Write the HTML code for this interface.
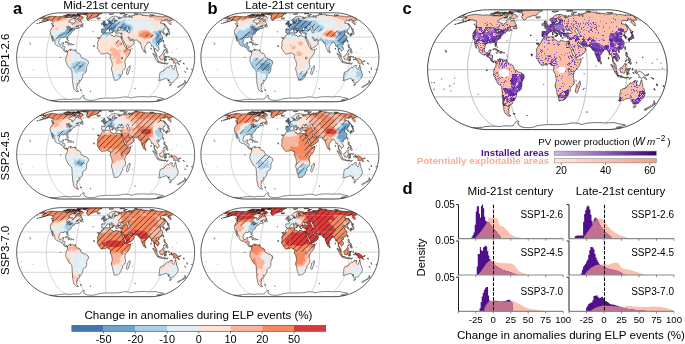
<!DOCTYPE html><html><head><meta charset="utf-8"><style>html,body{margin:0;padding:0;background:#fff;}svg{display:block;will-change:transform;}text{font-family:"Liberation Sans", sans-serif;}</style></head><body>
<svg width="685" height="344" viewBox="0 0 685 344">
<rect width="685" height="344" fill="#fff"/>
<defs><path id="land" d="M-137.8,-87.9 -131.3,-90.6 -127.3,-91.4 -120,-92.5 -117.3,-92.1 -112.9,-91.6 -110.3,-91.3 -107,-90.9 -102.3,-91.4 -99.5,-91.7 -97.3,-91.1 -94.4,-90.9 -91.6,-90.1 -86,-90.1 -83,-90 -78.4,-89.8 -75.3,-91.1 -71.6,-92.9 -71.6,-91.9 -71.6,-90.9 -69.8,-90.4 -66.8,-91.4 -65.2,-90.2 -65.8,-89.1 -68.6,-88.3 -71.6,-86.7 -74.2,-86.5 -76.9,-85.3 -80.8,-83.7 -82.9,-81.5 -82.5,-79.6 -79.7,-79.1 -76.9,-77.8 -74.5,-77.7 -75.9,-74.7 -74.7,-73.3 -73.6,-73.6 -71.6,-77.2 -69.3,-78.4 -67.9,-80.7 -68.4,-82 -66.4,-84 -66,-85 -62.5,-84.8 -61,-83.8 -60.7,-82 -59.5,-81 -56.5,-82.5 -55.7,-83 -55,-80.1 -55.2,-78.8 -53.5,-77.5 -52.5,-75.8 -51.7,-74.3 -53.6,-73.4 -56.5,-72 -60.2,-72.1 -62.8,-71.5 -67,-69.1 -61.2,-70.6 -61.8,-69.1 -62.5,-68.1 -61.9,-67.2 -59.3,-66.3 -61.5,-65.3 -64.6,-64 -65.2,-65.4 -65.5,-65.2 -67.7,-64.4 -69.5,-63.3 -70.1,-62.4 -69.5,-61.6 -71.2,-61.1 -74,-60 -74.4,-58.6 -76.3,-57.2 -77.4,-55.5 -78.1,-53.8 -77.6,-52.9 -79.3,-51.9 -81.7,-50.5 -83.9,-48.6 -85.2,-46.2 -85.1,-43.4 -85,-40.8 -85.9,-38.5 -86.7,-38.6 -87.1,-40.1 -87.5,-42 -87.3,-44 -88.2,-45.4 -89.9,-45.2 -90.7,-46 -92.8,-46 -94,-45.6 -94,-44.3 -95.4,-44.2 -96.8,-44.9 -98.9,-44.9 -100.8,-43.6 -103,-42 -103.8,-39.7 -104.7,-36.7 -105.4,-34.1 -105.2,-31.7 -104.5,-29.6 -103.1,-28.5 -101.8,-28.4 -99.9,-28.7 -98.3,-30.5 -97.6,-32.3 -95.6,-33 -94,-33 -95,-30 -95.6,-28.2 -96.3,-26.6 -96.6,-24.4 -95.2,-24.4 -93,-24.6 -91.3,-23.2 -91.8,-20.1 -92.3,-17.2 -91.7,-15.5 -90.1,-13.8 -87.8,-14.9 -86.2,-14.3 -85.6,-13.4 -86.3,-11.4 -86.9,-12.9 -87.9,-13.7 -89,-12.4 -88.9,-11.5 -90.4,-12.6 -92,-13.1 -94.7,-15.4 -94.6,-17.2 -96.3,-20.1 -98.3,-20.9 -100.5,-21.7 -101.8,-24 -103.7,-25 -105.6,-24.3 -107.7,-25.2 -110.2,-26.7 -112.6,-28.4 -114.4,-30.5 -113.8,-33.5 -114.5,-35.7 -115.7,-38.5 -116.6,-40.1 -117.5,-42.6 -118.4,-44.7 -118.5,-47.1 -119.8,-47.9 -120.1,-46.2 -119.4,-43.7 -119.1,-41.6 -118.6,-39.4 -118.4,-37 -117.7,-35.5 -118.4,-35.8 -119.7,-37.6 -119.6,-39.7 -120.7,-40.8 -121.4,-42.3 -120.6,-43.3 -121.6,-45.2 -121.7,-47.7 -121.8,-49.1 -122.4,-50.9 -124.3,-51.8 -124.4,-54.5 -124.4,-56.1 -124.8,-57.8 -124.3,-59.7 -123.2,-61.8 -122.6,-63.5 -119.8,-67.2 -118.9,-69.7 -116.8,-70.5 -117.5,-71.5 -118.5,-72.7 -118.9,-73.9 -118.4,-75.6 -118.7,-76.9 -118.5,-78.3 -118.8,-80.1 -118.7,-81.7 -120.8,-81.4 -121.8,-82.3 -124.1,-82.7 -125.6,-83.6 -128.4,-83.1 -131.7,-82 -132.7,-81.9 -129.1,-83.9 -132.4,-82.7 -135.4,-81.3 -139,-79.9 -142.6,-78.5 -145.4,-78 -148,-77.3 -150.2,-76.8 -147,-78 -143.1,-79.3 -139.2,-81.2 -140.6,-81.4 -141,-82.5 -142,-83.3 -141,-84.5 -138.4,-85.8 -133.8,-86.9 -134.6,-87 -137.6,-87 -137,-87.7ZM-50.6,-96.9 -46.6,-97.6 -41.7,-98.2 -38.7,-98.4 -35.7,-98.6 -32.3,-98.7 -28.9,-98.8 -25.5,-98.9 -22.2,-99 -19.1,-98.9 -16,-98.9 -13,-98.5 -10.5,-98.4 -7.9,-98.3 -11.5,-97.6 -13.2,-96.9 -13.1,-96.1 -14.5,-95.3 -15.9,-94.3 -16.7,-93.1 -17,-91.9 -18.9,-91 -21.4,-90.4 -25.5,-90 -28.5,-88.5 -31.2,-87.8 -33.1,-87.2 -34.4,-86 -36.4,-84.2 -37.8,-82.7 -39.3,-83.2 -41.1,-84.2 -42,-85.6 -42.5,-86.7 -43,-88.1 -43.2,-89.1 -42.5,-90.4 -40.5,-91 -42.2,-91.9 -40.3,-92.5 -41.6,-93.2 -41.9,-94.2 -42.4,-95.3 -44.1,-95.7 -47.5,-95.6 -49.3,-95.9 -50.4,-96.4ZM-85.6,-13.4 -84.6,-13.8 -83.8,-14.9 -83.3,-16.5 -81.9,-17.2 -80.5,-17.7 -79.4,-18.9 -78.6,-18.3 -79.3,-17.1 -79,-16.2 -78.8,-14.3 -78.1,-16.5 -77.1,-18.3 -76.6,-17.8 -75.3,-16.9 -73.2,-16.5 -71.2,-15.8 -69.5,-16.6 -68.8,-16.3 -68.3,-15.2 -67.3,-13.2 -66.2,-12.9 -64.6,-11 -63.3,-9.2 -61.5,-9.2 -59.9,-8.9 -58.2,-7.8 -57.2,-6.5 -56.6,-5 -55.9,-2.8 -55.6,-0.8 -55,0.3 -53.7,1.4 -52.2,1.1 -50.6,2 -49.2,3.9 -47.2,4.2 -45,4.4 -42.7,5.8 -41.3,7.5 -39.4,8.1 -38.7,10.9 -38.8,14 -40.2,16.3 -41.3,18.6 -42.6,20.6 -42.7,24 -42.7,27 -43.2,30 -43.8,32.3 -45,34.5 -46.8,35.3 -48.3,36.1 -50.1,37.2 -51.4,39.2 -51.5,41.8 -51.6,43.6 -52.7,46.3 -53.7,48.3 -54.8,50.7 -55.6,52 -57.1,52.3 -58.4,52 -60.2,51.6 -58.8,53.3 -58,54.5 -58.3,56.8 -60.1,57.5 -62.5,57.9 -62.3,60 -64.5,60.3 -64.4,62.1 -63.1,62.6 -63.6,63.1 -63.8,65 -64.9,65.7 -65.2,67.3 -63.9,68.5 -64.4,70 -64.3,71.9 -64.4,73.3 -63.4,74.4 -62.9,75.8 -60.8,77 -62.1,77.5 -63.9,77.5 -66,76.6 -68,75.2 -69.4,74.1 -70.6,72.4 -71.9,70 -72,67.9 -73.2,66.3 -72.5,64.1 -73.4,61.8 -73.9,59.2 -74.3,57.2 -74.6,55.5 -74.5,53.1 -74.3,50.1 -74.7,47.6 -75.2,44.7 -75.3,41.8 -75.2,38.9 -75.6,36 -75.8,32.3 -76.5,28.4 -77.8,27.2 -80.3,25.2 -82.4,23.5 -83.8,21.4 -85,18.9 -86.4,16 -87.9,12.4 -89.2,10.1 -90,9 -90.1,6.7 -89.2,5.3 -89.9,3.4 -89.3,0.9 -89,-1.2 -87.7,-2.3 -87.4,-3.9 -86.2,-5.5 -85.8,-7 -85.9,-10.1 -86.3,-11.4ZM-6,-53.6 -4.6,-52.7 -2.3,-52.6 -1,-53.3 1,-54.5 3.1,-54.9 5.6,-54.9 8.7,-55.1 10,-55.6 10.5,-55.1 11.3,-55.2 10.7,-54.2 11.4,-53 10.9,-51.9 10.3,-51.4 11.2,-50.5 11.9,-49.8 14,-49.4 15.9,-48.7 16.5,-47.3 19.4,-46.3 20.5,-45.9 21,-46.7 20.9,-48 21.4,-49 22.8,-49.5 24.1,-48.8 26.1,-48 28,-47.6 30.4,-46.7 31.9,-47.4 33.2,-47.6 33.9,-47.1 35.7,-47.3 36.7,-44.7 36.5,-43.4 36.3,-42.3 35.5,-43 34.3,-45.3 34.1,-44.7 34.9,-43 35.9,-41.1 36.5,-39.7 38.1,-36.7 38.4,-35.3 39.6,-33.8 40.2,-32.3 40.3,-30 40.8,-28.5 41.9,-27.8 42.6,-25.5 43.5,-23.7 44.9,-22.1 45.9,-20.8 46.9,-19.5 47.7,-18.6 47.4,-17.8 48.6,-16.3 50.2,-16.6 51.8,-17.2 53.8,-17.5 55.6,-18.3 56.5,-18.3 56.3,-16.3 56.1,-14.5 55.3,-12.4 54.5,-10.1 53.3,-7 51.6,-3.9 50,-2.5 48.7,-1.1 47.2,0.8 46.1,2.8 44.6,4.2 44,6.5 43.1,9 43.5,10.6 43.4,12.7 43.8,14.8 44.5,16.2 44.6,18.3 44.6,22 44.6,23.2 43.3,25.5 40.9,27.5 39.5,29 38.2,30.8 38.3,33 38.1,36 36.6,37.8 35,39.1 35,40.8 34.3,43.3 32.9,44.7 31.6,46.9 29.7,49 27.9,50.5 26.5,50.9 24.8,51.2 23.2,51.1 20.6,52.2 19.4,51.4 19,50.9 19,49 18.6,46.9 17.9,44 17.3,43.3 16.2,40.8 15.9,38.2 15.6,35.1 15.4,33.8 14.4,31.5 13.3,28.5 12.9,26.7 13.4,23.2 13.7,20.9 15.1,18.6 14.7,16.3 14.6,14 14.2,12.4 13.5,9.3 13.4,7.8 12.3,5.9 10.8,3.7 10,1.6 10.3,-0.8 10.7,-2.3 10.9,-4.7 10.3,-5.9 9.5,-7.2 8.3,-6.9 7.2,-6.7 6.1,-7.8 5,-9.6 3.3,-10 1.7,-9.5 0,-8.9 -2,-7.5 -3.3,-7.9 -5,-8.1 -6.7,-7.2 -8.3,-6.9 -10.2,-7.9 -11.6,-9.6 -12.7,-10.7 -13.8,-11.7 -14.6,-13.2 -15.2,-14.9 -16.1,-16.3 -17,-17.4 -18.4,-19.1 -18.5,-20.9 -18.9,-22.6 -18.2,-24 -18,-25.5 -17.6,-27.8 -17.7,-30 -18.2,-31.5 -18.5,-32.3 -17.8,-34.5 -17,-36.4 -15.8,-38.5 -15.3,-40 -14.1,-42 -12.7,-42.9 -10.9,-44.2 -10.2,-45.4 -10.2,-47.4 -9.6,-49 -8.8,-50.1 -7.2,-51.1 -6.7,-52.5ZM54.3,18.6 54.9,21.4 55.3,24 54.4,26.3 53.6,28.5 52.5,31.5 51.2,35.3 50.4,37.9 48.6,38.9 47.1,37.9 46.8,35.7 46.7,33.5 47.4,32 48.2,29.7 48.1,26.6 48.7,25 50.3,24.4 51.5,23.2 52.7,21.1 53.7,19.4ZM-5.7,-53.8 -6.5,-54.9 -7.6,-55.5 -9,-55.2 -8.9,-57 -9.5,-57.6 -9,-59.5 -8.7,-61.2 -8.8,-62.6 -9.1,-63.3 -7.9,-64 -5.9,-63.9 -3.9,-63.6 -1.8,-63.6 -1.2,-65.2 -1.2,-66.9 -2.1,-68.4 -2.9,-68.9 -4.4,-69.2 -4.5,-70.1 -2.9,-70.3 -1.5,-70.2 -1.8,-71.4 -1.1,-71.1 0.1,-71.2 1.4,-72 1.5,-72.8 2.3,-73.1 3.4,-73.4 3.9,-74.1 4.4,-75.1 4.6,-75.6 6.3,-75.8 7.3,-75.9 8,-76.4 7.8,-77.9 7.3,-78.1 7.3,-79.6 8.9,-80.2 9.4,-80.3 9.2,-79.2 9.8,-78.9 9.2,-78.1 8.7,-77.5 9.3,-76.8 10.1,-76.4 11.1,-76.6 11.8,-77 13.1,-76.2 14.6,-76.7 15.9,-77.2 17.1,-77.2 17.9,-76.8 19.1,-77.8 18.8,-78.9 19.1,-79.9 20,-80.3 20.9,-79.7 21.6,-79.9 21.5,-81 20.7,-81.3 20.5,-81.9 21.8,-82.2 23.5,-82.2 24.6,-82.3 26.1,-82.6 25.1,-82.9 23.3,-83.2 21.6,-83 19.8,-82.6 18.4,-83.5 18.3,-84.9 18.6,-86 20,-86.8 20.9,-87.4 20.5,-88 19.2,-88.1 18,-87.9 17.7,-87 16.8,-86.1 15.6,-85.5 14.8,-84.8 14.8,-83.9 14.9,-83.3 16.3,-82.9 15.8,-82 14.8,-81.3 14.8,-79.9 14.6,-79.2 14,-78.8 12.9,-78.2 11.7,-77.9 11.6,-79.1 10.6,-80.2 9.9,-81.2 9.7,-81.8 9.1,-82.4 8.3,-81.7 7.3,-80.9 6.2,-80.7 5,-81.4 4.5,-82.2 4.3,-83.7 4.5,-84.8 5.7,-85.4 7.2,-86 8.3,-86.9 9.6,-87.8 10.2,-88.5 10.9,-89.5 11.9,-90.3 13,-90.8 14.5,-91.4 15.9,-91.7 17.8,-92 19.8,-92.3 21.9,-92.3 23.7,-91.8 24.2,-91.4 25.9,-91.1 28.4,-90.8 32,-89.8 33.3,-89 32.8,-88.3 31,-88.4 28.8,-88.7 27.2,-88.7 28.7,-87.4 28.9,-86.8 30.5,-86.4 31.2,-86.8 30.2,-87.2 31.4,-87.4 33.6,-87 34.3,-88.3 35.6,-88.4 35.5,-89.5 34.9,-90.4 36.6,-90.2 37.2,-89.8 39.2,-89.8 42.1,-90.4 43.4,-90.1 45.2,-90.4 46.6,-90.7 47.4,-91.4 49.7,-91.2 52,-90.8 53.7,-90.4 54.6,-90.1 54.7,-90.7 53.3,-91.2 51.5,-92.1 51.2,-92.7 51.6,-93.5 52,-93.8 53.2,-93.7 54.8,-93.5 55.4,-92.6 55.4,-92.3 56.5,-91.5 57.2,-90.8 58.5,-90.1 58.7,-89.5 58.7,-88.6 59.8,-89.1 60,-90 59,-90.8 57.9,-91.1 57.3,-91.9 56.1,-92.6 56.6,-93.2 58.1,-93 59,-93.3 60.9,-93.2 60.3,-94.1 62.3,-94.2 64.3,-94.3 63.6,-94.9 65.1,-95.3 67.5,-95.6 69.3,-95.8 71.5,-95.8 71.7,-96.2 73.1,-96.5 74.8,-96.3 76.6,-95.9 78.8,-95.9 80.7,-95.7 82.3,-95.2 83.1,-94.6 82.3,-94.2 81.7,-94.1 84.1,-94.1 86.2,-94.1 88.5,-94 90.9,-93.6 92.4,-94 94.4,-93.9 96.8,-93.5 98.6,-92.8 101.2,-92.3 101.3,-92.8 103.1,-92.7 105.3,-92.6 105.7,-93.3 106.8,-93.5 110.5,-93.2 113.2,-93 115.1,-92.6 117.5,-92.2 120.8,-92.3 123.1,-92.1 125.6,-91.4 127.5,-91.3 130.4,-91.2 132.5,-91.5 135.1,-91.2 137.5,-91.4 140.4,-91 142.2,-90.7 148.4,-87.5 148.4,-86.8 150.1,-85.2 149,-84.6 148.3,-84.3 147.9,-83.7 147.8,-82.7 145.1,-83.2 143.9,-82.8 143.3,-82.5 142,-82.5 142.7,-81.1 143.9,-80.3 145.5,-79.6 145.8,-78.6 146.7,-77.5 146.3,-76.6 146.8,-75.5 146.7,-74.1 146.6,-72.9 144.3,-74.7 141.8,-76.9 140,-78.5 139.2,-79.9 139.5,-80.4 140.1,-80.7 140.3,-81.9 139.8,-83 139.4,-84.4 138.9,-85.1 138.3,-85.1 138.6,-84.2 137.6,-83.7 134.8,-84.5 133.5,-84.2 134.5,-82.2 133,-81.8 130.2,-82.3 129.3,-82 127,-82.1 124.9,-82 124.4,-81.3 124.1,-80.3 124,-79 124.5,-77.2 123.1,-76.9 125.2,-76.2 126.8,-76.1 128.8,-75.5 131.1,-74.3 132.1,-72.9 133.3,-70.6 133.8,-69.6 133.5,-67.9 133.7,-66 133,-64.7 132.5,-63.4 131.3,-62.9 130.1,-63.4 129.5,-62.2 129.4,-60.5 129.8,-59.7 128.7,-59.1 128.3,-58.4 129.8,-57.2 131.6,-55.5 132.6,-53.6 132.6,-52.6 131.5,-52 130.5,-51.6 129.8,-52.7 129.6,-54.1 128.9,-54.9 128.6,-56.1 127.2,-56.1 126.4,-57.4 126.2,-58.4 125.2,-59 124.2,-58.7 123,-58.6 122.5,-57.6 122.3,-58.6 122.3,-59.7 121.3,-60.4 120.7,-59.7 120,-59 119.5,-58 118.9,-57.8 119,-57 120.3,-56.3 121.2,-55.5 122,-55.7 122.6,-56.3 124.6,-55.7 124.8,-55.1 123.3,-54.7 123.1,-53.8 122.7,-52.3 124,-51.5 125.6,-49.1 127.2,-47.9 127.6,-46.7 127.3,-45.9 128.2,-45.3 128.3,-43.3 127.8,-42.3 127.4,-40.4 127.5,-39.1 126.9,-37.6 125.9,-36.1 124.8,-35.1 123.1,-34.2 122.3,-34.1 120.9,-33.5 119.4,-32.6 119.4,-31.2 118.6,-32.9 117.1,-33.2 116.1,-32.9 115.5,-31.8 115,-30.5 114.9,-29 116.1,-27.3 117.3,-25.5 118.7,-24 119.7,-21.7 120.3,-19.4 120.4,-17.8 119.2,-16.8 117.8,-16.2 117.2,-14.5 115.9,-13.4 115.9,-14.9 115.2,-16.2 113.6,-17.1 112.9,-18.9 111.5,-19.7 110.9,-20.9 109.9,-20.5 110.1,-18.8 109.6,-16.5 109.8,-14.3 111.1,-12.4 111.4,-10.9 112.5,-10.6 113.4,-9.5 114.7,-7.5 114.8,-5.6 115.4,-3.6 115.9,-2.2 115,-2 113.9,-3.3 112.5,-4.5 111.7,-6.2 111.2,-8.6 110.9,-10.1 109.6,-12.1 108.8,-12.9 109,-15.5 108.6,-17.8 108.4,-20.1 107.2,-23.2 106.7,-25.5 105.4,-25.9 104.4,-24.4 103.2,-24.7 103,-27 102.5,-29 101.5,-30 100.3,-32 99.6,-32.7 98.9,-34.4 97.6,-34.5 97.4,-33.6 96,-33.6 95.2,-33.2 93.8,-33 93.7,-31.1 92.3,-29.7 91.4,-28.2 89.9,-25.8 88.9,-25 87.9,-24 88.1,-20.9 88.4,-18.6 88.1,-16.3 87.4,-15.8 87.2,-14 86.3,-13.1 85.8,-12.6 85.2,-13.4 84.3,-15.2 83.4,-17.8 82.3,-20.1 81.3,-22.9 80.4,-24.7 79.5,-27.8 79,-29.9 78.8,-31.8 78.4,-33 77.9,-32.3 76.6,-31.8 74.6,-34.2 75.6,-35.1 73.8,-35.5 72.6,-36.4 71.9,-37.9 71,-38.8 68.9,-38.6 67.3,-38.6 65.7,-38.3 63.5,-38.8 61.9,-39.1 61,-40 60.3,-41.1 59.4,-41.3 58.2,-40.4 56.7,-40.8 55.3,-42 54.1,-43.4 53.1,-44.7 52.5,-45.4 51.4,-45.9 50.4,-45.4 50.3,-44.4 51.3,-43.1 52.2,-41.6 53.3,-40.4 53.3,-39.2 54.1,-38.1 54.2,-39.1 54.5,-39.8 55.1,-38.9 55,-37.5 56.3,-37 57.9,-37 58.8,-38.1 59.7,-39.4 59.9,-40.1 60.3,-38.2 60.8,-37.2 62,-36.3 63.1,-36 64.4,-34.5 64.3,-33 63.3,-31.5 62.7,-30.5 62.7,-29.1 61.6,-28.5 60.5,-27 59.5,-26.3 57.4,-25.3 57.1,-24.1 55.3,-23.2 53.7,-22.4 52.2,-21.2 50.3,-20.6 49.5,-19.8 47.9,-19.7 47.6,-20.8 46.9,-22.9 46.7,-24.3 46.3,-25.9 45.3,-27.8 44.3,-29.9 43.2,-31.2 42.2,-33 41.9,-34.7 41.1,-36.4 40.2,-37.3 39.7,-38.5 38.6,-40.2 37.7,-42 37.1,-42.7 36.7,-44.7 35.7,-47.3 36.1,-48.3 36.3,-49.5 36.7,-50.9 36.9,-52.5 36.8,-53.4 37,-54.7 36.3,-54.7 35.3,-54.9 34.3,-54.1 33.3,-54 31.6,-54.8 31,-54.2 29.8,-54.5 28.6,-54.8 27.9,-55.3 27.4,-56.4 26.7,-57 27.1,-57.9 26.4,-58.6 26.3,-59.3 27.2,-59.7 29,-60.4 29.1,-60.8 31.2,-60.7 32.8,-61.7 34.7,-61.8 36.4,-60.9 38.2,-60.4 39.9,-60.5 41.3,-61.2 41.1,-62.6 39.6,-63.6 37.9,-64.8 36.5,-65.4 35.8,-66 36.8,-66.9 37.7,-68.4 36.7,-68.3 35.2,-67.7 34.1,-67 34,-66.2 35.5,-66.2 34.9,-65.5 33.5,-64.9 32.6,-65.2 32.7,-65.8 31.6,-66.2 32.4,-66.9 30.9,-67.5 29.9,-67.7 29.3,-66.9 28.9,-66.2 28.8,-65.7 28.1,-64.8 28.1,-63.6 27.6,-62.6 27.8,-61.7 28.9,-60.9 28.1,-60.5 27.2,-60.4 26.2,-60 26,-60.4 25,-60.4 24,-60.1 23.4,-59.5 22.6,-59.6 23,-58.4 23.7,-57.2 24.3,-56.8 23.4,-56.4 23.4,-55.6 23.4,-54.5 22.9,-54.4 22.1,-55.1 21.6,-56.1 21.5,-57 21,-57.9 20.3,-58.7 19.5,-59.9 19.3,-61.1 19.5,-61.6 18.3,-62.5 17.3,-63.1 15.9,-63.8 14.9,-64.7 14.5,-65.7 13.8,-65.9 13.5,-65.5 13.2,-66.5 12,-66 12,-65.2 12.3,-64.5 13.4,-63.9 13.8,-62.7 15,-61.7 16,-61.6 15.9,-61.2 17.1,-60.5 18.5,-59.3 18,-59.2 17,-59.9 16.7,-59 17.2,-58.2 16.8,-57.1 16.2,-56.4 15.8,-56.8 16,-57.6 16.2,-58.3 15.6,-59.3 14.8,-60 14,-60.5 12.9,-60.9 12,-61.6 11.1,-62.4 10.4,-63 10,-64.1 9,-64.8 8.2,-64.7 7.4,-64.1 6.4,-63.3 4.9,-63.6 3.9,-63.8 3.1,-63.3 3.2,-61.7 2.1,-60.9 0.8,-60.3 0,-59 -0.3,-58.3 0.2,-57.5 -0.6,-56.8 -0.8,-56 -1.6,-55.2 -2.2,-54.8 -3.7,-54.8 -4.7,-54.5 -5.4,-54ZM-142.2,-90.7 -138.8,-91.1 -140.2,-89.3 -138.6,-89 -138.5,-88.4 -140.4,-87.8 -143.2,-87 -144.5,-87.1 -145.8,-87.6 -147.8,-87.4 -148.4,-87.5ZM122.1,33.8 123.2,33.5 124.9,32.3 126.3,31.7 128.7,31.2 131.3,30.2 133.1,27.8 133.7,26.3 134.8,26.3 136,24.7 137,23.2 138.3,22.1 139.4,21.4 140.2,22.4 140.5,23.2 141.4,23.1 142,22.6 142.6,20.9 143.3,20.1 144,19.2 145.1,18.9 146,18.8 146.2,17.8 147.1,18.3 148.6,18.9 149.8,18.5 150.6,18.9 149.8,20.6 148.8,22 148.5,23.2 149.4,24.4 150.4,25.2 151.5,26.3 151.9,27 153.2,27.2 153.9,26.3 154.9,24 155.6,20.9 156,19.4 156.5,17.8 157.2,16.6 157.6,17.8 157.8,19.4 157.7,21.4 158.3,22.1 159.2,23.2 159,25 159.3,26.3 159.1,28.5 159.4,29.7 160.5,30.6 161.1,31.5 161.3,34.1 162.1,34.7 161.9,36 162.6,37 163.2,38.6 163,40 162.7,41.8 162.1,43.7 160.9,45.4 159.9,47.3 158.7,48.7 157.1,50 155.9,51.4 154.6,52.9 153.2,54.5 152.3,55.9 150.7,56.3 149.5,56.5 147.5,58 147.1,57.2 146.6,56.8 145.6,57.2 144.4,57.6 143.2,57 142.4,56.5 142.2,55.6 142.7,54.2 142.5,53.4 141.7,53.3 142.6,52.2 142.4,51.5 141.6,52.5 140.6,52.9 142.1,51.1 142.9,50 141,51.1 139.9,52 139.4,51.6 139.8,50.4 139.4,49.4 139,48.6 137.8,48.3 137,47.6 134.6,47.9 132.2,48.6 130.5,49.1 128.9,49.7 127.7,50.9 126.1,50.9 124,50.9 122,52 120.8,52.6 119.4,52.3 118.7,51.5 119.8,50.2 120.6,48.3 120.7,46.2 121.1,44.3 120.9,42.6 120.8,40.4 121,39.1 121.7,37.9 121.7,36.7 122.4,35.3ZM-50.1,-88.8 -52.6,-87 -54.7,-85.4 -57.7,-84.9 -60.3,-85.6 -60.8,-86.7 -64,-87.3 -59.3,-88.7 -57.9,-90 -58.6,-90.9 -61.2,-91.5 -65.3,-91.7 -68.3,-92.1 -67,-94 -63.2,-94.1 -59.5,-94.1 -58.1,-93.4 -55.2,-92.5 -52.7,-91.8 -52.7,-90.9 -50.6,-89.5ZM-91.1,-92.6 -88.1,-93.7 -83.8,-93.8 -79.7,-94 -78,-93.7 -77.6,-92.6 -79.5,-91.5 -83,-90.6 -87.4,-90.3 -90.1,-90.6 -91.5,-91.3ZM-95.6,-92.9 -92,-94.2 -88.3,-94.6 -86.8,-93.8 -91.3,-92.7ZM-64.3,-95.8 -60.1,-95.7 -56,-95.9 -52.1,-96.8 -49.1,-97.4 -44.9,-97.8 -40.5,-98.4 -42.5,-98.7 -45.3,-98.8 -48,-98.8 -51.5,-98.7 -54.9,-98.7 -60.7,-98.2 -64.6,-97.8 -63.2,-97.2 -61.4,-96.7 -63.2,-96.2ZM-66.1,-95.6 -61.5,-95.8 -58.2,-95.6 -58.7,-94.7 -63.3,-94.6 -67,-94.8ZM-83.9,-95.7 -79.2,-95.9 -76.4,-95.5 -71.1,-95.6 -70.7,-95 -76.1,-94.8 -80.7,-94.7 -84.5,-94.7ZM-75.9,-93.8 -72.7,-94.2 -67.3,-94.3 -68.2,-93.4 -71.8,-93 -74.1,-92.7 -76,-93ZM31.7,-97.7 33.3,-98 36.2,-98.3 39.9,-98.4 43,-98.1 40.3,-97.8 36.4,-97.7ZM-88.2,-95.7 -83.9,-96.3 -82,-95.9 -85.2,-95.4ZM-60.3,-94.1 -57,-94 -58.4,-93.4 -60.4,-93.6ZM-78.3,-90.9 -74.9,-91.5 -75.6,-90.5 -78.4,-90.1ZM-72.3,-95.7 -69.1,-95.9 -67.4,-95.5 -70.2,-95.1 -72.4,-95.3ZM-72.4,-86.8 -70.5,-88 -66.4,-87.9 -66.9,-86.5 -70.6,-85.9ZM-56.8,-68.9 -55.5,-70.6 -53.2,-73.4 -51.8,-73.5 -52.5,-71.3 -50.6,-70.6 -50.5,-68.8 -51.9,-67.8 -53.7,-68.1 -54.1,-68.9ZM-120.3,-72.6 -118,-72.1 -117.5,-69.9 -118.9,-70.2 -119.8,-71.6ZM-121.5,-76.5 -120.4,-76.2 -121.9,-74.3 -122.1,-75.2ZM-137.2,-80.1 -134.9,-80.6 -136.3,-79.7ZM-91.6,-33.6 -89.3,-35.1 -87.1,-35.4 -85.4,-34.7 -83.5,-33.2 -81.8,-32.3 -80.4,-31.1 -81.9,-30.6 -84.2,-30.6 -83.7,-31.7 -84.8,-33 -87.4,-33.3 -88.9,-34.1 -91,-33ZM-80.9,-28.5 -78.9,-30.6 -76.5,-30.5 -75.3,-29.6 -74.4,-28.7 -76.2,-28.1 -77.9,-27.3 -80,-28.1ZM-85.2,-28.4 -83.1,-28.1 -83.7,-27.5 -84.8,-27.6ZM-73.1,-28.5 -71.4,-28.4 -71.7,-27.8 -73.2,-27.8ZM-83.5,-38.5 -83.1,-38.1 -83.4,-36.9 -84,-37.3ZM-68.3,-16.8 -67.3,-16.8 -67.4,-15.7 -68.4,-15.7ZM-5.4,-71.9 -3.9,-72.2 -2.8,-72.6 -1.4,-72.6 0.5,-72.7 1.3,-73.2 0.9,-73.9 1.6,-74.9 0.5,-75.1 0.2,-75.8 -0.4,-76.8 -1.1,-77.2 -1.4,-78.1 -2.3,-78.5 -2.7,-79 -1.8,-79.6 -1.6,-80.2 -2.8,-80.3 -3.5,-80.4 -2.7,-81.3 -4.4,-81.3 -4.8,-80.8 -5.2,-79.9 -5,-79 -5.4,-78.3 -4.5,-77.9 -4.5,-77.2 -3.2,-77.3 -2.9,-76.5 -2.7,-75.7 -4.1,-75.7 -4.3,-75 -3.7,-74.4 -4.8,-73.9 -3.9,-73.6 -3,-73.4 -3.9,-73.2 -4.7,-72.9ZM-5.6,-74.3 -5.6,-75.8 -5.5,-76.9 -5.1,-77.2 -6.6,-77.8 -7.6,-77.5 -7.8,-76.7 -9.1,-76.6 -9.1,-75.8 -8.6,-74.8 -9.6,-74 -8,-73.6 -6.5,-74.2ZM-18.8,-86.4 -18.3,-87 -19.7,-87.8 -18.3,-88.5 -16.8,-88.2 -14.7,-88.5 -12.6,-88.6 -11.9,-88.1 -11.2,-87.5 -12.3,-86.8 -14.2,-86.3 -15.7,-86 -17.2,-86.2ZM7.6,-96.9 7.8,-97.5 10.8,-97.6 13.4,-97.8 18.2,-97.7 16.5,-97.2 14.5,-96.9 13.4,-96.3 11.4,-95.9 9.8,-96.4ZM39.8,-92.6 40.6,-94 41.3,-94.8 43,-95.7 46.1,-96.1 48.9,-96 47.6,-95.5 44.5,-95 43,-93.8 43,-92.9 44.5,-92 42.1,-92.1ZM64.4,-97.4 65,-97.8 66.1,-98.2 69.6,-97.9 71.9,-97.3 70.1,-96.8 66.8,-97.1ZM98.9,-95.1 99.8,-95.6 102.7,-95.3 106.1,-95.2 109.1,-95.1 107.3,-94.7 105.3,-94.2 102,-94.5ZM-137.9,-92.5 -135.8,-92.6 -137.2,-92.2 -138.6,-92.2ZM137.5,-66.9 138.5,-67.5 137.1,-68.8 135.3,-70.6 134.5,-72.4 132.5,-74.7 130.4,-76.7 130.1,-76.6 132.1,-74.1 133.6,-71.8 135.7,-69.4 136.7,-67.9ZM139.3,-61.2 140.3,-61.6 142.2,-61.8 143.3,-63.5 141.4,-64.5 138,-66.3 138.4,-65 139.2,-63.6 138.2,-63.4 138.9,-62.2ZM140.8,-61.1 142.5,-59 143.2,-57 143.3,-55.9 143.9,-54.5 144.5,-52.7 143.8,-52.5 143.2,-51.9 141.7,-51.9 141.1,-51.5 140.6,-50.4 139.4,-51.5 138.1,-51.9 137.2,-51.6 135.3,-51.1 135.3,-51.9 136,-53 137.5,-53.1 139.3,-53.3 139.2,-54.9 139.6,-55.6 140.5,-56.4 141.1,-57.2 140.8,-58.7 140,-60 140.1,-60.7ZM137.5,-49.7 138.5,-50.1 139.3,-50.8 138.6,-51.5 137.7,-51.5 137,-50.9ZM134.3,-50.5 135.4,-50.9 136.8,-50 137.3,-47.6 136.5,-46.9 135.9,-47.7 135.3,-49.1 134.5,-49.7ZM129.2,-35.3 129.2,-37.2 129.8,-38.6 130.4,-38.2 130.5,-36 130.4,-33.8 130,-34.2ZM117.9,-29.7 119.2,-30.9 120.4,-30.3 120.2,-28.8 119.3,-28.1 118.3,-28.5ZM88.4,-10.1 88.4,-13.2 88.5,-15.2 89.4,-14 90.7,-11.4 90.3,-9.8 89.4,-9.2ZM131.2,-28.5 133,-28.5 133.6,-26.3 133.1,-24.4 133.5,-22.1 136.4,-20.1 135.1,-21.4 133.3,-21.1 132.3,-22.1 131.4,-24 131,-25.5 131.3,-27ZM135,-10.9 135.9,-12.3 136.7,-13.4 138.4,-15.2 140.1,-11.4 139.8,-9.8 139.1,-8.7 137.6,-10.1 136.7,-12.1 135.7,-11.5ZM134.4,-18.3 136,-18.9 137.6,-19.4 138.6,-17.1 137.5,-15.5 136.5,-14.8 135.3,-15.2 134.6,-16.3ZM129.7,-13.1 131.8,-16.9 132.1,-16.3 130.1,-12.9ZM105.7,-8.7 108.2,-8.1 109.6,-5.8 111.6,-3.4 112.8,-2.6 114.4,-0.8 115.3,1.6 116.6,3.6 117.7,4.7 117.3,9 116,9.2 114.8,7.5 113.6,6.2 112.4,4.1 111.4,1.6 110.3,-0.8 109.5,-2.6 107.9,-5 106.5,-7ZM116.6,10.6 117.5,9.2 119.9,9.8 122.5,10.1 123.6,10.3 124.9,10.7 126.8,12 126.6,13.5 124.5,13.1 122.3,12.6 120.1,12.1 117.9,11.5ZM127.2,12.9 128.9,12.7 131.7,13.1 133.9,12.9 136.1,12.9 136,13.5 132.7,13.7 129.4,14 127.7,13.7ZM137,14.6 138.8,13.4 140.7,13.1 139.3,14.3 137.5,15.8 136.4,16ZM121.1,-2.3 121.9,-3.1 123.3,-2.5 123.8,-4.1 125.5,-5 126.8,-7 128,-8.1 129.1,-10.1 129.8,-10.9 130.7,-9.5 132.2,-8.3 131.1,-7.5 130.6,-6.5 131,-3.1 132.1,-1.6 131,-1.1 130.6,0.8 129.5,2 129.4,3.9 128.8,5.9 127.2,6.1 125.5,5 123.9,4.7 122.4,4.5 122.3,2.6 121.3,0.9 121,-0.6ZM131.9,4.7 132.5,1.6 133.1,-0.3 133.9,-1.6 136.1,-1.6 138.3,-2.3 139.1,-2.3 137.8,-0.8 135,-0.8 133.9,0 134.4,1.6 136.3,1.2 137.1,1.6 135.3,2.8 135.8,5 136.7,6.7 136.1,7.5 134.9,7.5 134.3,5.5 134.1,4.2 133.6,7 133.6,8.7 132.5,8.6 132.5,6.2ZM141.6,-2.8 142.4,-2.3 142.2,-0.8 143,0 142.2,1.1 141.7,0 142.1,-1.6ZM142.1,5 144.9,5.1 145.2,5.9 142.7,5.5ZM145.5,2 147.2,0.6 148.9,1.2 149.1,3.1 149.9,5.1 151.6,3.6 153.3,2.5 156.1,3.7 157.2,4.2 159.3,5.5 160.9,6.9 161.7,8.6 163.5,9.5 163.8,10.6 163,11.7 163.9,13.4 165.2,14.8 166.2,16.2 165,16.2 163.4,15.7 162,14 161.1,12.3 159.8,11.8 158.7,12.9 158.1,14.3 156.7,14.3 155.4,13.2 153.8,12.7 152.7,13.1 153.2,11.4 152.8,8.4 150.9,7.2 149.3,6.2 147.9,6.2 146.8,4.5 148.4,3.9 146.8,3.4 145.8,2.3ZM164.7,8.6 166.9,8.4 168.7,6.7 168.8,8.1 167.4,9.6 165.2,9.6ZM173.7,13.2 176.4,14 177.6,15.2 176.7,15.5 174.1,14ZM144.5,60.1 146.1,60.7 148.1,60.4 147,62.1 145.6,63.4 144.3,63.9 143.5,63.6 143.9,62.1 144.2,60.8ZM178.1,51.6 178.5,52.9 178.5,54.2 179.3,54.9 178.7,56 179.7,56.4 181.2,56.1 179.4,58 178.2,58.3 177.2,59.5 175.2,60.9 174.2,61.3 173.9,60.9 175.4,59.6 175,58.6 175.1,58.2 176.6,57.2 177.8,55.6 177.9,54.7 177.7,53ZM172.8,59.9 173.5,60.5 173.2,61.4 171.4,62.7 170,63.8 167.8,64.8 165.6,66.7 163.5,67.7 162.4,67.7 161.2,66.9 162.3,65.9 163.5,65.3 165.2,64.4 168.1,63.3 169.8,62.1 170.9,61.2ZM12.6,-56.7 13.7,-56.8 15.8,-57 15.4,-55.6 15.5,-54.8 14.6,-55.2 12.7,-56ZM8.4,-60.5 9.2,-60.8 9.8,-60.4 9.7,-58.2 9.1,-57.9 8.5,-57.9 8.5,-59.2ZM8.5,-63 9.3,-63.1 9.4,-61.8 9.2,-61.1 8.5,-61.7ZM24.1,-53.3 25.7,-53 27,-52.7 25.7,-52.5 24.3,-52.7ZM33.2,-52.5 34.4,-52.9 35.4,-53.3 35,-52.2 33.8,-51.9ZM9.9,-78.3 11.3,-78.5 11.1,-77.7 10.2,-77.7ZM16.1,-80.6 16.8,-80.6 16.5,-79.8ZM-169,-31.1 -168.1,-30.5 -169.3,-29.1 -169.3,-30.2ZM-170.9,-33.2 -170.3,-32.7 -170.9,-32.6ZM193.3,27 194.8,26.7 194.2,28.1 193.2,27.9ZM177.7,31.1 179,32.3 180,34.2 179.1,34.1 177.8,32ZM182.6,23.2 183.1,23.7 183,25.5 183.4,27.3 183.1,27.5 182.7,24.7 182.4,24.1ZM-57.2,73.3 -54.1,73.3 -53.8,73.9 -55.1,74.4 -56.6,74.1ZM-34.7,76.4 -32.9,76.6 -33.2,77ZM65.4,70.2 66.9,70.6 65.6,71.4ZM59.7,32.1 60.3,32.3 60,32.9ZM101.8,-20.9 102.2,-20.8 102.3,-17.8 101.9,-18.3ZM-19,-43.7 -14.2,-44.3 -14.6,-42.7 -17.5,-42.6ZM-27.6,-26.4 -24.8,-25.6 -25.8,-23.1 -27.1,-24.4ZM-29.1,-57.5 -27.3,-57.6 -27.8,-57.1ZM-154.9,-75.6 -151.8,-76.4 -153,-75.7ZM-101.8,0.3 -100.7,0.5 -101.3,1.6ZM58.6,-19.7 60,-19.5 59.4,-19.1ZM-163.1,27 -162.7,27.2 -162.8,27.6ZM-188.7,21.4 -188,21.5 -188.3,21.8ZM148.7,-11.8 149,-11.7 149,-11.2ZM159,-21.1 159.3,-20.9 159.2,-20.5ZM-189.5,32.3 -189,32.6 -189.4,32.7Z"/><path id="bnd" d="M-100,100 -106.8,99.8 -113.4,99.1 -119.6,98.1 -125.6,96.7 -131.3,95 -136.8,93 -142,90.8 -147,88.3 -151.7,85.6 -156.2,82.7 -160.5,79.6 -164.6,76.4 -168.4,72.9 -172,69.4 -175.4,65.7 -178.6,61.8 -181.5,57.9 -184.3,53.8 -186.8,49.7 -189.1,45.4 -191.2,41.1 -193,36.7 -194.6,32.3 -196.1,27.8 -197.3,23.2 -198.3,18.6 -199,14 -199.6,9.3 -199.9,4.7 -200,0 -199.9,-4.7 -199.6,-9.3 -199,-14 -198.3,-18.6 -197.3,-23.2 -196.1,-27.8 -194.6,-32.3 -193,-36.7 -191.2,-41.1 -189.1,-45.4 -186.8,-49.7 -184.3,-53.8 -181.5,-57.9 -178.6,-61.8 -175.4,-65.7 -172,-69.4 -168.4,-72.9 -164.6,-76.4 -160.5,-79.6 -156.2,-82.7 -151.7,-85.6 -147,-88.3 -142,-90.8 -136.8,-93 -131.3,-95 -125.6,-96.7 -119.6,-98.1 -113.4,-99.1 -106.8,-99.8 -100,-100 100,-100 106.8,-99.8 113.4,-99.1 119.6,-98.1 125.6,-96.7 131.3,-95 136.8,-93 142,-90.8 147,-88.3 151.7,-85.6 156.2,-82.7 160.5,-79.6 164.6,-76.4 168.4,-72.9 172,-69.4 175.4,-65.7 178.6,-61.8 181.5,-57.9 184.3,-53.8 186.8,-49.7 189.1,-45.4 191.2,-41.1 193,-36.7 194.6,-32.3 196.1,-27.8 197.3,-23.2 198.3,-18.6 199,-14 199.6,-9.3 199.9,-4.7 200,0 199.9,4.7 199.6,9.3 199,14 198.3,18.6 197.3,23.2 196.1,27.8 194.6,32.3 193,36.7 191.2,41.1 189.1,45.4 186.8,49.7 184.3,53.8 181.5,57.9 178.6,61.8 175.4,65.7 172,69.4 168.4,72.9 164.6,76.4 160.5,79.6 156.2,82.7 151.7,85.6 147,88.3 142,90.8 136.8,93 131.3,95 125.6,96.7 119.6,98.1 113.4,99.1 106.8,99.8 100,100Z"/><path id="grat" d="M-189.1,45.4 -178.6,45.4 -168.1,45.4 -157.6,45.4 -147.1,45.4 -136.6,45.4 -126.1,45.4 -115.5,45.4 -105,45.4 -94.5,45.4 -84,45.4 -73.5,45.4 -63,45.4 -52.5,45.4 -42,45.4 -31.5,45.4 -21,45.4 -10.5,45.4 0,45.4 10.5,45.4 21,45.4 31.5,45.4 42,45.4 52.5,45.4 63,45.4 73.5,45.4 84,45.4 94.5,45.4 105,45.4 115.5,45.4 126.1,45.4 136.6,45.4 147.1,45.4 157.6,45.4 168.1,45.4 178.6,45.4 189.1,45.4M-200,0 -188.9,0 -177.8,0 -166.7,0 -155.6,0 -144.4,0 -133.3,0 -122.2,0 -111.1,0 -100,0 -88.9,0 -77.8,0 -66.7,0 -55.6,0 -44.4,0 -33.3,0 -22.2,0 -11.1,0 0,0 11.1,0 22.2,0 33.3,0 44.4,0 55.6,0 66.7,0 77.8,0 88.9,0 100,0 111.1,0 122.2,0 133.3,0 144.4,0 155.6,0 166.7,0 177.8,0 188.9,0 200,0M-189.1,-45.4 -178.6,-45.4 -168.1,-45.4 -157.6,-45.4 -147.1,-45.4 -136.6,-45.4 -126.1,-45.4 -115.5,-45.4 -105,-45.4 -94.5,-45.4 -84,-45.4 -73.5,-45.4 -63,-45.4 -52.5,-45.4 -42,-45.4 -31.5,-45.4 -21,-45.4 -10.5,-45.4 0,-45.4 10.5,-45.4 21,-45.4 31.5,-45.4 42,-45.4 52.5,-45.4 63,-45.4 73.5,-45.4 84,-45.4 94.5,-45.4 105,-45.4 115.5,-45.4 126.1,-45.4 136.6,-45.4 147.1,-45.4 157.6,-45.4 168.1,-45.4 178.6,-45.4 189.1,-45.4M-156.2,-82.7 -147.6,-82.7 -138.9,-82.7 -130.2,-82.7 -121.5,-82.7 -112.8,-82.7 -104.2,-82.7 -95.5,-82.7 -86.8,-82.7 -78.1,-82.7 -69.4,-82.7 -60.8,-82.7 -52.1,-82.7 -43.4,-82.7 -34.7,-82.7 -26,-82.7 -17.4,-82.7 -8.7,-82.7 0,-82.7 8.7,-82.7 17.4,-82.7 26,-82.7 34.7,-82.7 43.4,-82.7 52.1,-82.7 60.8,-82.7 69.4,-82.7 78.1,-82.7 86.8,-82.7 95.5,-82.7 104.2,-82.7 112.8,-82.7 121.5,-82.7 130.2,-82.7 138.9,-82.7 147.6,-82.7 156.2,-82.7M-66.7,100 -74.2,99.4 -81.1,97.6 -87.5,95 -93.5,91.5 -99.1,87.4 -104.2,82.7 -108.8,77.5 -113.1,71.8 -116.9,65.7 -120.4,59.2 -123.4,52.5 -126.1,45.4 -128.3,38.2 -130.1,30.8 -131.5,23.2 -132.5,15.5 -133.1,7.8 -133.3,0 -133.1,-7.8 -132.5,-15.5 -131.5,-23.2 -130.1,-30.8 -128.3,-38.2 -126.1,-45.4 -123.4,-52.5 -120.4,-59.2 -116.9,-65.7 -113.1,-71.8 -108.8,-77.5 -104.2,-82.7 -99.1,-87.4 -93.5,-91.5 -87.5,-95 -81.1,-97.6 -74.2,-99.4 -66.7,-100M-33.3,100 -37.1,99.4 -40.5,97.6 -43.8,95 -46.8,91.5 -49.5,87.4 -52.1,82.7 -54.4,77.5 -56.5,71.8 -58.5,65.7 -60.2,59.2 -61.7,52.5 -63,45.4 -64.1,38.2 -65,30.8 -65.8,23.2 -66.3,15.5 -66.6,7.8 -66.7,0 -66.6,-7.8 -66.3,-15.5 -65.8,-23.2 -65,-30.8 -64.1,-38.2 -63,-45.4 -61.7,-52.5 -60.2,-59.2 -58.5,-65.7 -56.5,-71.8 -54.4,-77.5 -52.1,-82.7 -49.5,-87.4 -46.8,-91.5 -43.8,-95 -40.5,-97.6 -37.1,-99.4 -33.3,-100M0,100 0,99.4 0,97.6 0,95 0,91.5 0,87.4 0,82.7 0,77.5 0,71.8 0,65.7 0,59.2 0,52.5 0,45.4 0,38.2 0,30.8 0,23.2 0,15.5 0,7.8 0,0 0,-7.8 0,-15.5 0,-23.2 0,-30.8 0,-38.2 0,-45.4 0,-52.5 0,-59.2 0,-65.7 0,-71.8 0,-77.5 0,-82.7 0,-87.4 0,-91.5 0,-95 0,-97.6 0,-99.4 0,-100M33.3,100 37.1,99.4 40.5,97.6 43.8,95 46.8,91.5 49.5,87.4 52.1,82.7 54.4,77.5 56.5,71.8 58.5,65.7 60.2,59.2 61.7,52.5 63,45.4 64.1,38.2 65,30.8 65.8,23.2 66.3,15.5 66.6,7.8 66.7,0 66.6,-7.8 66.3,-15.5 65.8,-23.2 65,-30.8 64.1,-38.2 63,-45.4 61.7,-52.5 60.2,-59.2 58.5,-65.7 56.5,-71.8 54.4,-77.5 52.1,-82.7 49.5,-87.4 46.8,-91.5 43.8,-95 40.5,-97.6 37.1,-99.4 33.3,-100M66.7,100 74.2,99.4 81.1,97.6 87.5,95 93.5,91.5 99.1,87.4 104.2,82.7 108.8,77.5 113.1,71.8 116.9,65.7 120.4,59.2 123.4,52.5 126.1,45.4 128.3,38.2 130.1,30.8 131.5,23.2 132.5,15.5 133.1,7.8 133.3,0 133.1,-7.8 132.5,-15.5 131.5,-23.2 130.1,-30.8 128.3,-38.2 126.1,-45.4 123.4,-52.5 120.4,-59.2 116.9,-65.7 113.1,-71.8 108.8,-77.5 104.2,-82.7 99.1,-87.4 93.5,-91.5 87.5,-95 81.1,-97.6 74.2,-99.4 66.7,-100"/><path id="casp" d="M45.9,-65.2 46.1,-66.4 47.3,-67.5 48.6,-68.1 49.5,-68.1 51.2,-67.5 51.7,-66 50.8,-65.9 50.1,-65.2 50.7,-63.8 52.2,-62.4 52.6,-61.1 53,-59.5 54.3,-58 54.8,-55.9 53.5,-54.9 52,-54.8 50,-55.9 49.4,-57.2 49.5,-59.5 50.4,-59.7 48.8,-60.8 47.6,-62.1 46.9,-63.1ZM-88.8,-67.8 -86.8,-67.7 -84.5,-67.5 -81.9,-67.5 -81,-68.8 -81.8,-70.2 -84.3,-69.9 -86.1,-69.2ZM-87.1,-61.8 -86.5,-61.3 -85.4,-62.5 -84.5,-64.4 -82.9,-66 -82.4,-66.8 -83.8,-66.8 -85.6,-65ZM-82,-66.8 -80.8,-67 -78.9,-67 -77.8,-66 -79,-65 -80.5,-63.4 -81.4,-63.1 -81.8,-64.4 -81.9,-65.7ZM-82.9,-61.4 -81.1,-61.2 -78.1,-62.6 -78.2,-63 -80.1,-62.5 -82.1,-61.8ZM-78.6,-63.5 -76.8,-63.6 -74.9,-63.9 -75,-64.5 -77,-64.3 -78.1,-64ZM35.6,-0.5 37.8,-0.5 38.7,1.6 37.2,4.4 35.3,3.1 35,0.8Z"/><path id="ant" d="M-125,96.8 -122.8,96.8 -120.5,96.8 -118.2,96.8 -116.1,96.7 -113.8,96.7 -111.6,96.7 -111.9,96.1 -109.7,96.2 -107.4,96.2 -106.1,95.7 -105.5,95.1 -102.1,95 -99.2,94.7 -95.8,94.5 -92.9,94.1 -88.8,94.3 -84.7,94.5 -80.5,94.8 -77.1,94.7 -74.5,94 -71.2,93.7 -67.3,93.8 -63.3,94 -59.8,93.9 -57.1,93.5 -57,92.3 -56.1,91.5 -55.2,90.8 -54.6,89.5 -53.9,88.3 -52.2,87.1 -50.3,86 -47.9,85.9 -48.1,87 -49.1,88.7 -49.2,90.4 -48.8,91.9 -46.8,93.3 -44.8,94.7 -43.3,95.5 -38.7,96.4 -35,96.6 -31.3,96.8 -28,96.6 -24.9,96 -21.6,95.5 -19.8,94.7 -18.6,94 -15.1,93.3 -11.5,92.6 -7.7,92.3 -3.9,92 0,91.5 3.9,91.7 7.8,91.5 11.7,91.7 15.6,91.5 19.4,91.8 23.4,91.4 27.5,91 31.4,91 36,89.8 40.4,89.1 44.6,88.9 48.3,89.4 52.2,89.5 54.3,90 54.9,91.1 56.1,91.5 59,91 61.9,90.4 64.2,89.5 68.8,89 73.1,88.7 77.3,88.5 81.7,88.3 85.5,88.5 89.8,88.3 93.1,89 97.1,89 101.5,88.7 105.9,88.5 110.2,88.3 113.6,88.8 116.4,89.5 119,90.4 122.3,90.8 125,91.4 127.8,91.9 130.3,92.5 126,93.7 122,94.7 117.9,95.6 115.5,96.1 115.5,96.6 118.6,96.7 121.7,96.8 125,96.8 117.2,98.5 108.8,99.6 100,100 98.3,100 96.7,100 95,100 93.3,100 91.7,100 90,100 88.3,100 86.7,100 85,100 83.3,100 81.7,100 80,100 78.3,100 76.7,100 75,100 73.3,100 71.7,100 70,100 68.3,100 66.7,100 65,100 63.3,100 61.7,100 60,100 58.3,100 56.7,100 55,100 53.3,100 51.7,100 50,100 48.3,100 46.7,100 45,100 43.3,100 41.7,100 40,100 38.3,100 36.7,100 35,100 33.3,100 31.7,100 30,100 28.3,100 26.7,100 25,100 23.3,100 21.7,100 20,100 18.3,100 16.7,100 15,100 13.3,100 11.7,100 10,100 8.3,100 6.7,100 5,100 3.3,100 1.7,100 0,100 -1.7,100 -3.3,100 -5,100 -6.7,100 -8.3,100 -10,100 -11.7,100 -13.3,100 -15,100 -16.7,100 -18.3,100 -20,100 -21.7,100 -23.3,100 -25,100 -26.7,100 -28.3,100 -30,100 -31.7,100 -33.3,100 -35,100 -36.7,100 -38.3,100 -40,100 -41.7,100 -43.3,100 -45,100 -46.7,100 -48.3,100 -50,100 -51.7,100 -53.3,100 -55,100 -56.7,100 -58.3,100 -60,100 -61.7,100 -63.3,100 -65,100 -66.7,100 -68.3,100 -70,100 -71.7,100 -73.3,100 -75,100 -76.7,100 -78.3,100 -80,100 -81.7,100 -83.3,100 -85,100 -86.7,100 -88.3,100 -90,100 -91.7,100 -93.3,100 -95,100 -96.7,100 -98.3,100 -100,100 -108.8,99.6 -117.2,98.5Z"/>
<linearGradient id="gp"><stop offset="0" stop-color="#cbb6e0"/><stop offset="0.5" stop-color="#8a62b6"/><stop offset="1" stop-color="#3d0070"/></linearGradient><linearGradient id="gk"><stop offset="0" stop-color="#fde9e1"/><stop offset="1" stop-color="#f79b82"/></linearGradient></defs>
<text x="13.0" y="14.0" font-size="16.50" text-anchor="start" font-weight="bold" fill="#000" >a</text>
<text x="207.5" y="14.0" font-size="16.50" text-anchor="start" font-weight="bold" fill="#000" >b</text>
<text x="402.5" y="14.2" font-size="16.50" text-anchor="start" font-weight="bold" fill="#000" >c</text>
<text x="402.5" y="194.1" font-size="16.50" text-anchor="start" font-weight="bold" fill="#000" >d</text>
<text x="106.2" y="8.7" font-size="11.60" text-anchor="middle" font-weight="normal" fill="#000" >Mid-21st century</text>
<text x="290.0" y="8.7" font-size="11.60" text-anchor="middle" font-weight="normal" fill="#000" >Late-21st century</text>
<text x="0" y="0" font-size="11.45" text-anchor="middle" transform="translate(8.7,58.1) rotate(-90)">SSP1-2.6</text>
<text x="0" y="0" font-size="11.45" text-anchor="middle" transform="translate(8.7,155.9) rotate(-90)">SSP2-4.5</text>
<text x="0" y="0" font-size="11.45" text-anchor="middle" transform="translate(8.7,250.4) rotate(-90)">SSP3-7.0</text>
<clipPath id="c1"><use href="#bnd" transform="translate(105.65 57.30) scale(0.4450)"/></clipPath>
<clipPath id="l2"><use href="#land" transform="translate(105.65 57.30) scale(0.4450)"/></clipPath>
<g clip-path="url(#c1)">
<use href="#grat" transform="translate(105.65 57.30) scale(0.4450)" fill="none" stroke="#c4c4c4" stroke-width="1.348"/>
<g clip-path="url(#l2)">
<use href="#land" transform="translate(105.65 57.30) scale(0.4450)" fill="#e3eff7"/>
<path fill="#fde4d6" d="M58.2,31.5 56.2,31.5 54.2,29.5 53.2,29.5 52.2,31 49.8,31 49,30.2 51,26.8 51,25.8 49.5,24.2 50.5,22.8 49.8,22 47.8,22 45.2,23.5 44.2,23 37.8,25.5 36.8,25.5 35,23.8 36.8,22 41,20.8 38,18.2 41.2,15.5 43.8,14.5 45.2,14.5 46.2,15.5 50.2,14.5 62.2,15 63.2,14 68.2,12.5 75.8,13 76.8,12 80.2,11.5 100.2,11.5 102.2,12 104,13.8 102.2,15.5 100.5,15.8 102,18.8 100.2,20.5 98.8,21 95.8,19 93.2,19 88.8,22.5 85,19.2 84.8,18 82.5,20.2 83,22.2 81.2,23.5 79.8,23.5 78.2,25 76.8,24.5 74.8,25.5 72.8,25.5 71.2,24 70.2,25.5 68.8,24 65.8,27 63.8,26.5 61,28.8 60.2,30.5 58.2,31.5ZM111.2,17.5 109.8,17 110,16.2 107.5,13.8 109.2,12 113.8,12 115,13.2 112.8,13 111.5,14.2 112,16.2 111.2,17.5ZM157.8,30 154.2,27.5 153.2,28 153.5,26.8 151,23.8 151,22.8 148.2,20.5 145.8,21 139.2,19 136.8,21.5 135.8,19.5 133.8,20.5 131.8,18 130.2,18.5 128.8,16 126.2,16 123.2,14 118,13.8 119.8,12 124.8,12 128.2,14 131.8,14 134.2,12 145.8,14 148.8,14 149.8,13 154.2,13 156.8,14.5 168.8,15 173.5,18.2 174,19.2 172,21.8 172.5,24.2 170.8,24 169.8,26 165.8,22 165,22.8 166.5,24.2 165.2,25.5 162.2,24.5 162,26.2 160.8,27 157.8,24 157,25.2 158,26.2 157.8,30ZM73.5,21.2 73.2,20.5 71.5,20.8 73.5,21.2ZM120.8,73 118.5,72.2 118.8,69 116,70.8 115.2,73 114.5,71.8 115,70.2 114.2,69.5 114,71.2 112.8,71.5 112,70.8 111.8,68 110.5,69.8 110.5,71.2 109.5,69.2 110.5,63.2 110,60.2 108.5,58.8 108.5,55.8 106.8,54.5 101.8,56 97.5,52.2 95,47.8 95.5,47.2 94,44.8 96,44.8 95.5,42.8 97.5,41.2 97,38.8 98.8,39.5 100.2,37.5 101.8,37.5 104.8,40.5 106.2,40 107.2,38.5 109.8,38 110.5,37.2 110.5,35.2 112.2,33 113.5,33.8 113,34.2 113.8,35 114.5,33.2 116.2,32 122.8,32.5 124.2,33.5 131.2,32.5 132.8,33 134.2,32 134.8,32.5 134.5,31.8 136.8,29 139.2,29.5 140.2,28.5 144.2,28 148.8,28.5 150,29.8 150.5,31.8 155,35.2 155,36.8 149,40.2 151,41.8 148.5,42.8 148.5,44.2 146.5,46.8 146.5,50.2 148,52.2 145.2,55 142,51.8 139.5,46.2 139.5,44.8 136.2,42 135.5,44.2 132.5,47.2 134,48.8 132.5,50.2 130.5,55.8 126.5,60.8 126.5,67.2 125,67.8 124.2,70 122.8,69.5 123,70.8 120.8,73ZM52.8,34 52.5,32.2 53.2,32 53.5,33.2 52.8,34ZM173.2,67 172.8,65.5 168.5,65.2 170.8,63.5 172.5,63.8 172,62.2 170.8,61.5 167.5,61.2 170,63.2 168.2,65 165.2,65 164.2,64 159.2,64.5 156,62.2 153,56.8 157,53.2 155.5,52.2 156.8,49 159,50.8 157.5,52.8 158.8,55 161.5,53.2 162,50.2 165.5,47.2 165.8,44 167,45.8 166.5,46.8 168.5,48.8 169.5,51.8 169.5,53.2 168.2,55 169.2,54.5 172.8,57 175.2,57 178.2,59.5 179.8,59.5 180.8,58.5 182.5,60.2 180.5,63.2 181.5,64.2 179.8,66 177.8,65 174.8,65 173.2,67ZM176.2,50 174.5,47.8 176.8,46 178.5,47.8 176.2,50ZM149.2,49.5 149.2,47.5 150,48.2 149.2,49.5ZM67.8,63.5 65.2,63.5 64,61.8 64,57.8 65.5,55.2 65.5,53.8 64,51.8 66.2,49 67.8,49 68,50.2 67,50.8 67.8,52.5 69.5,50.8 68.5,49.2 70.8,48 72.5,49.2 72.5,52.8 71,55.2 71.5,59.8 67.8,63.5ZM171.8,54 170,52.2 171.8,50.5 173.5,52.2 171.8,54ZM60.8,59.5 58.5,57.2 60.2,55.5 62.5,57.8 60.8,59.5ZM70.5,59.2 71,58.8 69.8,57.5 69.5,59.2 70.5,59.2ZM167,62.2 166.8,61 165.2,60.5 164,61.2 164.2,62.5 167,62.2ZM185.2,65.5 183.2,65.5 181,63.2 182.8,61.5 184.2,62 186.5,64.2 185.2,65.5ZM71.8,76.5 70.5,76.2 70.8,72.5 71.8,72.5 72.5,73.8 71.8,76.5ZM78.8,93.5 75.2,92.5 73,90.2 76,86.8 76,85.2 73.5,83.8 73.8,83 75.8,84 76.8,83 78.8,83.5 79.5,85.2 78.5,86.8 79,87.8 78.5,88.8 81.8,88 83.5,89.8 81.8,92 78.8,92 78.8,93.5ZM134.8,91 133.2,89 136.5,89.2 134.8,91ZM90.8,93.5 88.5,91.2 90.2,89.5 91.2,89.5 93,91.2 90.8,93.5Z"/>
<path fill="#fbb59d" d="M75.8,24.5 74.2,24.5 72.8,23 68.8,23 68,22.2 69.2,21 71.2,20.5 73.2,21.5 75.2,19.5 77.8,20 78.2,17.5 68.2,18 66.2,20 62.8,19.5 61.8,20.5 56.8,22 46.8,22.5 40.8,21.5 38.2,22 41,20.8 38,18.2 41.2,15.5 43.8,14.5 45.2,14.5 46.2,15.5 50.2,14.5 62.2,15 63.2,14 68.2,12.5 75.8,13 76.8,12 80.2,11.5 100.2,11.5 103,12.8 103,14.8 100.5,15.8 101,17.2 99.5,18.2 98.8,20.5 97.2,20.5 95.8,19 93.2,19 89.2,22 86.8,21 84.8,18 81.2,22.5 79.8,22.5 78.2,24 75.8,24.5ZM138.8,13 135.8,13 135.5,12.2 136.8,12 138.8,13ZM167.8,22 164.8,21.5 162.2,22 161.8,20.5 155.2,20.5 153.8,18 149.8,18 148.2,16 146.2,16.5 144.8,15 140,13.2 148.8,14 149.8,13 154.2,13 156.8,14.5 168.8,15 171.8,16.5 174,19.2 172.8,21 169.2,20 167.8,22ZM158,19.2 157.2,18 156.5,18.8 156.8,19.5 158,19.2ZM56.2,30.5 55,28.8 57.8,27.5 58.5,28.2 56.2,30.5ZM144.2,39.5 142.8,38 139.2,37.5 137.5,35.8 138.5,32.8 138,31.8 138.8,31 140.8,31.5 141.2,30.5 144.8,29.5 146.8,30.5 148.2,30 150.8,33 153.8,34.5 154.5,35.8 150.2,38.5 146.8,38.5 144.2,39.5ZM118.8,37 118,35.8 119.2,35 120,36.2 118.8,37ZM127.2,58 126,57.2 125.5,54.2 123,52.2 122.5,49.8 125.5,47.8 125.5,45.8 124.8,45 122.8,45 117.2,47.5 114,43.8 114.2,43 115.2,43.5 116.2,41.5 120.8,41.5 121.5,43.8 122.2,44 124.2,42 125.2,44.5 126.8,44.5 126.8,45.5 127.8,44.5 129.8,45.5 130.8,47.5 134,48.8 132.8,50 131.8,49 130.5,49.2 130.5,50.2 132,51.8 131.5,53.2 127.2,58ZM117.2,64.5 116,63.8 115.5,61.2 116.8,57.5 115.2,57.5 115,58.8 113.2,59.5 111,58.8 111.8,58 112.8,58.5 114,57.2 113.2,55.5 110.5,55.2 111,53.2 112.5,51.8 111.8,51 109.5,51.8 109.5,50.2 111.2,47 115.8,48.5 117.2,51 118.2,49.5 121,49.8 121.5,51.2 120.8,52 119.2,51.5 119,52.2 120.5,53.8 120,56.8 121.5,57.2 120,58.2 120,59.2 122.5,61.8 121.8,63 117.2,64.5ZM181.2,62.5 180.2,61.5 177.8,61 177.2,59.5 176.5,59.8 177,60.8 175.8,62.5 172.2,62.5 169,60.8 172.2,58 175.2,57 178.2,59.5 179.8,59.5 180.8,58.5 182.5,60.2 181.2,62.5ZM113.8,62.5 113,61.8 113.8,61 114.5,61.8 113.8,62.5Z"/>
<path fill="#f7895f" d="M49.8,21.5 45.2,20.5 41.8,21 38,18.2 41.2,15.5 43.8,14.5 45.2,14.5 46.2,15.5 50.2,14.5 62.2,15 63.2,14 68.2,12.5 75.8,13 76.8,12 80.2,11.5 100.2,11.5 103,12.8 102,15.2 100.8,15.5 100.5,16.8 99.2,17 98.5,18.8 96.8,20 95.8,19 94.2,19 90.8,20.5 88.8,19.5 86.2,20 85,19.2 84.8,18 83.2,19.5 80.8,19.5 79.2,16.5 67.8,16 65.8,18 63.2,18.5 61.2,20 49.8,21.5ZM149.8,38 144.2,38 140.2,36.5 139.5,34.8 140.8,33 142.2,33 143.2,32 148.2,31.5 153,35.2 151.8,37.5 149.8,38ZM125.2,52.5 124.2,52.5 123.5,51.2 125.2,51 125.2,52.5Z"/>
<path fill="#a9d0e6" d="M105.8,37.5 105,36.8 106,35.8 104.8,34.5 102.8,35 103,33.8 102.2,33 100.8,33.5 100,32.8 101,29.2 100.5,28.8 102.5,26.8 100.5,24.8 102,21.2 103.8,19.5 105.8,21 106,19.8 108.2,18.5 109.8,19.5 117.2,20 117.8,21 120.2,21.5 122.2,21 124.8,19 125.5,20.8 124.5,22.2 127.8,24 130.8,24.5 132.5,26.8 133,29.8 129.2,32 125.2,32 123.8,30.5 119.8,30 118.2,28.5 116.2,30.5 115.8,30 111.2,31.5 109.5,34.8 105.8,37.5ZM82.8,25.5 81.5,24.8 82.2,24 83,24.2 82.8,25.5ZM64.8,45 63,41.2 65.5,40.2 64.2,37 57.8,39 55.8,41.5 52.2,40.5 52,39.2 53.2,40 60.2,33 64.2,31.5 65.8,29 67.8,29.5 75.8,25.5 78.8,26 79.5,26.8 78.8,28 77.5,28.2 76.8,30 75.2,30 69,34.8 69.5,35.8 68,36.2 68.5,36.8 66.5,39.2 66.5,43.2 64.8,45ZM161.2,30.5 160,30.2 162.2,28 162.5,29.2 161.2,30.5ZM160.2,48 159.2,47.5 157.8,48 155.8,46 154.8,46 155,44.8 153.2,44 152,41.8 152,39.2 156,36.2 155.5,34.8 152.5,32.2 155.2,30.5 160.2,32 163.2,31 164.2,33 165.2,33 167.2,31 169.2,31.5 170,32.2 170,34.2 167.2,37.5 165.8,36 161.5,36.2 164,38.8 163,39.8 164.5,42.8 163.2,43.5 161.8,43 161,43.8 159.5,45.8 160.2,48ZM88.8,61 88,60.8 88.2,60 89,60.2 88.8,61ZM86.8,73.5 85.8,72 82.2,72 81.2,71 79.8,72.5 78.8,72 76.2,73.5 74,71.2 74,69.8 72.8,68.5 70.8,69 70,68.2 71.5,66.2 71.5,63.2 73.8,63.5 75.2,61.5 77.8,61 79.8,62 80.8,61 85.2,61.5 87,63.8 85.5,64.8 86,67.2 85,68.8 87.5,71.8 86.8,73.5ZM127.8,71 127,70.8 127.2,70 128,70.2 127.8,71ZM119.8,78 118,77.2 118.2,74 120.2,74 122,75.8 119.8,78ZM172.2,82.5 171.5,82.2 171.8,81.5 172.5,81.8 172.2,82.5Z"/>
<path fill="#6ea3d0" d="M108.2,33 103.8,33 101.5,31.8 101.5,29.8 102.5,28.8 102.5,26.8 101.5,25.2 103.8,20.5 111.8,20.5 114.2,22 116,24.8 116,27.8 113.8,29.5 109.8,30 108.2,33ZM128.2,31.5 125.8,31.5 122,28.2 122,25.8 123.8,24 126.8,25 127.2,26.5 129.8,26 131,27.2 131,28.8 128.2,31.5ZM57.2,38.5 56.8,37.5 62.8,33 71.2,28.5 75.5,27.8 72.2,31 57.2,38.5ZM158.8,46 157,44.2 155,38.8 157,36.2 155.5,33.8 156.2,32.5 160,33.2 159.5,35.2 162,38.8 162,42.8 158.8,46ZM81.8,67.5 79.2,67.5 78,65.8 78.8,65 80.8,65 82.5,66.2 81.8,67.5Z"/>
<clipPath id="h3"><path d="M90.8,20.5 86.2,20.5 84.8,18 82.2,20.5 80.8,20.5 80,19.8 79.8,16.5 68.8,16.5 58.2,20.5 41.8,20.5 41.5,19.8 42.8,18 51.8,14.5 62.2,15 63.2,14 68.2,12.5 75.8,13 76.8,12 80.2,11.5 100.2,11.5 103,12.8 102.5,14.8 100.8,15.5 96.8,20 95.8,19 93.2,19 90.8,20.5ZM127.8,32 125.2,31.5 123.2,28.5 118.2,29.5 107.2,28.5 104.2,27 103.5,24.8 104.8,23.5 108.8,22 115.2,21.5 122.2,22.5 124.8,23.5 126.5,25.2 126,26.8 129,29.8 127.8,32ZM57.8,39 56,38.8 59.2,35.5 65.8,31.5 74.2,27.5 77.5,27.2 76.8,28.5 70.2,33 57.8,39ZM160.2,43.5 158.8,43.5 156.5,40.8 155,35.2 155.5,33.8 156.8,33 160,35.8 161,37.8 161.5,41.8 160.2,43.5ZM151.8,37 144.2,37 142.8,36.5 142,35.2 143.8,34 151.2,34 153.5,35.2 153.5,36.2 151.8,37ZM120.8,44.5 117.2,44.5 115.5,42.8 115.5,41.8 117.2,40 120.8,40 122.5,41.8 122.5,43.2 120.8,44.5ZM126.2,54.5 124.5,52.8 125.2,49.5 127.2,49.5 128,50.8 128,53.2 126.2,54.5ZM81.2,69.5 76.2,69.5 73.2,68 72,66.2 72.5,63.8 76.2,61.5 80.8,61.5 83.2,62.5 85,64.2 85.5,66.2 83.8,68.5 81.2,69.5ZM120.2,77 118.5,76.2 119.8,74 121,74.8 120.2,77Z"/></clipPath>
<path clip-path="url(#h3)" d="M-84.9,104.8L10.1,9.8M-79.1,104.8L15.9,9.8M-73.3,104.8L21.7,9.8M-67.5,104.8L27.5,9.8M-61.7,104.8L33.3,9.8M-55.9,104.8L39.1,9.8M-50.1,104.8L44.9,9.8M-44.3,104.8L50.7,9.8M-38.5,104.8L56.5,9.8M-32.7,104.8L62.3,9.8M-26.9,104.8L68.1,9.8M-21.1,104.8L73.9,9.8M-15.3,104.8L79.7,9.8M-9.5,104.8L85.5,9.8M-3.7,104.8L91.3,9.8M2.1,104.8L97.1,9.8M7.9,104.8L102.9,9.8M13.7,104.8L108.7,9.8M19.5,104.8L114.5,9.8M25.3,104.8L120.3,9.8M31.1,104.8L126.1,9.8M36.9,104.8L131.9,9.8M42.7,104.8L137.7,9.8M48.5,104.8L143.5,9.8M54.3,104.8L149.3,9.8M60.1,104.8L155.1,9.8M65.9,104.8L160.9,9.8M71.7,104.8L166.7,9.8M77.5,104.8L172.5,9.8M83.3,104.8L178.3,9.8M89.1,104.8L184.1,9.8M94.9,104.8L189.9,9.8M100.7,104.8L195.7,9.8M106.5,104.8L201.5,9.8M112.3,104.8L207.3,9.8M118.1,104.8L213.1,9.8M123.9,104.8L218.9,9.8M129.7,104.8L224.7,9.8M135.5,104.8L230.5,9.8M141.3,104.8L236.3,9.8M147.1,104.8L242.1,9.8M152.9,104.8L247.9,9.8M158.7,104.8L253.7,9.8M164.5,104.8L259.5,9.8M170.3,104.8L265.3,9.8M176.1,104.8L271.1,9.8M181.9,104.8L276.9,9.8M187.7,104.8L282.7,9.8M193.5,104.8L288.5,9.8" stroke="#222" stroke-width="0.7" fill="none"/>
</g>
<use href="#grat" transform="translate(105.65 57.30) scale(0.4450)" fill="none" stroke="#cfcfcf" stroke-width="1.124" opacity="0.45"/>
<use href="#land" transform="translate(105.65 57.30) scale(0.4450)" fill="none" stroke="#111" stroke-width="1.124"/>
<use href="#casp" transform="translate(105.65 57.30) scale(0.4450)" fill="#fff" stroke="#111" stroke-width="1.124"/>
<use href="#ant" transform="translate(105.65 57.30) scale(0.4450)" fill="#fff" stroke="#111" stroke-width="1.124"/>
</g>
<use href="#bnd" transform="translate(105.65 57.30) scale(0.4450)" fill="none" stroke="#333" stroke-width="1.798"/>
<clipPath id="c4"><use href="#bnd" transform="translate(105.65 154.60) scale(0.4450)"/></clipPath>
<clipPath id="l5"><use href="#land" transform="translate(105.65 154.60) scale(0.4450)"/></clipPath>
<g clip-path="url(#c4)">
<use href="#grat" transform="translate(105.65 154.60) scale(0.4450)" fill="none" stroke="#c4c4c4" stroke-width="1.348"/>
<g clip-path="url(#l5)">
<use href="#land" transform="translate(105.65 154.60) scale(0.4450)" fill="#e3eff7"/>
<path fill="#fde4d6" d="M52.2,130 51.2,129 49.8,130 48.5,129.2 51,124.2 51,123.2 49.5,121.8 50.8,119.5 49.2,119 44.8,121 44.2,120.5 38.2,122.5 36.8,122.5 35,120.8 36.8,119 40.5,117.8 38,115.8 39.8,114 44.2,111.5 45.2,111.5 46.8,113 52.2,111.5 62.2,112.5 67.2,110 75.8,110.5 77.8,109 102.2,109 104,110.8 102.2,112.5 100,113.2 102.5,115.8 100.8,117.5 97.2,118 94.8,116 90.8,117.5 88.2,119.5 85,116.8 84.8,115.5 82.5,117.2 82.8,120 75.2,119 73.2,122.5 70.8,122.5 67.8,124 66,125.8 67,126.8 64.2,127.5 63.8,129.5 61.8,129 60.2,127.5 58.8,129.5 53.2,129 52.2,130ZM115.8,171 115,170.8 116,168.8 115.8,166 113.2,166.5 113,167.8 111.2,169 110,167.8 109.5,165.8 110.5,160.8 110,157.8 108.5,156.2 108.5,153.2 106.2,152 101.8,153.5 97.5,149.2 95.5,145.2 94,145.8 94.5,141.8 96,142.2 95.5,140.2 97,137.8 97,136.8 95.5,135.2 101,131.2 100.2,127.5 101.5,127.8 102.2,130 106.2,130 107.2,131 106.8,129 108.8,129 109.8,130 116.2,130 115.5,128.2 116.8,128 117.2,127 120.8,126 122.8,127.5 124.8,127.5 128,125.8 126.8,123.5 123.5,122.2 123.5,120.8 121.8,120.5 118.8,116.5 112.8,116.5 112.8,114 109.8,114 110,113.2 107.5,111.2 109.2,109.5 113.8,109.5 115.5,111.2 115,111.8 116.8,112.5 119,112.2 118,111.2 120.2,109 124.8,109 129.8,111.5 131.8,111.5 135.2,109 142.8,111 154.2,110.5 157.2,112 168.8,112.5 173.5,115.8 174,116.8 172,118.8 172.5,122.2 170.8,124 165.8,119.5 165.5,120.2 167.5,123.2 166.8,124.5 161.8,124.5 160.2,127.5 157.2,127.5 156.2,126 154.5,127.2 154,134.2 155.5,136.8 153,139.2 154.2,141 155.2,141 155,139.8 156.2,139 161,141.2 159.5,143.2 161,146.8 158,149.8 158.8,152.5 161,151.2 162,149.2 161.5,148.8 163.5,146.2 162,143.2 162.8,142.5 165.2,143 166.2,142 167,142.8 166.5,143.8 169,146.8 169,151.8 170.8,153.5 171.2,153 172.8,154.5 175.8,154.5 178.2,157 180.8,156 182.5,157.8 180.5,160.2 181.5,161.8 179.2,163.5 177.5,163.2 178.5,164.8 175.8,169.5 175,169.2 175.5,168.2 173.2,167 171.2,169.5 166.2,170.5 164.2,169.5 161.8,169.5 160.8,170.5 160,167.8 163.2,166.5 166,163.2 165.2,162.5 158.2,161.5 155.5,158.8 151,150.8 152.5,149.2 152.5,147.8 151.2,148.5 149,146.2 150,142.2 148.2,141.5 146.5,144.2 146.5,147.2 148,149.8 145.2,152.5 142,148.8 139.5,143.8 139.5,141.8 136.2,139 135.5,141.8 133,144.2 134,146.2 126.5,158.2 127.2,164 129.8,161 131.5,162.8 129.5,164.2 129.5,167.2 126.8,167.5 125.5,164.8 122.2,162.5 119,165.8 115.8,171ZM73.5,118.8 73.2,118 71.5,118.2 73.5,118.8ZM118.2,120 117.5,119.2 118.8,118.5 118.2,120ZM69.5,122.2 69.2,121 68,121.2 68.8,122.5 69.5,122.2ZM168.2,127.5 167.5,126.8 168.2,126 169,126.8 168.2,127.5ZM168.2,134 167.5,133.8 167.5,132.2 165.5,130.8 166.5,129.8 166.2,127 167.2,128 167.8,127.5 168.2,128.5 170.2,127.5 171,128.2 171.5,131.2 168.2,134ZM114.5,131.8 114.2,131 113.5,131.2 113.8,132 114.5,131.8ZM162.8,139 162,138.8 162.2,138 163,138.2 162.8,139ZM176.8,147 174.5,145.2 176.2,143.5 178.5,145.2 176.8,147ZM64.8,160 64,159.2 64,155.2 65.5,150.8 62,147.8 62.2,147 65.8,149 66.5,147.8 65.5,146.8 66.2,146 68.2,148 69.2,147 71.2,148 73.8,147 75.2,149 77.2,148.5 79.8,149.5 83.5,154.2 81.2,156.5 81.5,152.2 79.8,151 79.5,151.8 80.5,152.8 78,153.8 77.2,156.5 75.5,155.2 75.2,152.5 73.2,154 71.8,153.5 71,154.2 71.2,156.5 67.2,154.5 66,155.8 66,157.8 64.8,160ZM171.8,151.5 170,149.8 171.8,147.5 173.5,149.2 171.8,151.5ZM60.8,157 58.5,154.8 60.2,153 62.5,154.8 60.8,157ZM85.8,155.5 83.8,155.5 83.5,154.8 84.8,154.5 85.8,155.5ZM168.5,162.8 170.8,161 172.2,161 174,162.2 172,160.2 171.8,159 169.2,159 167.8,158 167.2,159 168.2,158.5 170,160.2 168,162.2 168.5,162.8ZM183.8,163 181,160.2 182.8,158.5 186.5,161.2 184.2,162 183.8,163ZM89.2,162 89,160.2 89.8,159.5 89.2,162ZM67.8,162.5 65.8,162.5 65,160.2 66.8,161 67.8,162.5ZM21.8,166 20,164.2 21.8,162.5 23.5,164.2 21.8,166ZM87.8,169 87,168.8 87,165.2 88.2,164.5 87.8,169ZM33.2,168.5 33.5,167.2 31.5,166.8 33.2,165 35,166.8 33.2,168.5ZM70.2,166.5 69.5,166.2 69.8,165.5 70.5,165.8 70.2,166.5ZM21.8,168.5 20.5,167.8 21.2,167 21.8,168.5ZM78.2,191 74.5,189.2 73,187.8 71.5,184.2 70.5,179.2 70.5,169.8 71.2,168 72.5,168.8 71.5,169.8 72.5,171.2 72,173.2 73,174.2 72.5,176.2 73.5,177.2 73.5,179.8 75.2,182.5 77.8,182 79,183.2 78.8,186.5 80.2,185.5 83,187.8 78.2,191ZM167.2,173.5 166.2,173.5 166,172.8 167.2,172.5 167.2,173.5ZM135.2,188 133,186.2 133.2,185.5 136,187.2 135.2,188ZM91.2,190.5 90.2,190.5 88.5,188.8 90.2,187 91.2,187 93,188.8 91.2,190.5Z"/>
<path fill="#fbb59d" d="M54.8,127.5 53.2,126 51.8,127.5 50,125.8 51,123.2 49.5,121.2 51,119.8 49.8,119 38.2,122.5 36.8,122.5 35,120.8 36.8,119 39.8,118.5 40.5,117.8 38,115.8 44.2,111.5 45.2,111.5 46.8,113 52.2,111.5 62.2,112.5 67.2,110 75.8,110.5 77.8,109 102.2,109 103.5,110.2 102.2,112.5 100,113.2 101.5,114.8 100.2,115 98.2,118 94.8,116 90.8,117.5 88.2,119.5 85,116.8 84.8,115.5 82.2,118 80.2,118.5 77.8,118 76.8,117 70.8,118 69.2,119 65.2,118.5 63.2,119.5 60.8,123 58.8,122 59,125.8 54.8,127.5ZM113.8,164 112,161.8 112,160.2 110,158.8 110,155.8 108.5,155.2 108.5,153.2 106.8,151.5 105.8,151.5 104.8,153 103.2,152.5 101.8,153.5 97.5,149.2 95,144.2 96,143.2 95.5,140.2 97,137.8 96.5,135.8 98.8,133.5 100.2,133.5 101.2,132.5 105.2,132 107.2,133.5 109.8,131.5 110.8,132.5 117.2,132.5 118.2,131.5 121.8,132 122.5,129.8 120.5,129.8 121.8,128.5 123.2,128.5 125.8,130 126.2,128 127.2,128 128.2,129.5 130.2,130.5 130.2,126.5 135.5,128.2 135.5,123.2 133.2,122.5 131.2,123.5 131,122.2 132,120.8 130.8,119.5 128.8,120 127.2,118.5 125.8,118.5 125.2,115.5 123.2,116 121.2,112.5 119,112.2 119.8,110.5 121.2,111.5 125.2,111.5 127.8,110.5 131.8,111.5 135.2,109 142.8,111 154.2,110.5 157.2,112 168.8,112.5 173.5,115.8 174,116.8 172,118.8 172.5,120.8 170.8,122 167.8,121.5 165.8,119.5 165.2,121 158.8,121.5 158.8,123.5 157,122.8 156.8,120.5 155.5,121.2 155.8,122 154,122.8 153.5,124.8 152.5,125.2 153.5,136.8 150,137.8 150,140.8 151.5,141.8 150.5,146.8 149,146.2 150,144.2 150,142.2 149.2,141.5 148.2,141.5 146.5,144.2 146.5,147.2 147.5,148.8 146.8,150.5 143.5,150.2 143.5,149.2 141.5,147.8 139.5,143.8 139.5,141.8 136.2,139 135.5,141.8 133,144.2 134,146.2 126.5,158.2 127,161.8 125.2,161.5 125,160.2 123.8,159.5 121.2,159.5 120,160.2 119.2,162 118.5,161.2 119.2,160 117.2,160.5 113.8,164ZM176.2,162 175.2,160 174,160.2 174.5,161.2 173.8,162 171.8,159 169.2,159 168.5,158.2 169.2,157 171,157.2 171.2,154.5 175.8,154.5 178.2,157 180.2,156.5 180.8,157.5 181.8,157 182.5,157.8 179.8,161.5 179.5,159.8 178.2,159.5 176.2,162ZM174,157.8 174.8,156.5 173,157.2 174,157.8ZM129.8,162.5 128.5,162.2 129.8,161 129.8,162.5ZM172.8,162 171.2,162 171,161.2 172.2,161 172.8,162Z"/>
<path fill="#f7895f" d="M58.8,120 53.2,120 52.2,119 48.8,119.5 45.2,119 44.2,118 42.2,118 40.8,120 39.5,118.8 40.5,117.8 38,115.8 44.2,111.5 45.2,111.5 46.8,113 52.2,111.5 62.2,112.5 67.2,110 75.8,110.5 77.8,109 102.2,109 103,109.8 102.5,112.2 100.2,113 100.5,113.8 98.8,114.5 98,116.2 96.8,117 94.8,116 92.8,117 87.2,117.5 85.2,117 84.8,115.5 83.2,117 79.8,117.5 78.8,115 76,115.2 77.5,114.2 76.2,113 74.8,115.5 73.8,114.5 73.2,115.5 71.2,115 70.8,116.5 66.8,117 64.2,118.5 60.2,118.5 58.8,120ZM164.2,120 163.2,118.5 159.8,119.5 158.2,118.5 157.2,119.5 155.8,119 152.8,120 149.2,118.5 145.8,118.5 144.8,119.5 143.2,119 141.2,120 138.8,118.5 135.8,119 136,117.2 135.2,116 132.2,114.5 131.8,115 130.2,113.5 128.2,113.5 128,111.8 128.8,111 131.8,111.5 135.2,109 142.8,111 154.2,110.5 157.2,112 168.8,112.5 171.8,114 174,116.8 171.8,119 170.8,118 168.8,119.5 165.8,117.5 164.2,120ZM52.2,122.5 51.2,122.5 51,121.8 51.8,121.5 52.2,122.5ZM145.8,147.5 141.2,146.5 139.5,143.8 139.5,141.8 136.8,139 135.5,140.2 135.5,141.8 133,143.8 134,140.8 133,139.8 133.5,138.2 132.5,137.2 134,135.8 133.5,134.2 137.5,131.2 137,127.8 138.2,126 149.8,126.5 153,131.2 153,134.2 148.5,137.8 148.5,141.2 146.5,144.2 147,146.2 145.8,147.5ZM127.8,156 126,155.8 126.2,154 125.2,154 123.8,155.5 121.8,154 121.2,154.5 117.8,148.5 117.2,150 116.2,148.5 113.2,149.5 110.8,148 109.2,148 108.2,149 106.2,148.5 104.8,149.5 102.2,148.5 101.2,150.5 98.8,150 97,144.8 97,136.8 99.2,135 101.2,136 104.2,134 108.8,135 110.2,133.5 111.8,135 112.8,134 115.2,135 116.2,134 119.8,134.5 120.8,133.5 124.2,132.5 128.8,133 129.2,131.5 130.2,131.5 129,135.2 130.5,137.2 130.5,139.2 127,142.8 126.5,145.2 129.2,148 130.8,147 132.5,148.2 130.5,152.8 127.8,156ZM132.8,147.5 132,146.8 132.8,144.5 134,145.8 132.8,147.5ZM101,149.2 100.2,148 99.5,148.2 99.8,149.5 101,149.2Z"/>
<path fill="#da3b3a" d="M145.8,135 142.8,134 140.5,131.2 143.2,129 148.8,129 151.5,132.2 148.8,134.5 145.8,135Z"/>
<path fill="#a9d0e6" d="M105.8,128 102,126.2 102.5,124.2 101,122.8 102,121.2 102,118.8 103.8,118.5 106.8,119.5 108.2,117.5 111.8,119 113.2,118.5 114,119.8 113,121.8 114.5,123.2 114,123.8 115,124.2 115,125.8 113.2,127 105.8,128ZM58.2,137.5 56.5,135.8 56.5,133.8 58.2,131.5 60.8,131.5 61.8,130.5 63.8,131 65.2,129.5 65.8,130 67.8,129 68.8,127.5 73,129.8 72.2,131 71.2,130 70.8,131.5 67.2,132.5 66.2,134.5 62.8,134 58.2,137.5ZM160.2,137.5 157.8,137 155.5,134.2 155,130.8 156.8,129.5 159.2,130.5 162.2,129.5 164,130.2 164.2,133 162.8,132.5 160.5,133.2 161.5,135.2 160.2,137.5ZM55.2,137 51,136.8 52.8,134.5 54.8,134 56,135.2 55.2,137ZM164.2,136 163,135.2 164.2,134 164.2,136ZM82.2,168 81.2,167 76.2,166 74,164.2 74.5,159.8 73.5,159.2 73.8,158 76.2,160.5 77.2,160.5 78.8,158.5 80.2,158 81.2,160 84.2,159.5 85,160.2 84.5,161.2 85.5,163.8 82.5,165.2 83,167.2 82.2,168ZM163.8,175 161.5,173.2 163.8,173.5 163.8,175Z"/>
<path fill="#6ea3d0" d="M104.8,123 103.5,122.8 104.2,121.5 104.8,123ZM111.8,124 110.2,124 110,123.2 110.8,122.5 112,123.2 111.8,124ZM81.2,165.5 78,164.8 78,162.2 78.8,161.5 81.2,161.5 82,162.2 82.5,164.2 81.2,165.5Z"/>
<clipPath id="h6"><path d="M63.2,119.5 49.8,119 48.8,119.5 41.2,118.5 41,117.2 42.8,115.5 50.8,112 62.2,112.5 67.2,110 75.8,110.5 77.8,109 102.2,109 103,109.8 102.5,112.2 100,113.2 102,115.8 99.2,118 97.2,118 95.2,116 90.2,118 86.2,118 84.8,115.5 82.2,118 71.8,118 63.2,119.5ZM128.8,154.5 108.8,154.5 108.5,153.2 105.5,151.2 105.5,150.2 103.2,147.5 97.8,147.5 96,144.8 96,139.2 97,137.8 97,135.8 98.2,134.5 131.2,134.5 132.5,133.2 133,129.8 129.5,118.8 126.2,114.5 122,112.2 122.5,110.8 120.5,109.8 120.8,109 124.8,109 129.8,111.5 131.8,111.5 135.2,109 142.8,111 152.2,110.5 161.8,112.5 167.2,115 169.5,117.2 169.2,118 165.5,118.2 166.2,122.5 154.2,122.5 153.5,123.2 153.5,126.8 151.5,129.8 151.5,132.2 148.5,136.8 149,141.2 146.5,144.2 147,146.2 146.2,147.5 141.8,147.5 139.5,143.8 139.5,141.8 136.2,139 135.5,141.8 133,144.2 134,146.2 132.5,147.8 130.5,152.8 128.8,154.5ZM108.2,127 103.8,126 102.5,124.8 102.5,122.8 105.2,121 110.2,121 112.2,122 113,122.8 113,124.8 110.8,126.5 108.2,127ZM60.2,136 55.2,136 55,135.2 56.8,133.5 61.8,131 68.8,129 73,129.2 69.8,132.5 60.2,136ZM81.2,165.5 76.8,164.5 75.5,162.8 76,161.8 77.8,160.5 83.2,161 84.5,162.2 84.5,163.8 81.2,165.5Z"/></clipPath>
<path clip-path="url(#h6)" d="M-83.6,202.1L11.4,107.1M-77.8,202.1L17.2,107.1M-72.0,202.1L23.0,107.1M-66.2,202.1L28.8,107.1M-60.4,202.1L34.6,107.1M-54.6,202.1L40.4,107.1M-48.8,202.1L46.2,107.1M-43.0,202.1L52.0,107.1M-37.2,202.1L57.8,107.1M-31.4,202.1L63.6,107.1M-25.6,202.1L69.4,107.1M-19.8,202.1L75.2,107.1M-14.0,202.1L81.0,107.1M-8.2,202.1L86.8,107.1M-2.4,202.1L92.6,107.1M3.4,202.1L98.4,107.1M9.2,202.1L104.2,107.1M15.0,202.1L110.0,107.1M20.8,202.1L115.8,107.1M26.6,202.1L121.6,107.1M32.4,202.1L127.4,107.1M38.2,202.1L133.2,107.1M44.0,202.1L139.0,107.1M49.8,202.1L144.8,107.1M55.6,202.1L150.6,107.1M61.4,202.1L156.4,107.1M67.2,202.1L162.2,107.1M73.0,202.1L168.0,107.1M78.8,202.1L173.8,107.1M84.6,202.1L179.6,107.1M90.4,202.1L185.4,107.1M96.2,202.1L191.2,107.1M102.0,202.1L197.0,107.1M107.8,202.1L202.8,107.1M113.6,202.1L208.6,107.1M119.4,202.1L214.4,107.1M125.2,202.1L220.2,107.1M131.0,202.1L226.0,107.1M136.8,202.1L231.8,107.1M142.6,202.1L237.6,107.1M148.4,202.1L243.4,107.1M154.2,202.1L249.2,107.1M160.0,202.1L255.0,107.1M165.8,202.1L260.8,107.1M171.6,202.1L266.6,107.1M177.4,202.1L272.4,107.1M183.2,202.1L278.2,107.1M189.0,202.1L284.0,107.1M194.8,202.1L289.8,107.1" stroke="#222" stroke-width="0.7" fill="none"/>
</g>
<use href="#grat" transform="translate(105.65 154.60) scale(0.4450)" fill="none" stroke="#cfcfcf" stroke-width="1.124" opacity="0.45"/>
<use href="#land" transform="translate(105.65 154.60) scale(0.4450)" fill="none" stroke="#111" stroke-width="1.124"/>
<use href="#casp" transform="translate(105.65 154.60) scale(0.4450)" fill="#fff" stroke="#111" stroke-width="1.124"/>
<use href="#ant" transform="translate(105.65 154.60) scale(0.4450)" fill="#fff" stroke="#111" stroke-width="1.124"/>
</g>
<use href="#bnd" transform="translate(105.65 154.60) scale(0.4450)" fill="none" stroke="#333" stroke-width="1.798"/>
<clipPath id="c7"><use href="#bnd" transform="translate(105.65 252.20) scale(0.4450)"/></clipPath>
<clipPath id="l8"><use href="#land" transform="translate(105.65 252.20) scale(0.4450)"/></clipPath>
<g clip-path="url(#c7)">
<use href="#grat" transform="translate(105.65 252.20) scale(0.4450)" fill="none" stroke="#c4c4c4" stroke-width="1.348"/>
<g clip-path="url(#l8)">
<use href="#land" transform="translate(105.65 252.20) scale(0.4450)" fill="#e3eff7"/>
<path fill="#fde4d6" d="M49.2,230 48.5,229.2 48.5,225.8 51,221.8 51,220.8 49.5,219.2 50.8,217 47.8,217 45.2,218.5 44.2,218 40.2,219 37.8,220.5 36.8,220.5 35,218.8 36.8,217 39.2,216.5 40.5,215.2 38,213.2 42.2,210 45.2,209 46.8,210.5 50.2,209.5 62.2,210 67.2,207.5 75.8,208 78.8,206.5 102.2,206.5 104,208.2 102.2,210 100,210.8 102,213.2 99.2,215.5 97.2,215.5 95.8,214 93.2,214 88.2,217 85,214.2 84.8,213 82.5,214.8 84.8,221 83.5,220.2 83.2,219 81.2,220 79.8,219 77.2,221 75.8,218.5 73.2,220 71.2,219.5 67.8,221 65.2,221 63.8,222.5 61.8,223 58.2,228 56.5,227.2 58,225.8 56.8,225.5 55.8,224 54.8,226 53.8,226 51.2,229 49.8,229 49.2,230ZM159.8,273.5 158.5,272.8 159,271.2 158,270.2 158,267.2 159.8,265.5 163.2,264.5 166.5,261.2 165.2,260 159.2,259.5 155,255.8 151,248.2 152.5,246.8 152.5,245.2 150.8,246 149,244.2 149,242.8 150,241.8 150,239.8 149.2,239 148.2,239 146.5,241.8 146.5,244.8 148,247.2 145.2,250 142,246.8 139.5,241.2 139.5,239.8 136.8,236.5 135.5,239.2 132.5,242.2 134,243.8 126.5,255.8 126.5,258.2 127.5,260.2 127,261.2 127.8,261.5 129.8,258.5 132,261.2 131.5,264.8 133,265.2 129.2,267 128.2,265 126.2,265.5 124.8,264 123.8,265.5 121.8,265.5 120.2,267 118.8,267 118.2,268.5 117.2,267 115.2,266 113.2,268 112.2,267 111,267.8 109.5,264.2 110.5,258.2 110,255.2 108.5,253.8 108.5,250.8 106.2,249.5 101.8,251 97.5,247.2 95.5,242.8 94.2,243.5 91.5,240.2 93.2,238.5 96,239.8 95.5,237.8 97,234.2 95.5,232.8 97.2,231 98.8,231 100.2,229.5 104.2,229.5 105,228.8 104.5,227.8 106.8,225.5 108.2,224.5 112.2,224 114,222.8 113.5,220.8 115.5,219.2 114.5,216.8 113,216.2 114,213.8 111.2,212 108.5,212.2 110,211.2 107.5,208.8 109.2,207 113.8,207 115.5,208.8 115.2,209.5 118.8,210.5 119.5,210.2 118,208.8 119.8,207 121.8,206.5 124.2,206.5 125.8,208 127.2,207.5 129.2,209 131.8,209 134.2,207 137.8,207 139.2,208 145.8,209 148.8,209 149.8,208 154.2,208 155.2,209 160.8,210 168.8,210 173.5,213.2 174,214.2 172,216.2 172.5,219.8 170.8,221.5 165.5,217.2 167,220.2 171,223.8 170.5,225.2 171.5,228.8 166.8,233 164.2,231 164,233.8 165.5,235.2 165,238.2 167,240.8 166.5,241.8 169,244.8 169,249.2 172.8,252 175.2,252 178.2,254.5 180.8,253.5 182.5,255.8 180.5,257.8 181.5,259.2 179.8,261 177.5,260.8 178.5,263.8 176.5,265.8 176.2,267 174.8,265.5 172.8,266 172.2,265 170.8,265 168.5,266.8 167.2,270 165.8,270 165.5,271.2 164.2,272 163.2,270.5 161.8,270.5 162.5,271.8 159.8,273.5ZM73.5,216.2 73.2,215.5 71.5,215.8 73.5,216.2ZM166,227.2 166.5,225.8 165.2,225 164.5,226.2 166,227.2ZM114,229.8 114.2,228.5 113,229.2 114,229.8ZM50.8,231.5 49.5,231.2 49.8,230 50.8,231.5ZM78.2,288.5 75.2,287.5 73,285.2 71.5,281.8 70.5,276.8 71,273.8 70,265.2 67,262.8 64,256.8 64,252.8 65.5,248.8 61.8,244.5 57.5,242.2 58,241.8 57.2,240 55.2,239.5 53.8,237.5 53.2,238 52.2,237.5 50,234.2 50,233.2 52.8,232.5 53.8,230.5 56.2,231 57.2,232 59.8,231.5 60.5,232.2 59,233.8 61,236.2 60.5,237.2 62.5,236.8 63,238.8 64.2,239 67,241.8 66.8,244 70.2,242 73.8,243.5 75.8,243 78.2,246.5 79.2,246.5 82,249.2 82.5,251.2 83.5,251.8 82.5,252.2 82.5,253.8 80.8,254.5 73.8,254 72.5,255.2 73,256.8 71.5,259.2 73,267.8 72.5,269.2 76.8,272 77.8,273.5 79.8,272.5 81.8,272.5 82.8,273.5 84,272.2 81.5,277.2 79,279.2 79.5,280.2 78.5,281.8 78.8,284 81.8,283 83.5,285.2 81.8,287 79.8,287 78.2,288.5ZM66.8,237 65.2,237 64.5,235.8 66.8,235 67.5,235.8 66.8,237ZM70.8,242 67,240.8 68.2,239 70.2,239.5 71,238.8 70.8,237 73.8,238 75.5,239.8 73.8,241.5 72.2,241 70.8,242ZM159,249.8 161.5,247.8 161.5,246.2 163.5,243.8 162,240.8 163.5,238.8 162.2,237.5 159.5,240.8 161,244.2 158,247.2 159,249.8ZM176.2,245 174.5,242.8 176.8,241 178.5,242.8 176.2,245ZM171.8,249 170,247.2 171.8,245 173.5,246.8 171.8,249ZM60.8,254.5 58.5,252.2 60.2,250.5 62.5,252.2 60.8,254.5ZM89.2,259.5 86.2,258.5 84.2,259.5 83,258.2 83.2,257.5 86.2,258 87,257.2 86,256.2 86,254.8 83.5,253.8 83.8,252 86.8,253 90,255.8 89.2,259.5ZM168.5,260.2 170.8,258.5 172,258.8 171.8,256.5 169.2,256.5 168.2,255.5 167.5,256.2 170,258.2 168.5,260.2ZM184.2,261 181,258.2 182.8,256.5 184.2,256.5 186.5,258.8 184.2,261ZM21.8,263.5 20,261.8 21.8,260 23.5,261.8 21.8,263.5ZM187.2,266 185,263.2 186.8,261 189,262.8 189,264.2 187.2,266ZM77.8,263.5 77,263.2 77.2,262 78,262.2 77.8,263.5ZM33.2,266 31.5,264.2 33.2,262.5 35,264.2 33.2,266ZM192.2,266.5 190,264.8 191.8,262.5 194,264.2 192.2,266.5ZM21.8,268.5 19.5,266.8 21.2,265 23.5,266.8 21.8,268.5ZM135.2,285.5 133,283.8 133.8,282.5 134.8,284 136.5,284.2 135.2,285.5ZM91.2,288 90.2,288 88.5,286.2 90.2,284.5 91.2,284.5 93,286.2 91.2,288Z"/>
<path fill="#fbb59d" d="M51.2,226 50.2,226 49.5,224.2 51,221.8 51,220.8 49.5,219.2 50.8,217 47.8,217 45.2,218.5 44.2,218 40.2,219 37.8,220.5 36.8,220.5 35,218.8 36.8,217 39.2,216.5 40.5,215.2 38,213.2 39.8,211.5 45.2,209 46.8,210.5 50.2,209.5 62.2,210 67.2,207.5 75.8,208 78.8,206.5 102.2,206.5 104,208.2 102.2,210 100,210.8 101,212.2 99,213.8 98.2,215.5 97.2,215.5 95.8,214 93.2,214 88.2,217 85,214.2 84.8,213 82.5,214.8 83.2,218 79.8,217 74.2,217 73.2,218 68.2,219 66.8,218.5 64.2,220.5 59.2,222 57.8,223.5 56.2,222.5 54.2,223 52.2,224 51.2,226ZM112.8,265 109.5,264.2 110.5,258.2 110,255.2 108.5,253.8 108.5,250.8 106.2,249.5 101.8,251 97.5,247.2 95.5,242.8 94,243.2 94.5,239.2 96,239.8 95.5,237.8 97,235.2 96.5,233.8 97.2,231.5 103.2,231.5 106,229.8 107.2,227.5 108.2,228 109.8,227 111.8,228 113.2,225.5 114.5,227.2 114.2,228 117.5,225.8 117,224.8 117.8,224 122,224.2 121,222.8 120.5,216.8 119,213.2 117.8,212.5 115.8,213.5 113.8,210.5 109.2,211 107.5,209.2 109.2,207 113.8,207 115.5,208.8 115.2,209.5 118.8,210.5 119.5,210.2 118,208.8 119.8,207 121.8,206.5 124.2,206.5 125.8,208 127.2,207.5 129.2,209 131.8,209 134.2,207 137.8,207 139.2,208 145.8,209 148.8,209 149.8,208 154.2,208 155.2,209 160.8,210 168.8,210 173.5,213.2 174,214.2 172,216.2 172.5,219.8 170.8,221.5 165.5,217.2 167,220.2 171,223.8 170.5,224.8 169.2,226 165.2,225 163.2,226 162.8,227.5 161.2,225 160.5,226.8 162,227.2 161,228.8 161.8,230 165.8,229.5 167.5,231.8 166.2,233 164.2,231 164.5,233.2 162.5,233.8 163.2,234.5 164.2,234 165.5,235.2 165,238.2 167,240.8 166.5,241.8 169,244.8 169,249.2 172.8,252 175.2,252 178.2,254.5 180.8,253.5 182.5,255.2 180.5,257.8 181.5,259.2 179.8,261 175.2,260.5 174.8,262.5 173.8,262.5 172.8,261 169.2,262 168.5,260.2 170.8,258.5 171.8,259 172,256.8 170.8,256 169.2,256.5 168.2,255.5 167.5,256.2 170,258.2 168.2,260 161.2,260 158.2,259 155,255.8 151,248.2 152.5,246.8 152.5,245.2 150.8,246 149,244.2 150,239.8 148.2,239 146.5,241.8 146.5,244.8 148,247.2 145.2,250 142,246.8 139.5,241.2 139.5,239.8 136.8,236.5 135.5,239.2 132.5,242.2 134,243.8 127.5,254.2 122.2,255 121,256.2 121,257.2 119.5,258.8 120,259.8 119.2,264 118.2,264 117.2,262.5 115.2,264.5 112.8,265ZM73.5,216.2 73.2,215.5 71.5,215.8 73.5,216.2ZM114,229.8 114.2,228.5 113,229.2 114,229.8ZM159,249.8 161.5,247.8 161.5,246.2 163.5,243.8 162,240.8 163.5,238.8 162.2,237.5 159.5,240.8 161,244.2 158,247.2 159,249.8ZM176.2,245 174.5,242.8 176.8,241 178.5,242.8 176.2,245ZM171.8,249 170,247.2 171.8,245 173.5,246.8 171.8,249ZM81.8,251.5 80.2,251.5 77.8,249.5 76.2,250.5 72.8,250.5 71.8,249 69.2,251.5 68.2,251.5 67.2,250 65.5,249.2 65,247.2 67.8,247 67.8,248.5 68.5,246.8 69.8,246 76.2,245.5 77.2,246.5 79.2,246.5 82,249.2 81.8,251.5ZM184.8,260.5 182.8,260 181,258.2 182.8,256.5 184.2,256.5 186.5,258.8 184.8,260.5ZM69.8,265 68,263.8 67.5,262.2 67.5,260.2 68.8,257.5 70,259.8 69.5,261.8 70.5,262.8 69.8,265ZM161.8,267.5 161,266.8 161.5,264.8 163.2,264.5 164.2,263 165,263.8 164.5,265.2 162.8,265.5 161.8,267.5ZM70.8,268 70,267.2 70.2,265.5 71,266.2 70.8,268ZM72.2,278 71.2,278 70.5,276.8 70.8,268.5 71,270.2 73,272.2 73,274.2 74,275.8 74,276.8 72.2,278ZM73.8,279.5 73.5,277.8 75.2,276 77.5,277.2 75.2,278 73.8,279.5ZM79.8,279 79.5,278.2 80.8,277 81,277.8 79.8,279ZM82.8,285.5 78.2,285 75,280.8 76.8,279.5 78.8,279.5 79.5,280.2 78.5,281.8 79,282.8 78.5,283.8 81.8,283 83.5,284.8 82.8,285.5Z"/>
<path fill="#f7895f" d="M52.2,222 51,221.8 50.5,220.2 51,219.2 50,218.2 50.8,217 47.8,217 45.8,218 39.2,217 38.8,217.5 38,216.8 40.5,215.2 38,213.2 41.2,210.5 45.2,209 46.8,210.5 50.2,209.5 62.2,210 67.2,207.5 75.8,208 78.8,206.5 102.2,206.5 104,208.2 102.2,210 100.2,210.5 100.5,211.2 99.2,211.5 96.2,214.5 94.2,214 91.8,215 87.8,214.5 86.2,215.5 84.8,213 81.2,216 79.2,216 77.8,214.5 76.2,216 71.8,215.5 72.2,217 67.2,216.5 66.2,218 63.2,218.5 61.8,220 60.2,219.5 58.8,221 53.8,220 52.2,222ZM112.2,254 111.2,254 110.8,253 108.8,254 108.5,250.8 107.2,249.5 101.8,251 97.5,247.2 96,244.2 97,240.2 96.5,235.8 98.2,233.5 108.2,232 109.2,231 111.2,232 113.2,230.5 114.8,231 116.8,229 118.2,229 119.8,227 123,225.8 123.5,223.2 122.5,221.8 122.5,218.8 120.5,213.8 118.8,211.5 116.2,211 115.2,209.5 119.2,210.5 118,208.8 119.8,207 121.8,206.5 124.2,206.5 125.8,208 127.2,207.5 129.2,209 131.8,209 134.2,207 137.8,207 139.2,208 145.8,209 148.8,209 149.8,208 154.2,208 155.2,209 160.8,210 168.8,210 173.5,213.2 174,214.2 172,216.2 172.5,219.8 169.8,220.5 165.8,217 165.5,217.8 167.5,220.8 166.2,220.5 165.8,222 163.8,220.5 162.2,220.5 161.5,217.8 157.8,215.5 155.2,215.5 154.5,216.2 155.5,218.8 158,219.8 158,224.2 159,225.2 158,225.8 157.8,227.5 152.5,226.2 153,227.2 151.5,229.2 152.5,230.2 151,231.2 150.5,232.8 150.5,236.8 152.8,238.5 155.8,236.5 159,238.8 160,241.8 160,245.2 159.2,246 158.2,245 154.2,247 152.8,247 152.2,245 150.8,246 149,244.2 150,239.8 148.2,239 146.5,241.8 146.5,244.8 148,247.2 145.2,250 142,246.8 139.5,241.2 139.5,239.8 136.8,236.5 135.5,239.2 132.5,242.2 134,243.8 132.5,245.2 130.5,250.2 128.8,252 127.2,252.5 126.2,251.5 122.8,251 121.2,252.5 118.8,253 114.2,253.5 113.2,252.5 112.2,254ZM114.8,209.5 110.8,209 107.8,209.5 107.5,208.8 109.2,207 113.8,207 115.5,208.8 114.8,209.5ZM143.5,216.2 146.8,216 147.5,214.8 144.2,213 141.2,212.5 140,213.2 140.2,215 143.5,216.2ZM134.5,220.2 135,218.8 133.2,217.5 130,218.2 130,219.8 131.2,220.5 134.5,220.2ZM180.2,259.5 175.8,259 174.8,258 172.2,258.5 172,256.8 168.8,256 168.5,254.8 171.8,251 172.8,252 175.2,252 178.2,254.5 180.8,253.5 182.5,255.8 180.5,257.8 181,258.8 180.2,259.5ZM182.2,259.5 181,258.2 182.8,256.5 184.2,256.5 186,258.2 182.8,258.5 182.2,259.5Z"/>
<path fill="#da3b3a" d="M82.8,212 76.2,211.5 72.8,212 71.8,211 66.8,211 66.5,210.2 69.2,209 79.8,208 81.2,206.5 91,206.8 82.8,212ZM145.8,239 142.2,239 137.8,235.5 131.8,236.5 128,234.2 129.8,232 132.2,231.5 135.2,229.5 140.8,231 145.8,231 148.5,234.8 147.5,237.8 145.8,239ZM116.2,247.5 105.2,246.5 102.8,245.5 101.5,243.2 107.8,240.5 117.2,240.5 121.8,241.5 123,240.8 122.5,235.8 123.8,234 127.2,234.5 129.5,236.8 130,241.2 128.2,243.5 126.2,244 124.2,243 124,244.2 121.8,246 116.2,247.5Z"/>
<path fill="#a9d0e6" d="M101.8,226 101.5,224.8 100,224.2 102.5,221.8 99.5,219.2 104.2,214.5 105.5,215.2 105,217.2 106.5,220.8 104.5,221.2 105.5,223.2 105,224.2 101.8,226ZM69.2,233.5 66.2,233.5 65.5,232.8 65,231.2 67,229.2 65.2,229 64.5,228.2 65,227.8 63.5,227.2 65.5,225.2 65,224.8 65.8,223 67.2,223 69.8,221 72.2,221 73.8,222.5 76,222.8 72.5,228.2 73,228.8 69.5,231.2 69.2,233.5Z"/>
<path fill="#6ea3d0" d=""/>
<clipPath id="h9"><path d="M78.2,220.5 50.8,220.5 49.5,219.2 50.8,217 44.2,218 41.2,217 40.5,215.2 43.2,213 51.2,209.5 62.2,210 67.2,207.5 75.8,208 78.8,206.5 102.2,206.5 103,207.2 102.5,209.8 100.2,210.5 100.5,211.2 96.8,215 95.8,214 93.2,214 90.2,215.5 86.2,215.5 84.8,213 82.5,214.8 83,216.2 78.2,220.5ZM128.8,252 108.8,252 107.2,249.5 101.8,251 99.5,246.2 96,242.8 96,236.8 97,235.2 97,233.2 100.5,230.2 101.5,227.8 103.2,226 116.8,226 118.5,223.8 117,213.8 112,209.8 114,208.2 113.2,207 115.5,208.8 115.2,209.5 118.8,210.5 119.5,210.2 118,208.8 119.8,207 121.8,206.5 124.2,206.5 125.8,208 127.2,207.5 129.2,209 131.8,209 134.2,207 137.8,207 139.2,208 145.8,209 156.8,209 162.8,210.5 167.8,213 169.5,214.8 169.5,216.8 171,218.8 170.2,221 165.8,217 165.5,217.8 167,220.2 171,223.8 170.5,225.2 171.5,228.8 167.8,232 164,231.2 162.5,236.8 160,239.8 159,243.2 157.2,245.5 150.2,245.5 149,244.2 149,242.8 150,241.8 150,239.8 149.2,239 148.2,239 146.5,241.8 146.8,245.5 141.8,245.5 139.5,241.2 139.5,239.8 136.8,236.5 135.5,239.2 132.5,242.2 134,243.8 132.5,245.2 130.5,250.2 128.8,252ZM73.5,216.2 73.2,215.5 71.5,215.8 73.5,216.2ZM166,227.2 166.5,225.8 165.2,225 164.5,226.2 166,227.2ZM114,229.8 114.2,228.5 113,229.2 114,229.8Z"/></clipPath>
<path clip-path="url(#h9)" d="M-82.6,299.7L12.4,204.7M-76.8,299.7L18.2,204.7M-71.0,299.7L24.0,204.7M-65.2,299.7L29.8,204.7M-59.4,299.7L35.6,204.7M-53.6,299.7L41.4,204.7M-47.8,299.7L47.2,204.7M-42.0,299.7L53.0,204.7M-36.2,299.7L58.8,204.7M-30.4,299.7L64.6,204.7M-24.6,299.7L70.4,204.7M-18.8,299.7L76.2,204.7M-13.0,299.7L82.0,204.7M-7.2,299.7L87.8,204.7M-1.4,299.7L93.6,204.7M4.4,299.7L99.4,204.7M10.2,299.7L105.2,204.7M16.0,299.7L111.0,204.7M21.8,299.7L116.8,204.7M27.6,299.7L122.6,204.7M33.4,299.7L128.4,204.7M39.2,299.7L134.2,204.7M45.0,299.7L140.0,204.7M50.8,299.7L145.8,204.7M56.6,299.7L151.6,204.7M62.4,299.7L157.4,204.7M68.2,299.7L163.2,204.7M74.0,299.7L169.0,204.7M79.8,299.7L174.8,204.7M85.6,299.7L180.6,204.7M91.4,299.7L186.4,204.7M97.2,299.7L192.2,204.7M103.0,299.7L198.0,204.7M108.8,299.7L203.8,204.7M114.6,299.7L209.6,204.7M120.4,299.7L215.4,204.7M126.2,299.7L221.2,204.7M132.0,299.7L227.0,204.7M137.8,299.7L232.8,204.7M143.6,299.7L238.6,204.7M149.4,299.7L244.4,204.7M155.2,299.7L250.2,204.7M161.0,299.7L256.0,204.7M166.8,299.7L261.8,204.7M172.6,299.7L267.6,204.7M178.4,299.7L273.4,204.7M184.2,299.7L279.2,204.7M190.0,299.7L285.0,204.7M195.8,299.7L290.8,204.7" stroke="#222" stroke-width="0.7" fill="none"/>
</g>
<use href="#grat" transform="translate(105.65 252.20) scale(0.4450)" fill="none" stroke="#cfcfcf" stroke-width="1.124" opacity="0.45"/>
<use href="#land" transform="translate(105.65 252.20) scale(0.4450)" fill="none" stroke="#111" stroke-width="1.124"/>
<use href="#casp" transform="translate(105.65 252.20) scale(0.4450)" fill="#fff" stroke="#111" stroke-width="1.124"/>
<use href="#ant" transform="translate(105.65 252.20) scale(0.4450)" fill="#fff" stroke="#111" stroke-width="1.124"/>
</g>
<use href="#bnd" transform="translate(105.65 252.20) scale(0.4450)" fill="none" stroke="#333" stroke-width="1.798"/>
<clipPath id="c10"><use href="#bnd" transform="translate(289.90 57.30) scale(0.4450)"/></clipPath>
<clipPath id="l11"><use href="#land" transform="translate(289.90 57.30) scale(0.4450)"/></clipPath>
<g clip-path="url(#c10)">
<use href="#grat" transform="translate(289.90 57.30) scale(0.4450)" fill="none" stroke="#c4c4c4" stroke-width="1.348"/>
<g clip-path="url(#l11)">
<use href="#land" transform="translate(289.90 57.30) scale(0.4450)" fill="#e3eff7"/>
<path fill="#fde4d6" d="M233.2,32.5 232.5,31.8 235,27.2 235,25.2 234,24.2 234.2,22 231.8,22 229.2,23.5 226.8,23.5 223.2,25 222.8,24.5 221.8,25.5 220.8,25.5 220.5,24.2 219,23.8 220.8,22 222.8,22 225.5,20.8 222,18.2 226.8,15 246.2,15 247.2,14 252.8,12.5 260.2,13 261.2,12 264.8,11.5 284.8,11.5 288,13.8 284.5,16.2 286,17.8 283.8,20 281.8,20.5 280.2,19 277.8,19 273.8,22 272.2,22 268.8,18.5 267,19.8 267.5,22.2 265.2,24 264.8,23.5 258.8,25.5 255.2,24.5 254.5,22.8 256.2,21 258,21.2 257.2,20 258.8,20 261.5,18.2 258.2,17.5 254.2,18 252.5,19.2 250.8,22.5 248.2,24 246.8,23.5 243.2,25.5 241.8,23.5 241,24.8 242.5,25.2 239.2,25.5 239,27.2 233.2,32.5ZM334.2,38.5 330.8,38.5 329.2,37.5 327.8,38.5 321.8,35.5 321,33.2 326.8,29.5 327.8,27.5 328.8,28 329.8,26.5 332.8,27 334.2,25 337.2,26.5 338,25.8 337.5,21.8 335.8,19.5 334.8,20.5 329.8,20 328.8,19 326.8,19 324.8,16.5 317.8,17.5 316.2,16 314.8,16 313.2,17.5 311.8,17 310.8,18 307.8,16 305.2,17.5 303.2,17 302.2,18 301,16.8 301.2,15.5 293.2,16 291.5,13.8 293.2,12 297.8,12 299.5,13.8 299.2,14.5 303.2,15.5 302,13.8 303.8,12 309.2,12 314.8,14.5 318.8,12 329.8,14 332.8,14 333.8,13 338.2,13 340.8,14.5 353.2,15 358.5,19.2 356.5,21.8 357,24.8 355.2,26.5 352.8,25 350.2,22 349,22.8 350.2,24.5 348.2,24.5 347.8,23.5 346.8,24.5 343.2,24 341.2,25 340,27.2 341.2,27.5 341.8,28.5 333.2,28.5 335.5,32.8 337.5,34.2 337.5,35.8 334.2,38.5ZM266,18.8 266.2,17.5 265,18.2 265.2,19 266,18.8ZM329.2,22.5 328.5,21.8 329.8,21 329.2,22.5ZM352.8,27 350.8,27 350.5,26.2 351.8,25.5 352.8,27ZM328.2,27 327.2,27 327,26.2 327.8,26 328.2,27ZM295.2,71.5 294,70.2 294,67.8 295,66.2 294,61.8 295,61.2 294,60.8 292.5,57.8 293,55.8 291.8,54.5 289.8,54.5 286.8,56 285.2,55.5 280.5,49.8 280,48.8 281,47.8 280,45.8 280.8,45 281.2,45.5 282.8,43.5 286.5,41.2 285.5,40.2 285.8,38.5 284.8,39.5 283.5,38.8 284.2,37.5 287.2,37.5 290.2,39 292.8,38.5 293.8,39.5 300.2,39 302.2,40.5 303,39.8 302.5,37.8 305.2,37 305.2,39 308.2,38.5 309,39.2 308.5,40.8 309.2,41.5 311.2,41.5 311.5,42.8 312.8,44 314.8,44.5 315.8,46 317.2,46 317,47.2 318.5,48.8 316.5,50.8 315,55.2 311,59.8 310.8,63 309.2,62.5 308,63.8 307.8,65.5 306.2,65 305.2,63.5 304.5,64.2 305.5,67.2 304.8,68.5 301.8,68.5 300.2,71 298.2,70 295.2,71.5ZM317.2,44 316,43.2 316.2,42.5 318,43.2 317.2,44ZM353.8,67.5 351.8,67 351,66.2 351.2,65 348.8,65 348,62.8 345.2,61.5 345,62.8 345.8,62.5 345.8,63.5 344.2,63.5 343.2,64.5 341.8,64 340,62.2 341,60.2 341,59.2 339.5,58.2 340,55.8 338,53.8 342.2,52 341.5,52.8 342.8,55.5 345.8,53 347.2,53 347.8,51 349,51.8 348.8,52.5 350,51.2 350,47.8 349,46.8 349.8,45.5 351,45.8 351,46.8 353.5,49.8 353,50.8 354,52.8 352.2,55 353.2,54.5 357.2,57 358.2,56.5 362.8,59.5 364.8,58.5 367,60.8 364.5,63.2 365.5,64.2 364.2,65.5 361.8,64 358.2,66 357.2,65 355.2,65 353.5,66.2 353.8,67.5ZM360.8,50 359,48.2 360.8,46 362.5,47.8 360.8,50ZM249.8,59 248,58.8 248.5,56.8 250,55.2 250,53.8 247.5,51.8 248.8,51.5 250.2,49.5 251.5,50.2 252.2,52 253.8,50 255.8,49 258.2,52.5 259.8,52.5 260,49.8 260.8,49 260.5,50.8 263.2,51.5 266.5,55.2 265.8,56 264.2,54.5 261.8,56.5 260.2,55 255.2,54.5 251.2,56 249.8,59ZM356.2,54 354.5,52.2 356.2,50.5 358,52.2 356.2,54ZM351,54.8 350.8,54 350,54.2 350.2,55 351,54.8ZM245.2,59.5 243,57.8 244.8,55.5 247,57.8 245.2,59.5ZM248.8,62 248,61.2 248.2,60 249,60.8 248.8,62ZM356.5,63.8 356.5,62.2 355.2,61.5 353.2,61.5 352.2,60.5 351,61.8 352.8,61.5 354.5,63.2 354.2,64 356.5,63.8ZM369.2,64.5 367.2,64.5 365.5,63.2 367.2,61.5 370,63.8 369.2,64.5ZM313.8,65.5 313,65.2 313.8,64 314.5,64.8 313.8,65.5ZM295.5,69.2 295.8,68 294.5,68.8 295.5,69.2ZM255.2,77.5 254.5,77.2 254.8,72 256,72.8 256,74.2 255,74.8 255.2,77.5ZM256.8,80.5 256.8,79.5 258,79.8 256.8,80.5ZM262.8,93.5 261.2,93.5 257,89.8 260,89.8 260,87.8 261,86.8 259.2,86 259,84.8 263.8,83 265.2,81 265.5,82.8 263.5,84.8 262.5,87.2 263.2,89 264.2,88 265.8,88 267.5,90.2 262.8,93.5ZM258.8,88.5 258,88.2 258.2,87.5 259,87.8 258.8,88.5ZM319.2,91 317.5,89.2 319.8,89.5 321.2,88.5 319.2,91ZM275.2,93.5 272.5,91.2 274.2,89.5 275.2,89.5 277,91.2 275.2,93.5Z"/>
<path fill="#fbb59d" d="M273.8,21 271.2,21 269.2,18.5 267.2,19.5 267.2,16.5 255.2,17 251.2,19 244.2,19.5 243.2,20.5 240.8,20 237.8,21 234.8,20.5 227.2,21 225.8,19.5 223.8,20 222,18.2 223.8,16.5 228.2,14.5 230.2,15.5 234.2,14.5 246.2,15 247.2,14 252.8,12.5 260.2,13 261.2,12 264.8,11.5 284.8,11.5 288,13.8 285,15.8 285,17.2 281.8,20 280.2,19 277.8,19 273.8,21ZM322.2,13 319.2,13 319,12.2 320.8,12 322.2,13ZM353.2,24 350.2,22 347.2,21.5 346.2,19.5 344.2,21 342.8,19.5 341.8,20 340.2,19 338.2,19 337.2,17.5 334.8,17.5 330.2,15 324.5,13.2 332.8,14 333.8,13 338.2,13 340.8,14.5 353.2,15 355,16.2 354.8,17 355.8,16.5 358.5,19.2 356.5,21.8 356.8,23.5 355.8,23 353.2,24ZM260.2,24.5 257.5,24.2 259,22.2 258.5,21.2 259.2,20.5 261.2,19.5 264.2,19.5 265.5,20.8 264.2,23 260.2,24.5ZM334.8,37.5 326.8,37 322,34.2 327.8,30 329.2,30.5 332.2,29.5 337,34.8 337,35.8 334.8,37.5ZM300.2,46 299,45.2 298,42.8 299.2,41.5 302.8,42 303.5,44.2 300.2,46ZM291.2,46.5 289.5,45.8 290.2,44.5 292,44.8 291.2,46.5ZM293.2,49.5 291.8,49.5 291,47.2 291.8,46.5 292.2,47 293.8,45 295.5,45.8 295.5,48.8 293.2,49.5ZM300.2,56.5 297,55.8 296.5,52.8 297.2,51 300.2,51.5 302.5,54.2 300.2,56.5ZM357.2,63 352.2,60.5 350.8,61 349.8,62.5 349,62.2 349,60.2 350.2,59 352.5,58.8 352,58.2 353.2,55 354.5,56.2 354.2,58.5 356.2,57.5 356.5,58.8 358.2,59.5 359.2,57 362.8,59.5 365.2,59 367,60.8 365.8,62 363.2,61.5 357.2,63ZM310.2,61 309,60.2 309.8,59 311,60.2 310.2,61ZM352.2,63.5 350.5,63.2 351.8,61.5 353.5,62.2 352.2,63.5ZM300.2,66 299.5,65.8 299.8,65 301,65.2 300.2,66Z"/>
<path fill="#f7895f" d="M276.2,20 270.2,20 268.5,18.2 269.8,16.5 260.8,15.5 252.8,16.5 251.2,18 238.2,20 231.8,20 226.2,18.5 224.8,17 223,17.2 228.2,14.5 230.2,15.5 234.2,14.5 246.2,15 247.2,14 252.8,12.5 260.2,13 261.2,12 264.8,11.5 284.8,11.5 287,12.8 286.5,14.8 281.8,19 277.8,19 276.2,20ZM334.8,37 327.2,36.5 324.5,33.8 332.2,30.5 336.5,35.2 334.8,37Z"/>
<path fill="#a9d0e6" d="M299.2,36.5 297.5,35.8 299,34.2 298.2,33 296.8,35.5 293.8,35.5 291.8,36.5 290.8,34.5 287.8,35.5 285.2,32.5 284,32.2 284,29.2 286.5,26.8 284,24.2 284,23.2 287.8,19.5 289.8,20.5 293.8,16.5 295.8,17.5 299.2,17.5 302.8,19.5 306.2,19.5 311.2,21 315.2,20 317.2,22.5 318.5,22.2 318.5,23.8 319.8,25 322.2,25 324.5,27.8 321.2,31.5 319.8,31.5 318.8,32.5 316.2,32 316.2,30 315.2,30 314.2,31.5 312.8,30 311.8,31 309.8,30.5 306.8,32.5 305.8,32 303.2,34.5 300.8,35 299.2,36.5ZM247.8,49 244.8,49 240.8,46.5 239.2,44 237.8,44.5 237,43.8 237.5,41.2 235.8,41.5 234,38.2 235.5,33.2 236.8,33 238,30.8 240.2,29.5 241.8,30.5 245.2,30 246.2,28.5 249.2,27.5 250.5,25.8 250.5,24.2 252.2,23.5 253.2,25 254.8,25 256.8,26.5 264.2,25 264.5,27.2 262.8,28.5 261.2,28.5 253.5,36.8 254.5,40.2 254,41.2 256.5,42.8 253.2,42.5 251.2,46 249.8,44 249,44.8 251,46.8 251,47.8 247.8,49ZM337.8,51.5 336.8,51.5 336.2,50 334.5,50.2 335.5,48.8 333.8,44 328.8,43.5 328,45.2 326.8,45.5 325.8,44.5 324.2,44.5 323.2,43 322.2,43.5 321.2,42 320.2,42 320.5,40.8 319.5,39.2 320,37.2 320.8,36.5 323.2,39.5 326.8,39 327.8,40 333.8,40 335.2,39.5 335.5,38.2 338,35.8 338,34.2 336,32.2 336.5,30.8 337.8,30 343.8,31 345.2,29 348.2,30 349.8,32.5 352.8,29.5 354.2,30 356,33.8 350.8,38 348,36.2 349,38.2 348.5,42.8 347.2,43.5 346.2,42.5 345,43.8 344,45.8 345,49.2 344.2,50 342.2,49 338.2,49.5 337.8,51.5ZM347.5,32.8 348.2,31 347.2,31 346.5,32.2 346.8,33 347.5,32.8ZM318.8,38.5 317,38.2 317.2,36.5 319,37.2 318.8,38.5ZM245,42.2 246.2,41 248.8,41 249.5,39.2 245.8,39 244.5,41.8 245,42.2ZM215.2,45.5 215.2,43 212.8,43.5 212,42.8 213.8,41 217,43.8 215.2,45.5ZM258.2,45 257,44.8 257.8,43.5 259,43.8 258.2,45ZM346.8,46.5 346.5,44.8 347.2,44 348,45.2 346.8,46.5ZM270.2,73.5 261.8,73.5 259.2,72 257.2,72 257,69.8 255.8,69 253.2,69.5 250.5,65.8 252,64.2 251,62.2 252.5,61.2 253,59.2 255.2,57.5 256.8,57.5 258.2,59.5 267.2,59.5 268.2,60.5 270.2,58 272.2,59 273.5,60.8 272,62.8 273.2,63 274,64.8 272,65.8 271.5,70.8 270,71.8 270.2,73.5ZM361.2,79 360.5,78.8 360.8,77 358.8,77 357.8,76 356.2,77.5 355.5,76.8 355.5,75.8 357,74.2 356,73.2 356.5,72.2 359.5,70.2 358.8,69.5 358.2,71 357,69.8 357.5,68.2 356.8,67 361.8,66.5 362.5,67.8 362.5,70.2 364.5,74.2 364,76.2 362.8,76.5 361.2,79ZM369.8,74.5 367,71.2 368.8,69.5 369.2,70 369.5,67.8 371.8,66.5 373.5,69.2 369.8,74.5ZM376.2,71.5 374,69.8 375.8,67.5 376.8,67.5 378.5,69.2 376.2,71.5ZM353.2,70.5 352.5,70.2 352.8,69.5 353.5,69.8 353.2,70.5ZM299.2,82.5 296.5,79.8 296.5,78.8 298,78.2 297.5,77.2 298.5,76.2 298.5,73.8 301.2,73 303.8,73.5 306,71.8 305.5,71.2 306.2,70.5 308.2,71.5 308.5,73.2 307,75.2 307,76.8 306.2,77.5 305.5,77.2 305.8,76.5 305,77.2 305.5,78.2 304.2,79.5 303.5,79.2 303.2,81 299.2,82.5ZM343.2,82.5 341,80.2 342.5,77.2 342,74.8 343.5,73.2 343,71.8 345.2,70.5 345,72.8 347.2,72.5 347.5,73.8 346,74.2 346,75.8 344.5,76.8 345,80.2 343.2,82.5ZM296.8,78 296,77.2 296.2,76 297,76.8 296.8,78ZM301.5,78.2 301.8,77 300.5,77.8 300.8,78.5 301.5,78.2ZM358.8,79.5 357.5,78.8 357.2,77 358.5,77.2 358.8,79.5ZM355.2,80.5 354.5,80.2 354.8,79 356,79.8 355.2,80.5Z"/>
<path fill="#6ea3d0" d="M299.8,34 298.2,33 297.8,33.5 296.2,31 295.2,32.5 293.8,31 291.8,32.5 288.8,32 288.2,31 285.2,31.5 284,29.2 286.5,26.8 284,24.2 284,23.2 287.8,19.5 289.8,20.5 290.2,19.5 292.2,19.5 293.8,18.5 295.8,20 298.2,19 299.8,20.5 302.8,20 309.8,21.5 311.5,24.2 308.8,26.5 307.2,25.5 307,29.2 303.8,31.5 300.2,32 299.5,32.8 299.8,34ZM239.8,40 238.5,39.8 241.2,37 242.2,37 246.8,33.5 256.2,28.5 258.5,28.2 258.2,29.5 254.2,32.5 239.8,40ZM344.8,45 343.2,45 341.8,43.5 339.8,43.5 336.5,40.8 338.5,39.2 337.5,37.2 338.2,36.5 339.5,36.8 339.5,34.8 337,32.8 337.8,31.5 340.8,31.5 342.2,33 344.8,33 345.5,33.8 345.5,36.8 347.5,38.8 346.5,39.8 346.5,41.8 344.8,45ZM247.2,39 246.5,38.2 247.8,37.5 247.2,39ZM338.8,46 337,45.8 337.8,44 340,44.2 340,45.2 338.8,46ZM342.8,48 341.5,47.2 342.2,46 343,46.2 342.8,48ZM268.2,71.5 265.2,70 261.2,70 260,68.8 260,63.8 260.8,63 264.2,63 265.8,64 266.8,62.5 269,62.2 268,63.8 270,65.2 270.5,67.8 268.5,68.8 269,70.8 268.2,71.5Z"/>
<clipPath id="h12"><path d="M275.2,20.5 270.8,20.5 269.2,18.5 268,18.8 267.2,16.5 253.8,16.5 242.2,20.5 226.2,20.5 226,19.2 230.2,16.5 235.8,14.5 246.2,15 247.2,14 252.8,12.5 260.2,13 261.2,12 264.8,11.5 284.8,11.5 287,12.8 286.5,15.2 285.2,15.5 281.2,20 280.2,19 277.8,19 275.2,20.5ZM319.8,31.5 287.8,31 285.5,28.2 286.5,26.8 285.5,25.8 286,22.2 287.8,20.5 311.2,20.5 315.8,24.5 320.2,26 322,27.8 322,29.8 319.8,31.5ZM241.8,40 239.5,39.8 242.8,36 249.2,31.5 258.2,27 262.5,26.2 259.2,30 252.8,34.5 241.8,40ZM344.8,45 340.2,43.5 335.2,37.5 328.8,37 326.8,36 325.5,33.8 327.8,31 341.8,31 344.5,33.2 347,39.2 347,42.2 345,43.8 344.8,45ZM268.2,71 258.2,71 256.5,69.2 255.5,67.2 255.5,59.8 257.2,57.5 267.8,57.5 269.5,59.2 270.5,67.8 268.2,71ZM300.8,82 299.8,82 299,80.8 300,72.8 301.8,71 306.8,71 308.5,72.8 307,75.2 307,76.8 303.2,81 300.8,82Z"/></clipPath>
<path clip-path="url(#h12)" d="M100.7,104.8L195.7,9.8M106.5,104.8L201.5,9.8M112.3,104.8L207.3,9.8M118.1,104.8L213.1,9.8M123.9,104.8L218.9,9.8M129.7,104.8L224.7,9.8M135.5,104.8L230.5,9.8M141.3,104.8L236.3,9.8M147.1,104.8L242.1,9.8M152.9,104.8L247.9,9.8M158.7,104.8L253.7,9.8M164.5,104.8L259.5,9.8M170.3,104.8L265.3,9.8M176.1,104.8L271.1,9.8M181.9,104.8L276.9,9.8M187.7,104.8L282.7,9.8M193.5,104.8L288.5,9.8M199.3,104.8L294.3,9.8M205.1,104.8L300.1,9.8M210.9,104.8L305.9,9.8M216.7,104.8L311.7,9.8M222.5,104.8L317.5,9.8M228.3,104.8L323.3,9.8M234.1,104.8L329.1,9.8M239.9,104.8L334.9,9.8M245.7,104.8L340.7,9.8M251.5,104.8L346.5,9.8M257.3,104.8L352.3,9.8M263.1,104.8L358.1,9.8M268.9,104.8L363.9,9.8M274.7,104.8L369.7,9.8M280.5,104.8L375.5,9.8M286.3,104.8L381.3,9.8M292.1,104.8L387.1,9.8M297.9,104.8L392.9,9.8M303.7,104.8L398.7,9.8M309.5,104.8L404.5,9.8M315.3,104.8L410.3,9.8M321.1,104.8L416.1,9.8M326.9,104.8L421.9,9.8M332.7,104.8L427.7,9.8M338.5,104.8L433.5,9.8M344.3,104.8L439.3,9.8M350.1,104.8L445.1,9.8M355.9,104.8L450.9,9.8M361.7,104.8L456.7,9.8M367.5,104.8L462.5,9.8M373.3,104.8L468.3,9.8M379.1,104.8L474.1,9.8" stroke="#222" stroke-width="0.7" fill="none"/>
</g>
<use href="#grat" transform="translate(289.90 57.30) scale(0.4450)" fill="none" stroke="#cfcfcf" stroke-width="1.124" opacity="0.45"/>
<use href="#land" transform="translate(289.90 57.30) scale(0.4450)" fill="none" stroke="#111" stroke-width="1.124"/>
<use href="#casp" transform="translate(289.90 57.30) scale(0.4450)" fill="#fff" stroke="#111" stroke-width="1.124"/>
<use href="#ant" transform="translate(289.90 57.30) scale(0.4450)" fill="#fff" stroke="#111" stroke-width="1.124"/>
</g>
<use href="#bnd" transform="translate(289.90 57.30) scale(0.4450)" fill="none" stroke="#333" stroke-width="1.798"/>
<clipPath id="c13"><use href="#bnd" transform="translate(289.90 154.60) scale(0.4450)"/></clipPath>
<clipPath id="l14"><use href="#land" transform="translate(289.90 154.60) scale(0.4450)"/></clipPath>
<g clip-path="url(#c13)">
<use href="#grat" transform="translate(289.90 154.60) scale(0.4450)" fill="none" stroke="#c4c4c4" stroke-width="1.348"/>
<g clip-path="url(#l14)">
<use href="#land" transform="translate(289.90 154.60) scale(0.4450)" fill="#e3eff7"/>
<path fill="#fde4d6" d="M234.8,135 234,134.8 232.5,128.8 235,124.8 235,122.8 234,121.8 235,119.8 234.2,119 230.2,120 229.2,121 228.8,120.5 222.2,122.5 220.8,122.5 219,120.8 220.8,119 224.8,118 222,115.8 223.8,114 228.8,111.5 230.8,113 236.8,111.5 243.8,112.5 250.2,111 251.8,110 260.2,110.5 262.2,109 286.2,109 288,110.8 285.8,113 284.5,113.2 286.5,115.2 282.2,118 279.2,116 272.2,119.5 269.5,116.8 269.2,115.5 267,117.2 267,119.2 268.5,120.8 269,123.2 266.8,125 265.5,124.2 266.5,122.8 266.2,121.5 262.8,122 260.2,120.5 257.8,122.5 254.8,123 253.8,124 249.8,123.5 244.2,124.5 243.2,126 242,126.2 242,129.2 238.2,133 234.8,135ZM315.2,168.5 313.8,168.5 312.2,167 311.2,167 310.5,164.8 307.2,162.5 302.8,162.5 301.2,164 299.8,163.5 297.8,167 296.8,166 295.2,167.5 294.2,167.5 294,164.8 295,162.2 294,157.8 292.5,155.2 293,153.2 291.8,152 290.2,152 289.2,153 287.2,152.5 286.2,153.5 285.2,153 281.5,148.8 281.5,147.8 280,146.2 279.5,143.2 278.5,142.8 278.8,142 280.5,142.8 280,139.2 281,136.8 280,135.2 281.8,133.5 284.2,133 285.2,134 289.2,134.5 292.2,134 294.5,131.2 294.5,130.2 296,129.8 296,126.8 297.2,126 297.8,126.5 299,124.2 298.5,122.2 299.5,120.8 297.8,120.5 297,119.2 298,117.2 297.5,115.2 293.8,115.5 293,114.8 294,113.2 291.5,111.2 293.2,109.5 297.8,109.5 299.5,111.2 299.2,112 302.8,112.5 302,111.2 303.8,109.5 309.2,109 312.8,111 316.2,111.5 319.2,109 320.2,109 327.2,111 338.2,110.5 339.2,111.5 341.8,112 351.2,112 355.8,114 358.5,116.8 356.5,118.8 356.8,121.5 352.2,121.5 350.2,119.5 349.5,120.2 350.2,121.5 341.2,121.5 339,123.2 338.5,125.8 336,127.8 336,129.2 338,131.2 338,133.2 335.5,136.8 333.5,137.8 333.5,138.8 336,139.8 335,140.8 335.2,141.5 337.2,141 338,141.8 337.2,143 343.8,143 344.5,143.8 345,146.8 342,150.2 342.8,153 346.5,149.2 346,148.8 348,146.2 346.5,143.2 350.8,142 351,143.8 353.5,146.8 353,148.2 354,150.2 353,151.8 354.8,153.5 355.2,153 357.2,154.5 359.8,154.5 362.8,157 364.8,156 367,158.2 364.5,160.2 365.5,161.8 363.8,163.5 356.8,163.5 353.8,165 352.2,164.5 351.2,163 347.8,162.5 346.2,161 345.8,162 342.2,161.5 338.5,157.2 337,153.2 335,150.8 337,147.8 336.2,147.5 335.2,148.5 333.5,146.8 333.5,145.2 334.5,144.2 334,141.8 332.8,141.5 331,143.8 331,147.8 332,150.2 329.8,152.5 326,148.8 323.5,141.8 320.8,139 319.5,141.8 317,144.2 318.5,145.8 316.5,147.8 315,152.2 311,157.2 311.5,163.2 314.2,161 316,162.8 316.5,165.2 315.2,168.5ZM298.5,131.8 299,131.2 298.2,130.5 297.5,131.8 298.5,131.8ZM251.2,142.5 250.5,141.8 251.2,140.5 252,141.8 251.2,142.5ZM360.8,147 359,145.2 360.8,143.5 362.5,145.2 360.8,147ZM262.2,191 259.8,190 256.5,186.8 255.5,184.2 256,182.8 255,181.2 254.5,168.2 251.5,165.2 248,158.8 248,156.2 250,152.2 250,150.8 248.8,150.5 246,147.8 246,146.2 247.2,144.5 248.5,144.8 248,146.2 249.8,148 255.8,148.5 255.8,147.5 252.5,147.2 254.8,145.5 256.5,146.8 257.2,148.5 258.8,148.5 260.2,150.5 261.8,149 262.8,149 266.5,152.2 267.8,154.5 269,154.8 268.2,155.5 265.2,154 264.2,155.5 264,154.2 262.8,153.5 261.2,155 258.2,154 257.8,156 255.8,156 254.8,154 251.8,154 251,156.2 249.5,156.8 250,159.2 251.8,159 252,160.2 254,161.2 255.5,164.8 255.5,167.2 258.5,172.2 258.5,174.2 258,175.8 256.5,176.8 256.5,178.2 258.2,180 258.8,178.5 260,179.2 260.8,181 262.8,181 263,186.2 264.8,185.5 267,187.8 265.2,189.5 264.2,189 262.2,191ZM356.2,151.5 354.5,149.8 356.2,147.5 358,149.2 356.2,151.5ZM244.8,157 243,154.8 245.2,153 247,154.8 244.8,157ZM273.8,162 272.2,160 271,159.8 270.2,158 269,157.8 270.2,155.5 274,158.2 274.5,160.8 273.8,162ZM348,158.2 348,156.8 346.8,156.5 346.5,157.8 348,158.2ZM352.5,162.8 354.8,161 356.2,161.5 356.5,159.2 355.2,158.5 353.8,159 354.5,160.2 352.5,162.8ZM368.8,163.5 365.5,160.8 367.2,158.5 370.5,161.2 368.8,163.5ZM352,161.8 351.2,160 350.5,160.8 351.2,162 352,161.8ZM206.2,166 204,164.2 205.8,162.5 208,164.2 206.2,166ZM216.8,168 215.5,166.8 217.8,165 219,166.2 217.2,166.5 216.8,168ZM207.2,169 206,168.8 205.8,167 207.2,169ZM350.8,168 350,167.8 350.2,167 351,167.2 350.8,168ZM319.8,188 318,186.8 320.8,186.5 319.8,188ZM275.2,190.5 274.2,190.5 272.5,188.8 274.2,187 275.2,187 275,187.8 275.8,187.5 277,188.8 275.2,190.5Z"/>
<path fill="#fbb59d" d="M233.8,132.5 232.5,128.8 235,124.8 235,122.8 234,121.8 235,119.8 234.2,119 230.2,120 229.2,121 228.8,120.5 222.2,122.5 220.8,122.5 219,120.8 220.8,119 224.8,118 222,115.8 223.8,114 228.8,111.5 230.8,113 236.8,111.5 243.8,112.5 250.2,111 251.8,110 260.2,110.5 262.2,109 286.2,109 288,110.8 285.8,113 284.8,113 285.5,114.2 281.2,117.5 279.2,116 272.2,119.5 269.5,116.8 269.2,115.5 267,117.2 266.8,119.5 262.2,118.5 260.2,119 257.8,121.5 253.8,123 251.2,122 249.2,123 243.8,123.5 239.5,126.8 240.5,128.2 237.2,132 233.8,132.5ZM311.2,163.5 306.8,161 299.8,162 297.8,161.5 296.8,160 295,160.8 297,162.2 295.8,163.5 294.5,161.8 294,157.8 292.5,155.2 293,153.2 291.8,152 290.2,152 289.2,153 287.2,152.5 286.2,153.5 283.5,151.2 281.5,148.2 282,138.8 281,137.8 282.8,136.5 284.8,137.5 285.8,136.5 289.8,137 292.2,136.5 293.2,135.5 296.2,136.5 297,135.8 295,133.2 297.5,129.8 300.2,130 303.2,127 306.8,126.5 307.5,125.8 307,124.8 309.5,122.2 308.5,121.2 310.5,119.2 309.8,118 308.2,117.5 306.2,118 302.2,113.5 300.2,113 299,113.8 298.8,115 297.2,113.5 293.2,113 291.5,111.2 293.2,109.5 297.8,109.5 299.5,111.2 299.2,112 302.8,112.5 302,111.2 303.8,109.5 309.2,109 312.8,111 316.2,111.5 319.2,109 320.2,109 327.2,111 338.2,110.5 339.2,111.5 341.8,112 351.2,112 355.8,114 358.5,116.8 356.5,118.8 356.8,120.5 353.8,121 352.2,120 351.2,120.5 350.2,119.5 349.2,120.5 346.2,121 336.5,120.8 337.5,124.2 334,126.8 338,131.8 338,132.8 332,137.8 333,141.2 331,143.8 331,147.8 329.8,149 326.8,149.5 323.5,141.8 320.8,139 319.5,141.8 317,144.2 318.5,145.8 316.5,147.8 315,152.2 311,157.2 311.2,163.5ZM298.5,131.8 299,131.2 298.2,130.5 297.5,131.8 298.5,131.8ZM364.2,163 356.8,162 355.2,162.5 355.2,161 356.5,161.2 356.5,159.2 352.5,158.2 352.5,154.8 356.2,153.5 357.2,154.5 359.8,154.5 362.8,157 364.8,156 367,158.2 364.5,160.2 365.5,161.8 364.2,163ZM370.2,162 366.8,162 365.5,160.2 367.2,158.5 370.5,161.2 370.2,162ZM315.8,164.5 314.8,164.5 313.2,163 312.2,164 311.5,163.8 314.2,161 315,161.8 314.5,162.8 316,163.8 315.8,164.5ZM254.2,168 251,164.2 251.8,162 252.5,163.8 254.5,165.2 254.2,168Z"/>
<path fill="#f7895f" d="M236.8,125 235.5,124.8 234,121.8 235,119.8 234.2,119 229.8,120.5 227.2,120 226.2,119 224.8,119.5 223.5,118.8 225,117.8 222,115.8 223.8,114 228.8,111.5 230.8,113 236.8,111.5 243.8,112.5 250.2,111 251.8,110 260.2,110.5 262.2,109 286.2,109 288,110.8 280.8,117 279.2,116 276.2,117.5 271.8,118 269.8,117 269.2,115.5 264.8,118 261.8,117 259.8,118 257.8,120.5 256.2,120.5 254.8,122 250.8,121 248.8,122 241.8,123 239.8,124.5 238.2,124.5 237.8,123 236.8,125ZM356.2,119.5 353.8,118 351.2,119 347.2,119 346.8,118 345.8,118 345.2,119 344.2,119 342.2,116 340.2,116 338.8,114.5 335.8,114.5 331.8,112 327.2,111.5 323.2,112 319.8,111.5 318,110.2 320.2,109 327.2,111 338.2,110.5 339.2,111.5 341.8,112 351.2,112 354.2,113 358.5,116.8 356.2,119.5ZM331.2,137 327.2,136 323.5,132.8 324,129.2 322.2,128 320,127.8 320.5,126.2 318.5,123.8 319.8,122 321.2,123 322.5,121.8 320.2,118.5 318.2,119.5 308.2,114.5 304.8,114.5 303,111.8 306.2,110.5 306.8,109.5 307.8,110.5 314.2,111.5 316.8,111 320.2,112 321.2,113 323.2,113 324.8,114.5 326.2,114.5 327.2,116 331.2,117 332.2,118.5 334.2,119 335,121.2 333.5,122.8 333.5,123.8 330,125.2 332.8,126.5 337,130.8 337.5,132.8 335.2,135 331.2,137ZM221.8,120 220,119.8 221.8,119 221.8,120ZM309.8,161 308.2,159.5 300.2,160 298,157.8 297.2,155.5 294.8,156 294.2,155 292.5,154.8 293,153.2 291.8,152 289.5,152.2 289.5,148.8 291,148.2 290,147.2 290.8,146 293.8,147 298.8,146.5 298.5,142.2 299.5,136.2 299,133.2 299.8,132.5 302.8,132.5 303,131.2 306.8,128 309.2,128.5 310.2,127 312.8,126.5 318,128.8 318,130.8 319.5,132.2 319,136.2 320.5,138.8 319,140.2 319.5,141.8 317,144.2 318.5,145.8 316.5,147.8 316.5,149.2 314.8,149.5 312.8,148.5 310.5,150.2 310.8,151.5 313.5,153.2 313.5,154.2 311.5,156.2 311,159.8 309.8,161ZM296.2,140 295,139.8 296.2,139 296.2,140ZM363.2,161.5 361.8,160 358.2,161 355,158.2 355,156.2 355.8,155.5 357.8,156 359.8,154.5 362.8,157 364.8,156 367,158.2 363.2,161.5ZM369.8,161 366,159.8 367.2,158.5 369.8,161Z"/>
<path fill="#da3b3a" d="M333.2,134.5 327.8,134 325.5,132.2 325.5,130.8 327.8,128.5 332.8,129 336.5,131.8 334.8,134 333.2,134.5Z"/>
<path fill="#a9d0e6" d="M287.8,133 284,130.2 284,126.2 286.5,124.2 284,121.8 284,120.8 287.2,117 288.8,116.5 291.5,118.2 290.5,121.2 291.2,123 293.5,123.8 293.5,125.8 291.5,127.2 293,131.2 292.2,132 289.2,131.5 287.8,133ZM341.2,142 339.8,142 336,137.8 338.5,133.2 337,128.8 339.5,127.2 341.2,123 351.2,122.5 355.5,126.2 354.5,127.8 356,131.2 353.8,133.5 350.2,134 348.2,133 349,139.2 347.2,141 346.2,140 344.8,141.5 342.8,141 341.2,142ZM242.2,136 239.5,134.2 239.5,132.2 244.5,128.2 245.8,125.5 246.8,126.5 248.8,124.5 250.8,124 252.2,125 253.8,125 254.8,124 259.2,124 261,124.8 261.5,127.8 259.8,128 259.2,126.5 258.5,128.8 256,130.8 256.5,131.8 253.5,134.2 253.8,135.5 249.2,135.5 247.8,133.5 247.2,134.5 243.8,134 242.2,136ZM350.5,129.2 351,128.2 349.8,127 349,128.8 350.5,129.2ZM265.2,159 263.5,158.2 265.2,157.5 265.2,159ZM261.2,170 260.2,169 259.2,170 258.5,169.8 259.5,167.8 258,166.8 257.5,165.2 257.5,161.2 258.2,160.5 260.2,161 260,159.8 261.2,159.5 262.2,161.5 265.2,163.5 267,161.2 266.5,160.2 267.8,159.5 269,161.8 268.5,164.2 269.5,167.8 262.8,167.5 261.2,170ZM299.2,179.5 296.5,177.2 296.5,174.8 295,171.2 297.8,169 301.5,169.2 300,167.2 300.8,165 302.8,164 307.8,164.5 308.5,165.2 308.5,170.8 307,172.2 307,173.8 303.2,178 302,178.2 302.2,179 299.2,179.5ZM358.8,169.5 357.5,169.2 358.8,168.5 358.8,169.5ZM352.2,174 351.5,173.2 352.8,172.5 352.2,174Z"/>
<path fill="#6ea3d0" d="M288.2,130 287.2,130 286.5,128.2 284,126.8 286.5,124.2 284,121.8 284,120.8 286.2,118 289,118.8 290,120.8 290,123.2 291.5,124.2 290,128.2 288.2,130ZM344.2,140 342.2,139 339.8,139.5 337.5,137.8 339,133.2 338,129.8 340.8,129 342.5,127.2 342.5,124.8 343.8,123.5 351.2,123.5 353.8,124.5 355.5,126.2 354.2,128.5 351.2,128.5 349.8,127 349,127.8 349.5,129.8 348.8,130 348.2,128.5 345.2,129 344.2,127.5 343.5,127.8 345,129.8 344.5,130.2 346.5,134.2 346,136.8 347,137.8 346.2,139.5 344.2,140ZM301.2,172 299.8,172 299.5,171.2 300.8,171 301.2,172Z"/>
<clipPath id="h15"><path d="M248.2,123 235.2,123 234,121.8 235,119.8 234.2,119 229.8,120.5 225.5,117.8 228.2,115 236.8,111.5 243.8,112.5 250.2,111 251.8,110 260.2,110.5 262.2,109 286.2,109 287,109.8 287,111.8 284.8,113 285,113.8 281.2,117 279.2,116 274.8,118 270.8,118 269.2,115.5 266.8,118 260.2,118 254.8,122.5 248.2,123ZM312.2,154.5 307.2,154.5 306,153.8 304.5,150.8 304.5,143.8 299.5,138.2 299.5,136.8 303.5,132.2 304,129.8 305.8,128 310.2,128 311.5,126.2 311,124.2 306,120.2 305,116.2 303,112.8 303.8,111 316.2,111.5 319.2,109 327.2,111 338.8,111 344.8,112 352.2,115.5 353.5,116.8 353.2,118 349.5,118.2 349.5,120.2 351,121.8 350.8,122.5 346.8,122.5 346,123.2 346.5,127.2 343.5,128.2 345,131.2 343.8,134.5 338.2,134 333.8,129 332.2,128.5 331,130.2 331,132.8 329,134.8 327,140.2 326.2,141 322.8,141 320.8,139 319.5,141.8 317,144.2 318.5,145.8 315,149.8 314,152.8 312.2,154.5ZM288.2,128 284.5,127.8 284,126.2 286.5,124.2 285.2,122.5 287.8,122.5 289.5,124.2 290,125.2 288.2,128ZM343,127.8 341.2,124.5 338.2,122.5 337.5,123.2 337.5,125.2 339.8,127.5 343,127.8ZM242.8,134 239,133.8 242.8,130.5 248.8,127.5 256.2,125 259,125.2 257.2,127.5 254.8,129 242.8,134ZM263.2,168.5 258.8,168.5 256,165.8 256,163.8 259,160.8 261,156.2 262.8,154.5 267.8,154.5 269.5,156.2 270,158.8 266,163.2 265,166.8 263.2,168.5ZM301.2,175 296.2,174.5 295,171.8 295,164.2 297.2,161.5 302.2,161.5 304.5,164.2 304,172.2 301.2,175Z"/></clipPath>
<path clip-path="url(#h15)" d="M102.0,202.1L197.0,107.1M107.8,202.1L202.8,107.1M113.6,202.1L208.6,107.1M119.4,202.1L214.4,107.1M125.2,202.1L220.2,107.1M131.0,202.1L226.0,107.1M136.8,202.1L231.8,107.1M142.6,202.1L237.6,107.1M148.4,202.1L243.4,107.1M154.2,202.1L249.2,107.1M160.0,202.1L255.0,107.1M165.8,202.1L260.8,107.1M171.6,202.1L266.6,107.1M177.4,202.1L272.4,107.1M183.2,202.1L278.2,107.1M189.0,202.1L284.0,107.1M194.8,202.1L289.8,107.1M200.6,202.1L295.6,107.1M206.4,202.1L301.4,107.1M212.2,202.1L307.2,107.1M218.0,202.1L313.0,107.1M223.8,202.1L318.8,107.1M229.6,202.1L324.6,107.1M235.4,202.1L330.4,107.1M241.2,202.1L336.2,107.1M247.0,202.1L342.0,107.1M252.8,202.1L347.8,107.1M258.6,202.1L353.6,107.1M264.4,202.1L359.4,107.1M270.2,202.1L365.2,107.1M276.0,202.1L371.0,107.1M281.8,202.1L376.8,107.1M287.6,202.1L382.6,107.1M293.4,202.1L388.4,107.1M299.2,202.1L394.2,107.1M305.0,202.1L400.0,107.1M310.8,202.1L405.8,107.1M316.6,202.1L411.6,107.1M322.4,202.1L417.4,107.1M328.2,202.1L423.2,107.1M334.0,202.1L429.0,107.1M339.8,202.1L434.8,107.1M345.6,202.1L440.6,107.1M351.4,202.1L446.4,107.1M357.2,202.1L452.2,107.1M363.0,202.1L458.0,107.1M368.8,202.1L463.8,107.1M374.6,202.1L469.6,107.1M380.4,202.1L475.4,107.1" stroke="#222" stroke-width="0.7" fill="none"/>
</g>
<use href="#grat" transform="translate(289.90 154.60) scale(0.4450)" fill="none" stroke="#cfcfcf" stroke-width="1.124" opacity="0.45"/>
<use href="#land" transform="translate(289.90 154.60) scale(0.4450)" fill="none" stroke="#111" stroke-width="1.124"/>
<use href="#casp" transform="translate(289.90 154.60) scale(0.4450)" fill="#fff" stroke="#111" stroke-width="1.124"/>
<use href="#ant" transform="translate(289.90 154.60) scale(0.4450)" fill="#fff" stroke="#111" stroke-width="1.124"/>
</g>
<use href="#bnd" transform="translate(289.90 154.60) scale(0.4450)" fill="none" stroke="#333" stroke-width="1.798"/>
<clipPath id="c16"><use href="#bnd" transform="translate(289.90 252.20) scale(0.4450)"/></clipPath>
<clipPath id="l17"><use href="#land" transform="translate(289.90 252.20) scale(0.4450)"/></clipPath>
<g clip-path="url(#c16)">
<use href="#grat" transform="translate(289.90 252.20) scale(0.4450)" fill="none" stroke="#c4c4c4" stroke-width="1.348"/>
<g clip-path="url(#l17)">
<use href="#land" transform="translate(289.90 252.20) scale(0.4450)" fill="#e3eff7"/>
<path fill="#fde4d6" d="M262.2,288.5 259.8,287.5 256.5,284.2 255.5,281.8 256,280.2 255,278.8 254.5,265.8 251.5,262.8 248,256.2 248.5,251.8 250,248.8 243.8,243 239.8,241.5 237,238.8 234,233.2 234,230.2 233,229.2 232.5,226.2 235,222.2 235,220.2 234,219.2 235,217.2 231.8,217 229.2,218.5 224.8,219 223.2,220 222.8,219.5 221.8,220.5 220.8,220.5 219,218.8 220.8,217 222.8,217 225,215.2 222,213.2 226.8,210 229.2,209 230.8,210.5 234.2,209.5 246.2,210 251.8,207.5 260.2,208 262.8,206.5 286.2,206.5 288,208.2 285.8,210.5 284.5,210.8 286.5,213.2 284.2,215.5 281.8,215.5 279.8,213.5 275.2,215 273.2,217 272.2,217 269.5,214.2 269.2,213 267,214.8 267,216.8 268.5,218.2 269,220.8 267.8,222.5 266.2,221.5 263.2,222.5 263.5,220.8 262.8,220 254.2,220 253.8,221 250.8,222.5 247.8,222.5 246.8,224.5 244.5,225.2 245.5,228.2 244,230.8 246,232.2 244.5,237.2 247.2,236 248.2,238 249.2,235.5 251.5,237.2 250.5,238.2 251.8,238.5 251.5,236.2 252.2,235.5 253.8,237.5 255.8,237 258.2,238 260,239.8 258.2,241.5 251.8,241.5 250,239.8 250.2,239 249,239.8 251,241.8 251.2,244 254.8,242 257.8,243.5 259.8,243 262.2,246.5 263.2,246.5 266.5,249.8 267.8,252 272.2,254 274.5,256.8 274.5,258.2 272.5,261.2 272.5,265.8 271.2,266.5 269,264.2 270.5,262.8 270.5,261.8 268.5,255.8 267.2,254.5 264.2,254.5 262,255.8 262,256.8 265,259.2 265.5,260.8 266,265.2 264.5,267.2 267.5,266.8 266.5,268.2 267.5,270.2 265,272.2 266.2,273 268,272.8 267.5,274.8 263,279.8 263.5,280.2 262.5,281.8 263.2,284 264.2,283 265.8,283 267.5,285.2 265.8,287 264.2,286.5 262.2,288.5ZM347.8,274 345.2,274 343.5,272.8 343.2,271 342,271.2 342.5,267.2 344.2,265.5 347.2,264.5 350.5,260.8 349.8,260 345.2,260 342.2,259 338,254.2 335,248.2 336.5,246.8 336.5,245.2 335.2,246 333.5,244.2 333.5,242.8 334.5,241.8 333.8,239 332.8,239 331,241.2 331,245.2 332,247.8 329.8,250 326,246.2 325.5,243.8 321.2,236.5 317,241.8 318.5,243.8 316.5,245.8 315.5,249.2 311,254.8 311.5,261.2 314.2,258.5 316,260.2 316.5,262.8 315.5,264.8 314.2,266 312.2,266 311.2,264.5 309.8,264.5 308.2,266 306.5,266.2 306.2,269 304.5,267.8 306,266.8 305.2,265.5 304.5,267.2 301.8,269 300.2,268 297.8,268 295,269.2 295,266.8 294,265.2 295,259.8 294,255.2 292.5,252.8 293,250.8 291.8,249.5 286.8,251 285.2,250.5 282,247.2 281.5,245.2 280,243.8 280,242.2 278.2,243.5 276,241.2 276,240.2 277.8,238.5 280.5,240.2 280,236.8 281.5,234.8 279.5,232.8 281.2,231 283.2,231 286.2,227.5 287.8,228 288,226.8 290.8,224 296.8,224 298.5,222.8 297.8,221 296.8,221 294,218.2 294,215.8 296,214.2 296,213.2 295.2,212.5 291.5,212.8 294,211.2 291.5,209.2 293.2,207 297.8,207 299.5,208.8 299.2,209.5 303.2,210.5 302,208.8 303.8,207 306.2,206.5 311.8,207.5 313.8,209 316.2,209 318.8,207 321.8,207 329.8,209 332.8,209 333.8,208 338.2,208 339.2,209 345.2,210 353.2,210 358.5,214.2 356.5,216.2 357,219.8 355.2,221.5 350.2,217 349.5,217.8 355.5,223.8 354.5,225.2 356,228.8 351.2,233 348.5,231.2 348.5,234.2 349.5,235.2 349,237.8 351,239.8 351,241.8 353.5,244.8 353,245.8 354,247.8 353,249.2 354.8,251 355.2,250.5 357.2,252 358.2,251.5 362.8,254.5 364.8,253.5 367,255.8 364.5,257.8 365.5,259.2 363.8,261 362,260.8 362.5,264.2 361.5,265.2 362.5,266.8 361.8,267.5 359.5,267.2 360.5,265.8 359.8,264.5 355.2,267.5 354.2,266.5 353.2,267 351.8,266 351,266.8 351.5,268.8 350,269.8 349.8,272 347.8,271 344.5,271.2 345.8,272.5 347.2,272 348,272.8 347.8,274ZM350,227.2 351,226.8 351,225.8 349.8,224.5 349,226.2 350,227.2ZM298,229.8 299,228.8 298.2,228 297,229.2 298,229.8ZM214.8,241 213.5,239.8 214.8,236.5 215.2,238 217,238.8 214.8,241ZM343,250.2 345.5,248.2 346.5,245.2 348,243.8 346.5,241.8 346.5,239.8 347.5,238.8 346.2,237.5 344,240.8 345,244.2 342,247.8 343,250.2ZM360.8,245 359,243.2 360.8,241 362.5,242.8 360.8,245ZM356.2,249 354.5,247.2 356.2,245 358,246.8 356.2,249ZM351,249.8 350.8,249 350,249.2 350.2,250 351,249.8ZM244.8,254.5 243,252.2 245.2,250.5 247,252.2 244.8,254.5ZM356.5,258.8 356.5,256.8 355.2,256 353.2,256.5 352.2,255.5 351,256.8 352.8,256.5 354.5,258.2 354.2,259 356.5,258.8ZM368.8,261 365.5,258.2 367.2,256.5 368.2,256.5 370.5,258.8 368.8,261ZM206.2,263.5 204,261.8 205.8,260 208,261.8 206.2,263.5ZM371.8,266 369.5,264.2 369.5,262.8 371.2,261 373.5,264.2 371.8,266ZM217.8,266 215.5,264.2 217.2,262.5 219.5,264.2 217.8,266ZM376.8,266 375.2,266 374,264.8 375.8,262.5 378,263.8 376.8,266ZM369.2,266.5 368,265.2 368.8,264.5 370,265.2 369.2,266.5ZM205.8,268.5 204,266.8 205.8,265 207.5,266.8 205.8,268.5ZM316.8,266.5 315.8,265 317.5,265.8 316.8,266.5ZM263,276.2 263.8,275 262.5,275.2 263,276.2ZM319.2,285.5 317.5,283.8 318.2,282.5 319.5,283.2 319.2,285.5ZM275.2,288 274.2,288 272.5,286.2 273.8,285 275.8,285 277,286.2 275.2,288Z"/>
<path fill="#fbb59d" d="M239.8,232.5 238.8,232.5 238.2,231 236.2,231 235.5,230.2 236,226.8 233,225.8 233.5,223.8 235,222.2 235,220.2 234,219.2 234.8,217 231.8,217 229.2,218.5 224.8,219 223.2,220 222.8,219.5 221.8,220.5 220.8,220.5 219,218.8 220.8,217 222.8,217 225,215.2 222,213.2 223.8,211.5 229.2,209 230.8,210.5 234.2,209.5 246.2,210 251.8,207.5 260.2,208 262.8,206.5 286.2,206.5 288,208.2 285.8,210.5 284.5,210.8 286.5,212.8 283.2,215.5 281.8,215.5 279.8,213.5 275.2,215 273.2,217 272.2,217 269.5,214.2 269.2,213 267,214.8 267,216.8 268.5,218.2 267.8,219.5 264.8,217.5 262.2,217.5 261.2,219 254.8,218.5 250.8,221.5 244.2,222.5 241.5,225.2 241.5,226.2 243.2,226.5 244.5,227.8 239.8,232.5ZM295.2,267.5 294,265.2 295,259.8 294,255.2 292.5,252.8 293,250.8 291.8,249.5 286.8,251 285.2,250.5 282,247.2 281.5,245.2 280,243.8 280,242.2 278.2,243.5 276,241.2 276,240.2 277.8,240 278.2,239 280.5,240.2 280,236.8 281.5,234.8 281,233.2 283.8,230.5 286.8,231 289,228.8 289,227.8 292.2,225 296.8,225.5 298.2,224 298.8,224.5 301.5,223.2 301.5,220.2 300.8,219.5 298.8,220 298.5,218.2 296.5,215.8 297,213.2 291.5,209.2 293.2,207 297.8,207 299.5,208.8 299.2,209.5 303.2,210.5 302,208.8 303.8,207 306.2,206.5 311.8,207.5 313.8,209 316.2,209 318.8,207 321.8,207 329.8,209 332.8,209 333.8,208 338.2,208 339.2,209 345.2,210 353.2,210 358.5,214.2 356.5,216.2 357,219.8 355.2,221.5 350.2,217 349.5,217.8 354,222.2 354,223.2 355.5,223.8 354.5,225.2 356,228.8 351.2,233 348.8,231 348.5,234.2 349.5,235.2 349,237.8 351,239.8 351,241.8 353.5,244.8 353,245.8 354,247.8 353,249.2 354.8,251 355.2,250.5 357.2,252 358.2,251.5 362.8,254.5 364.8,253.5 367,255.8 364.5,257.8 365.5,259.2 363.8,261 362.2,260.5 361.8,262 358.8,262.5 354.2,262 352.2,260 350.2,260.5 342.2,259 338,254.2 335,248.2 336.5,246.8 336.5,245.2 335.2,246 333.5,244.2 333.5,242.8 334.5,241.8 334,239.2 332.8,239 331,241.2 331,245.2 332,247.8 329.8,250 326,246.2 325.5,243.8 321.2,236.5 317,241.8 318.5,243.8 316.5,245.8 315.5,249.2 311,254.8 311.5,259.2 310.8,260 308.8,258 307.2,259 306.5,259.8 307,261.2 302.8,266.5 300.2,266 295.2,267.5ZM350,227.2 351,226.8 351,225.8 349.8,224.5 349,226.2 350,227.2ZM298,229.8 299,228.8 298.2,228 297,229.2 298,229.8ZM239.2,237.5 238.2,237.5 238,236.8 239.2,236.5 239.2,237.5ZM343,250.2 345.5,248.2 346.5,245.2 348,243.8 346.5,241.8 346.5,239.8 347.5,238.8 346.2,237.5 344,240.8 345,244.2 342,247.8 343,250.2ZM257.2,279.5 256.2,279.5 255,277.8 254.5,265.8 250,260.2 249.5,259.2 250.5,257.8 249.2,258 248.5,256.8 250,255.8 248.5,254.2 248.5,251.8 250,248.8 245.8,244.5 240,241.2 240.2,240 242.8,240.5 243.2,238.5 245.2,238.5 246,239.2 245,240.2 247.2,241.5 249.2,240 251,241.8 251.2,244 254.8,242 257.8,243.5 259.8,243 262.2,246.5 263.2,246.5 266.5,249.8 267.8,252 272.2,254 274.5,256.8 274.5,258.2 272.5,261.2 272.2,264 271.5,263.2 271,259.8 271.5,256.8 269.8,254.5 264.8,252.5 262.8,252.5 260.8,255.5 259,255.8 262.2,259.5 264,259.8 264.5,263.8 263,265.2 262.5,268.8 260.8,269 259.2,268 257,271.2 257.5,272.8 259.5,274.2 256.5,277.2 258,278.8 257.2,279.5ZM255.2,242 253.2,241 251.8,241.5 250.5,240.2 257.2,240 258.5,241.2 256.2,241 255.2,242ZM360.8,245 359,243.2 360.8,241 362.5,242.8 360.8,245ZM356.2,249 354.5,247.2 356.2,245 358,246.8 356.2,249ZM351,249.8 350.8,249 350,249.2 350.2,250 351,249.8ZM246.2,252 245.2,252 244.5,250.8 245.2,250.5 246.2,252ZM356.5,258.8 356.5,256.8 355.2,256 353.2,256.5 352.2,255.5 351,256.8 352.8,256.5 354.5,258.2 354.2,259 356.5,258.8ZM368.8,261 365.5,258.2 367.2,256.5 368.2,256.5 370.5,258.8 368.8,261ZM314.2,260 313,259.8 314.2,258.5 314.2,260ZM347.8,267 343.8,267 343.5,266.2 347.2,264.5 347.8,267ZM262.8,284 261.8,284 259.8,282 258.5,282.2 259,280.2 260.2,279 262.5,279.8 261.8,278 263.5,278.8 262.5,281.8 262.8,284ZM264.2,284.5 263.5,283.8 264.8,283 264.2,284.5ZM261.2,288 260,287.2 260.2,286 261.5,286.8 261.2,288Z"/>
<path fill="#f7895f" d="M242.8,222.5 237.2,222 235.2,222.5 235,220.2 234,219.2 234.8,217 231.8,217 229.2,218.5 224.8,219 223.2,220 222.8,219.5 221.8,220.5 220.8,220.5 219,218.8 220.8,217 222.8,217 225,215.2 222,213.2 223.8,211.5 229.2,209 230.8,210.5 234.2,209.5 246.2,210 251.8,207.5 260.2,208 262.8,206.5 286.2,206.5 288,208.2 285.8,210.5 284.5,210.8 286,212.2 284.2,213 282.2,215.5 279.8,213.5 275.2,215 273.2,217 272.2,217 269.5,214.2 269.2,213 267,214.8 266.8,217 263.2,216.5 255.2,217.5 250.2,221 242.8,222.5ZM294.8,266 294,265.2 294,262.8 295,259.8 294,255.2 292.5,252.8 293,250.8 291.8,249.5 286.8,251 285.2,250.5 282,247.2 279.5,241.8 280.5,240.2 281,235.2 282.8,233 284.8,232 286.2,232.5 289.5,229.8 290.2,228 292.8,226.5 300.2,227 301.5,226.2 303,223.2 304.5,217.2 303.2,215.5 299.8,216 295.2,210.5 293.2,211 291.5,209.2 293.2,207 297.8,207 299.5,208.8 299.2,209.5 303.2,210.5 302,208.8 303.8,207 306.2,206.5 311.8,207.5 313.8,209 316.2,209 318.8,207 321.8,207 329.8,209 332.8,209 333.8,208 338.2,208 339.2,209 345.2,210 353.2,210 358.5,214.2 356.5,216.2 357,219.8 355.2,221.5 350.2,217 349.5,217.8 352.5,221.2 352.2,222 350.8,221.5 349.8,220 348.2,220 346.2,222.5 344.8,221 342.8,221 342,221.8 343.5,222.8 344,225.8 345.5,226.2 345,228.2 346.2,230 348.2,229.5 349.8,231 350.8,231 352.2,229.5 354,230.8 351.2,233 348.5,231.2 348.5,234.2 349.5,235.2 349,237.8 350.5,239.8 348.2,239.5 346.2,237.5 344,240.8 345,244.2 342,248.2 342.8,250.5 345.5,248.2 346.5,245.2 348.2,243.5 350.2,245 352.8,245 354,247.2 353,249.2 354.8,251 355.2,250.5 357.2,252 358.2,251.5 362.8,254.5 364.8,253.5 367,255.8 364.5,257.8 365.5,259.2 363.8,261 361.2,260.5 357.2,261.5 355.8,260.5 353.8,260.5 351.8,258.5 348.8,260 345.2,260 342.2,259 338,254.2 335,248.2 336.5,246.8 336.5,245.2 335.2,246 333.5,244.2 333.5,242.8 334.5,241.8 334,239.2 332.8,239 331,241.2 331,245.2 332,247.8 330.8,247.5 329.2,248.5 326,246.2 325.5,243.8 321.2,236.5 317,241.8 318.5,243.8 316.5,245.8 315.8,248 308.2,247.5 305,248.8 306,250.8 304.5,257.8 305.5,260.8 303.5,261.8 302.5,264.8 297.8,264.5 294.8,266ZM298,229.8 299,228.8 298.2,228 297,229.2 298,229.8ZM360.8,245 360,244.2 360.5,243.2 362.2,242.5 362.5,243.2 360.8,245ZM257.2,255.5 253.8,253.5 253.2,254 252.5,251.8 250.8,252 250.5,250.8 249.5,250.2 250,248.8 249,246.2 249.8,245.5 250.8,246.5 251.5,245.8 251.2,244 255.8,244.5 256.2,243.5 259.8,243.5 261.5,244.8 262.2,246.5 263.2,246.5 266.5,249.8 265.8,251 263.8,250.5 260.8,251.5 258.5,253.2 257.2,255.5ZM356.2,249 354.5,247.2 356.2,245 358,246.8 356.2,249ZM351,249.8 350.8,249 350,249.2 350.2,250 351,249.8ZM356.5,258.8 356.5,256.8 355.2,256 353.2,256.5 352.2,255.5 351,256.8 352.8,256.5 354.5,258.2 354.2,259 356.5,258.8ZM368.8,261 365.5,258.2 367.2,256.5 368.2,256.5 370.5,258.8 368.8,261ZM254.8,267 254,264.8 251,261.8 253.8,258 255.5,258.8 255.5,260.2 256.5,261.2 256.5,264.2 254.8,267Z"/>
<path fill="#da3b3a" d="M243.2,220 234.8,220 234,219.2 234.8,217 231.8,217 229.2,218 228.2,217 226.8,217 225.8,215.5 223.8,215 222,213.2 223.8,211.5 229.2,209 230.8,210.5 234.2,209.5 246.2,210 251.8,207.5 260.2,208 262.8,206.5 286.2,206.5 287.5,207.8 287,209.2 282.8,212 281.2,214.5 279.8,213.5 275.8,215 270.2,215 269.2,213 267.8,214.5 258.2,214.5 255.8,215.5 251.2,219 246.2,219 243.2,220ZM302.2,246 297.2,246 295.2,245 287.8,246 284.5,241.8 285.5,240.8 285.5,239.2 288.5,237.2 289,235.2 292.2,231.5 294.8,232 295.8,233 296.8,232 301.8,232 303,228.8 305,227.2 306.5,224.8 307.5,222.8 307,218.2 304,212.8 303.2,209 311.8,209 312.2,208 313.8,209 316.2,209 318.8,207 321.8,207 329.8,209 332.8,209 333.8,208 338.2,208 339.2,209 345.2,210 353.2,210 358.5,214.2 357.2,215.5 334.2,215 334,216.8 335,219.2 333.8,220.5 329.2,220 328.5,220.8 329.5,221.8 329,222.8 336,229.2 335.5,231.2 332.5,234.2 334,237.8 331,241.2 330.8,244.5 325.8,244.5 321.2,236.5 317,241.8 318.5,243.8 317.8,244.5 306.2,244 302.2,246ZM364.2,258 356.8,258 356.2,256.5 354.2,256.5 353.5,255.8 356.8,251.5 362.8,254.5 364.8,253.5 367,255.8 364.2,258ZM367.2,258 366,257.8 367.2,256.5 369,257.2 367.2,258Z"/>
<path fill="#a9d0e6" d="M284.8,225.5 284,224.2 286.5,221.8 285,220.2 287.8,219.5 288,220.8 290.5,222.2 288.2,224 286.8,223.5 284.8,225.5ZM249.8,232 248,231.2 249,227.8 248.2,226 249.8,225.5 252.2,222.5 253.8,222.5 254.8,221.5 256.2,222.5 258.2,222 259.5,222.8 257,225.2 258,226.8 255.2,230.5 254.2,229.5 253.2,231 251.2,230.5 249.8,232ZM252.8,233.5 251.5,233.2 251.8,232 252.8,233.5Z"/>
<clipPath id="h18"><path d="M242.8,226 234.2,226 233.5,223.8 235,222.2 235,220.2 234,219.2 235,217.2 231.8,217 229.8,218 227.2,217 225.5,215.2 227.8,213 235.8,209.5 246.2,210 251.8,207.5 260.2,208 262.8,206.5 286.2,206.5 287.5,207.8 287,209.2 284.8,210.5 285,211.2 281.2,215 279.8,213.5 274.8,215.5 270.8,215.5 269.2,213 267,214.8 267,216.2 265,218.8 262.2,220.5 249.2,220.5 242.8,226ZM312.2,252 292.8,252 293,250.8 291.8,249.5 286.2,251 284.5,247.2 280.5,243.2 280.5,235.8 281.5,234.8 281,233.8 282.8,232 287.8,232 291.8,226 300.8,226 303,223.2 301.5,216.8 299.8,215.5 295.8,215.5 293.5,213.2 296.5,210.2 295,207.8 295.2,207 297.8,207 299.5,208.8 299.2,209.5 303.2,210.5 302,208.8 303.8,207 306.2,206.5 311.8,207.5 313.8,209 316.2,209 318.8,207 321.8,207 329.8,209 335.8,208 345.8,210 352.2,213 356.5,216.2 357,219.8 355.2,221.5 350.2,217 349.5,217.8 355.5,223.8 354,226.8 354,230.8 352.2,232 349.8,232 348.8,231 347.5,232.8 347.5,238.2 346.2,237.5 345,238.8 344,240.8 345,244.2 343.8,245.5 334.8,245.5 333.5,244.2 333.5,242.8 334.5,241.8 333.8,239 332.8,239 331,241.2 330.8,245.5 325.8,245.5 325,242.8 321.2,236.5 317,241.8 318.5,243.8 315,247.2 314,250.2 312.2,252ZM350,227.2 351,226.8 351,225.8 349.8,224.5 349,226.2 350,227.2ZM298,229.8 299,228.8 298.2,228 297,229.2 298,229.8ZM347.8,243 346.5,241.8 346.5,239.8 347.8,238.5 348.5,241.2 347.8,243Z"/></clipPath>
<path clip-path="url(#h18)" d="M97.2,299.7L192.2,204.7M103.0,299.7L198.0,204.7M108.8,299.7L203.8,204.7M114.6,299.7L209.6,204.7M120.4,299.7L215.4,204.7M126.2,299.7L221.2,204.7M132.0,299.7L227.0,204.7M137.8,299.7L232.8,204.7M143.6,299.7L238.6,204.7M149.4,299.7L244.4,204.7M155.2,299.7L250.2,204.7M161.0,299.7L256.0,204.7M166.8,299.7L261.8,204.7M172.6,299.7L267.6,204.7M178.4,299.7L273.4,204.7M184.2,299.7L279.2,204.7M190.0,299.7L285.0,204.7M195.8,299.7L290.8,204.7M201.6,299.7L296.6,204.7M207.4,299.7L302.4,204.7M213.2,299.7L308.2,204.7M219.0,299.7L314.0,204.7M224.8,299.7L319.8,204.7M230.6,299.7L325.6,204.7M236.4,299.7L331.4,204.7M242.2,299.7L337.2,204.7M248.0,299.7L343.0,204.7M253.8,299.7L348.8,204.7M259.6,299.7L354.6,204.7M265.4,299.7L360.4,204.7M271.2,299.7L366.2,204.7M277.0,299.7L372.0,204.7M282.8,299.7L377.8,204.7M288.6,299.7L383.6,204.7M294.4,299.7L389.4,204.7M300.2,299.7L395.2,204.7M306.0,299.7L401.0,204.7M311.8,299.7L406.8,204.7M317.6,299.7L412.6,204.7M323.4,299.7L418.4,204.7M329.2,299.7L424.2,204.7M335.0,299.7L430.0,204.7M340.8,299.7L435.8,204.7M346.6,299.7L441.6,204.7M352.4,299.7L447.4,204.7M358.2,299.7L453.2,204.7M364.0,299.7L459.0,204.7M369.8,299.7L464.8,204.7M375.6,299.7L470.6,204.7M381.4,299.7L476.4,204.7" stroke="#222" stroke-width="0.7" fill="none"/>
</g>
<use href="#grat" transform="translate(289.90 252.20) scale(0.4450)" fill="none" stroke="#cfcfcf" stroke-width="1.124" opacity="0.45"/>
<use href="#land" transform="translate(289.90 252.20) scale(0.4450)" fill="none" stroke="#111" stroke-width="1.124"/>
<use href="#casp" transform="translate(289.90 252.20) scale(0.4450)" fill="#fff" stroke="#111" stroke-width="1.124"/>
<use href="#ant" transform="translate(289.90 252.20) scale(0.4450)" fill="#fff" stroke="#111" stroke-width="1.124"/>
</g>
<use href="#bnd" transform="translate(289.90 252.20) scale(0.4450)" fill="none" stroke="#333" stroke-width="1.798"/>
<text x="84.5" y="318.7" font-size="11.60" text-anchor="start" font-weight="normal" fill="#000" >Change in anomalies during ELP events (%)</text>
<rect x="71.90" y="325.4" width="31.78" height="5.9" fill="#3f77b5"/>
<rect x="103.62" y="325.4" width="31.78" height="5.9" fill="#6ea3d0"/>
<rect x="135.35" y="325.4" width="31.78" height="5.9" fill="#a9d0e6"/>
<rect x="167.08" y="325.4" width="31.78" height="5.9" fill="#e3eff7"/>
<rect x="198.80" y="325.4" width="31.78" height="5.9" fill="#fde4d6"/>
<rect x="230.53" y="325.4" width="31.78" height="5.9" fill="#fbb59d"/>
<rect x="262.25" y="325.4" width="31.78" height="5.9" fill="#f7895f"/>
<rect x="293.98" y="325.4" width="31.78" height="5.9" fill="#da3b3a"/>
<rect x="71.90" y="325.4" width="253.80" height="5.9" fill="none" stroke="#555" stroke-width="0.7"/>
<line x1="103.6" y1="331.3" x2="103.6" y2="333.4" stroke="#444" stroke-width="0.7"/>
<text x="103.6" y="343.4" font-size="10.90" text-anchor="middle" font-weight="normal" fill="#000" >-50</text>
<line x1="135.4" y1="331.3" x2="135.4" y2="333.4" stroke="#444" stroke-width="0.7"/>
<text x="135.4" y="343.4" font-size="10.90" text-anchor="middle" font-weight="normal" fill="#000" >-20</text>
<line x1="167.1" y1="331.3" x2="167.1" y2="333.4" stroke="#444" stroke-width="0.7"/>
<text x="167.1" y="343.4" font-size="10.90" text-anchor="middle" font-weight="normal" fill="#000" >-10</text>
<line x1="198.8" y1="331.3" x2="198.8" y2="333.4" stroke="#444" stroke-width="0.7"/>
<text x="198.8" y="343.4" font-size="10.90" text-anchor="middle" font-weight="normal" fill="#000" >0</text>
<line x1="230.5" y1="331.3" x2="230.5" y2="333.4" stroke="#444" stroke-width="0.7"/>
<text x="230.5" y="343.4" font-size="10.90" text-anchor="middle" font-weight="normal" fill="#000" >10</text>
<line x1="262.2" y1="331.3" x2="262.2" y2="333.4" stroke="#444" stroke-width="0.7"/>
<text x="262.2" y="343.4" font-size="10.90" text-anchor="middle" font-weight="normal" fill="#000" >20</text>
<line x1="294.0" y1="331.3" x2="294.0" y2="333.4" stroke="#444" stroke-width="0.7"/>
<text x="294.0" y="343.4" font-size="10.90" text-anchor="middle" font-weight="normal" fill="#000" >50</text>
<clipPath id="c19"><use href="#bnd" transform="translate(547.40 69.70) scale(0.5990)"/></clipPath>
<clipPath id="l20"><use href="#land" transform="translate(547.40 69.70) scale(0.5990)"/></clipPath>
<g clip-path="url(#c19)">
<use href="#grat" transform="translate(547.40 69.70) scale(0.5990)" fill="none" stroke="#ababab" stroke-width="1.169"/>
<g clip-path="url(#l20)">
<use href="#land" transform="translate(547.40 69.70) scale(0.5990)" fill="#fbbfa9"/>
<path fill="#fff" d="M559 66h1v1h-1zM559 67h6v1h-6zM558 68h7v1h-7zM503 69h3v1h-3zM556 69h10v1h-10zM499 70h9v1h-9zM557 70h8v1h-8zM633 70h8v1h-8zM499 71h10v1h-10zM558 71h7v1h-7zM633 71h10v1h-10zM499 72h10v1h-10zM559 72h5v1h-5zM633 72h11v1h-11zM499 73h10v1h-10zM633 73h12v1h-12zM646 73h2v1h-2zM500 74h9v1h-9zM634 74h14v1h-14zM500 75h9v1h-9zM638 75h9v1h-9zM502 76h4v1h-4zM638 76h9v1h-9zM504 77h1v1h-1zM637 77h10v1h-10zM638 78h9v1h-9zM634 79h2v1h-2zM637 79h1v1h-1zM640 79h3v1h-3zM644 79h3v1h-3z"/>
<path fill="#652aa3" d="M554 18h1v1h-1zM551 21h1v1h-1zM551 22h2v1h-2zM559 22h1v1h-1zM550 23h2v1h-2zM553 23h2v1h-2zM551 24h2v1h-2zM550 25h1v1h-1zM550 26h2v1h-2zM476 27h1v1h-1zM479 27h2v1h-2zM489 27h1v1h-1zM496 28h1v1h-1zM554 28h1v1h-1zM475 29h1v1h-1zM481 29h1v1h-1zM486 29h1v1h-1zM548 29h1v1h-1zM550 29h1v1h-1zM619 29h1v1h-1zM621 29h3v1h-3zM474 30h1v1h-1zM482 30h1v1h-1zM487 30h1v1h-1zM502 30h2v1h-2zM550 30h1v1h-1zM555 30h2v1h-2zM564 30h1v1h-1zM620 30h1v1h-1zM622 30h1v1h-1zM474 31h2v1h-2zM481 31h1v1h-1zM483 31h1v1h-1zM502 31h2v1h-2zM542 31h3v1h-3zM549 31h4v1h-4zM555 31h2v1h-2zM563 31h1v1h-1zM621 31h1v1h-1zM632 31h2v1h-2zM473 32h3v1h-3zM482 32h2v1h-2zM502 32h2v1h-2zM541 32h4v1h-4zM547 32h5v1h-5zM557 32h1v1h-1zM562 32h1v1h-1zM564 32h1v1h-1zM620 32h1v1h-1zM630 32h4v1h-4zM473 33h3v1h-3zM479 33h5v1h-5zM541 33h3v1h-3zM546 33h4v1h-4zM551 33h1v1h-1zM556 33h1v1h-1zM559 33h1v1h-1zM561 33h2v1h-2zM617 33h1v1h-1zM619 33h1v1h-1zM621 33h1v1h-1zM630 33h3v1h-3zM474 34h2v1h-2zM483 34h1v1h-1zM500 34h1v1h-1zM529 34h2v1h-2zM541 34h3v1h-3zM547 34h2v1h-2zM551 34h1v1h-1zM555 34h1v1h-1zM616 34h2v1h-2zM631 34h3v1h-3zM473 35h2v1h-2zM499 35h3v1h-3zM529 35h2v1h-2zM542 35h1v1h-1zM548 35h4v1h-4zM555 35h1v1h-1zM575 35h1v1h-1zM617 35h1v1h-1zM624 35h2v1h-2zM631 35h3v1h-3zM473 36h1v1h-1zM494 36h1v1h-1zM496 36h1v1h-1zM499 36h3v1h-3zM529 36h2v1h-2zM542 36h1v1h-1zM563 36h1v1h-1zM578 36h1v1h-1zM617 36h1v1h-1zM625 36h1v1h-1zM632 36h2v1h-2zM500 37h2v1h-2zM566 37h2v1h-2zM575 37h1v1h-1zM577 37h1v1h-1zM614 37h1v1h-1zM616 37h2v1h-2zM625 37h1v1h-1zM487 38h2v1h-2zM491 38h2v1h-2zM499 38h2v1h-2zM572 38h1v1h-1zM576 38h1v1h-1zM578 38h1v1h-1zM612 38h1v1h-1zM614 38h4v1h-4zM477 39h2v1h-2zM487 39h2v1h-2zM492 39h4v1h-4zM569 39h1v1h-1zM571 39h1v1h-1zM575 39h1v1h-1zM577 39h1v1h-1zM582 39h2v1h-2zM589 39h2v1h-2zM609 39h4v1h-4zM615 39h7v1h-7zM476 40h3v1h-3zM482 40h2v1h-2zM487 40h3v1h-3zM492 40h3v1h-3zM575 40h1v1h-1zM583 40h2v1h-2zM588 40h1v1h-1zM592 40h1v1h-1zM609 40h4v1h-4zM615 40h8v1h-8zM482 41h3v1h-3zM486 41h2v1h-2zM489 41h2v1h-2zM492 41h3v1h-3zM567 41h2v1h-2zM575 41h1v1h-1zM582 41h4v1h-4zM610 41h3v1h-3zM615 41h8v1h-8zM483 42h1v1h-1zM486 42h4v1h-4zM491 42h1v1h-1zM493 42h1v1h-1zM582 42h5v1h-5zM610 42h2v1h-2zM619 42h4v1h-4zM485 43h6v1h-6zM494 43h2v1h-2zM535 43h2v1h-2zM568 43h1v1h-1zM581 43h6v1h-6zM610 43h3v1h-3zM620 43h2v1h-2zM485 44h3v1h-3zM535 44h3v1h-3zM582 44h5v1h-5zM589 44h1v1h-1zM591 44h1v1h-1zM596 44h1v1h-1zM610 44h2v1h-2zM618 44h2v1h-2zM621 44h1v1h-1zM495 45h1v1h-1zM536 45h2v1h-2zM584 45h1v1h-1zM587 45h1v1h-1zM589 45h2v1h-2zM597 45h1v1h-1zM605 45h2v1h-2zM612 45h1v1h-1zM619 45h2v1h-2zM496 46h1v1h-1zM589 46h3v1h-3zM604 46h1v1h-1zM606 46h3v1h-3zM612 46h2v1h-2zM618 46h2v1h-2zM566 47h3v1h-3zM591 47h3v1h-3zM605 47h3v1h-3zM618 47h3v1h-3zM591 48h6v1h-6zM606 48h1v1h-1zM618 48h1v1h-1zM592 49h8v1h-8zM601 49h1v1h-1zM593 50h5v1h-5zM599 50h2v1h-2zM602 50h2v1h-2zM612 50h2v1h-2zM619 50h1v1h-1zM495 51h1v1h-1zM608 51h1v1h-1zM612 51h2v1h-2zM617 51h2v1h-2zM445 52h1v1h-1zM503 52h1v1h-1zM505 52h1v1h-1zM609 52h1v1h-1zM617 52h1v1h-1zM624 52h3v1h-3zM446 53h1v1h-1zM488 53h3v1h-3zM502 53h1v1h-1zM597 53h2v1h-2zM609 53h1v1h-1zM625 53h2v1h-2zM596 54h3v1h-3zM486 55h1v1h-1zM488 55h1v1h-1zM595 55h4v1h-4zM611 55h1v1h-1zM486 56h2v1h-2zM492 56h1v1h-1zM596 56h1v1h-1zM598 56h1v1h-1zM611 56h1v1h-1zM613 56h1v1h-1zM615 56h1v1h-1zM487 57h1v1h-1zM607 57h1v1h-1zM614 57h1v1h-1zM598 58h1v1h-1zM613 58h1v1h-1zM597 59h4v1h-4zM607 59h1v1h-1zM616 59h1v1h-1zM598 60h3v1h-3zM615 60h4v1h-4zM599 61h1v1h-1zM628 61h2v1h-2zM627 62h1v1h-1zM629 62h1v1h-1zM636 62h2v1h-2zM512 74h2v1h-2zM515 74h3v1h-3zM617 74h1v1h-1zM619 74h2v1h-2zM513 75h1v1h-1zM515 75h1v1h-1zM519 75h1v1h-1zM521 75h1v1h-1zM618 75h1v1h-1zM512 76h1v1h-1zM514 76h1v1h-1zM516 76h1v1h-1zM521 76h2v1h-2zM623 76h1v1h-1zM512 77h1v1h-1zM521 77h1v1h-1zM511 78h2v1h-2zM514 78h1v1h-1zM516 78h1v1h-1zM521 78h2v1h-2zM511 79h2v1h-2zM516 79h1v1h-1zM521 79h2v1h-2zM510 80h5v1h-5zM516 80h1v1h-1zM521 80h2v1h-2zM510 81h4v1h-4zM521 81h1v1h-1zM511 82h3v1h-3zM515 82h1v1h-1zM520 82h3v1h-3zM657 82h1v1h-1zM511 83h4v1h-4zM520 83h3v1h-3zM656 83h3v1h-3zM449 84h1v1h-1zM519 84h3v1h-3zM448 85h1v1h-1zM450 85h1v1h-1zM519 85h3v1h-3zM448 86h2v1h-2zM518 86h1v1h-1zM520 86h1v1h-1zM663 86h2v1h-2zM512 87h1v1h-1zM514 87h1v1h-1zM517 87h3v1h-3zM663 87h1v1h-1zM433 88h2v1h-2zM504 88h2v1h-2zM513 88h1v1h-1zM518 88h1v1h-1zM520 88h1v1h-1zM504 89h2v1h-2zM507 89h1v1h-1zM584 89h1v1h-1zM507 90h4v1h-4zM566 90h2v1h-2zM642 90h1v1h-1zM507 91h5v1h-5zM563 91h4v1h-4zM641 91h1v1h-1zM643 91h1v1h-1zM507 92h5v1h-5zM517 92h1v1h-1zM564 92h2v1h-2zM567 92h2v1h-2zM642 92h2v1h-2zM505 93h1v1h-1zM508 93h6v1h-6zM565 93h4v1h-4zM641 93h3v1h-3zM508 94h9v1h-9zM565 94h1v1h-1zM567 94h2v1h-2zM639 94h1v1h-1zM641 94h1v1h-1zM643 94h1v1h-1zM501 95h3v1h-3zM508 95h7v1h-7zM565 95h2v1h-2zM638 95h2v1h-2zM642 95h1v1h-1zM644 95h1v1h-1zM501 96h3v1h-3zM505 96h2v1h-2zM508 96h1v1h-1zM510 96h1v1h-1zM512 96h1v1h-1zM619 96h1v1h-1zM638 96h2v1h-2zM501 97h5v1h-5zM511 97h1v1h-1zM513 97h1v1h-1zM561 97h3v1h-3zM620 97h1v1h-1zM622 97h1v1h-1zM638 97h1v1h-1zM640 97h1v1h-1zM501 98h4v1h-4zM510 98h6v1h-6zM564 98h1v1h-1zM618 98h4v1h-4zM637 98h4v1h-4zM501 99h2v1h-2zM504 99h1v1h-1zM511 99h4v1h-4zM563 99h1v1h-1zM618 99h3v1h-3zM637 99h3v1h-3zM501 100h2v1h-2zM509 100h1v1h-1zM513 100h2v1h-2zM557 100h3v1h-3zM618 100h3v1h-3zM638 100h1v1h-1zM508 101h1v1h-1zM558 101h1v1h-1zM619 101h3v1h-3zM509 102h1v1h-1zM634 103h2v1h-2zM504 104h1v1h-1zM634 104h1v1h-1zM504 105h1v1h-1z"/>
<path fill="#7a42b4" d="M538 9h1v1h-1zM552 10h1v1h-1zM464 13h1v1h-1zM576 13h1v1h-1zM599 13h1v1h-1zM465 14h1v1h-1zM625 15h1v1h-1zM630 15h1v1h-1zM552 16h1v1h-1zM560 16h1v1h-1zM458 17h1v1h-1zM634 17h1v1h-1zM552 18h1v1h-1zM555 18h4v1h-4zM573 18h1v1h-1zM613 18h1v1h-1zM553 19h1v1h-1zM555 19h1v1h-1zM558 19h1v1h-1zM560 19h1v1h-1zM615 19h1v1h-1zM551 20h2v1h-2zM554 20h1v1h-1zM556 20h1v1h-1zM559 20h1v1h-1zM561 20h1v1h-1zM564 20h1v1h-1zM544 21h1v1h-1zM550 21h1v1h-1zM552 21h2v1h-2zM555 21h1v1h-1zM562 21h1v1h-1zM564 21h1v1h-1zM568 21h1v1h-1zM575 21h1v1h-1zM633 21h1v1h-1zM544 22h1v1h-1zM550 22h1v1h-1zM553 22h2v1h-2zM560 22h1v1h-1zM588 22h1v1h-1zM593 22h1v1h-1zM611 22h1v1h-1zM485 23h1v1h-1zM490 23h1v1h-1zM544 23h1v1h-1zM548 23h1v1h-1zM552 23h1v1h-1zM555 23h6v1h-6zM568 23h1v1h-1zM571 23h1v1h-1zM576 23h1v1h-1zM578 23h1v1h-1zM580 23h1v1h-1zM587 23h1v1h-1zM590 23h1v1h-1zM593 23h1v1h-1zM606 23h1v1h-1zM487 24h1v1h-1zM507 24h1v1h-1zM544 24h1v1h-1zM549 24h2v1h-2zM553 24h5v1h-5zM559 24h2v1h-2zM562 24h1v1h-1zM585 24h1v1h-1zM588 24h1v1h-1zM594 24h2v1h-2zM476 25h1v1h-1zM486 25h1v1h-1zM502 25h1v1h-1zM509 25h1v1h-1zM548 25h1v1h-1zM551 25h3v1h-3zM567 25h1v1h-1zM498 26h1v1h-1zM545 26h1v1h-1zM549 26h1v1h-1zM552 26h3v1h-3zM567 26h1v1h-1zM570 26h1v1h-1zM577 26h1v1h-1zM579 26h1v1h-1zM590 26h1v1h-1zM616 26h1v1h-1zM478 27h1v1h-1zM481 27h1v1h-1zM485 27h4v1h-4zM490 27h1v1h-1zM507 27h1v1h-1zM513 27h1v1h-1zM547 27h8v1h-8zM565 27h1v1h-1zM573 27h1v1h-1zM575 27h1v1h-1zM583 27h1v1h-1zM595 27h2v1h-2zM603 27h1v1h-1zM479 28h3v1h-3zM485 28h1v1h-1zM487 28h1v1h-1zM489 28h1v1h-1zM497 28h2v1h-2zM505 28h1v1h-1zM507 28h1v1h-1zM547 28h4v1h-4zM553 28h1v1h-1zM556 28h1v1h-1zM571 28h1v1h-1zM576 28h1v1h-1zM581 28h1v1h-1zM594 28h1v1h-1zM618 28h1v1h-1zM620 28h2v1h-2zM479 29h1v1h-1zM484 29h1v1h-1zM488 29h1v1h-1zM495 29h2v1h-2zM499 29h1v1h-1zM501 29h1v1h-1zM504 29h4v1h-4zM545 29h3v1h-3zM549 29h1v1h-1zM551 29h1v1h-1zM553 29h3v1h-3zM562 29h2v1h-2zM572 29h1v1h-1zM591 29h1v1h-1zM596 29h1v1h-1zM618 29h1v1h-1zM620 29h1v1h-1zM475 30h1v1h-1zM484 30h2v1h-2zM494 30h3v1h-3zM500 30h2v1h-2zM504 30h1v1h-1zM507 30h1v1h-1zM543 30h3v1h-3zM547 30h3v1h-3zM551 30h4v1h-4zM557 30h3v1h-3zM562 30h2v1h-2zM591 30h1v1h-1zM618 30h2v1h-2zM621 30h1v1h-1zM623 30h1v1h-1zM484 31h1v1h-1zM488 31h1v1h-1zM495 31h1v1h-1zM501 31h1v1h-1zM545 31h4v1h-4zM553 31h2v1h-2zM557 31h4v1h-4zM564 31h1v1h-1zM567 31h1v1h-1zM588 31h1v1h-1zM592 31h1v1h-1zM612 31h1v1h-1zM616 31h1v1h-1zM620 31h1v1h-1zM622 31h2v1h-2zM476 32h1v1h-1zM484 32h1v1h-1zM487 32h2v1h-2zM492 32h1v1h-1zM494 32h1v1h-1zM496 32h6v1h-6zM508 32h1v1h-1zM545 32h2v1h-2zM552 32h1v1h-1zM554 32h2v1h-2zM558 32h4v1h-4zM566 32h1v1h-1zM569 32h3v1h-3zM598 32h1v1h-1zM615 32h2v1h-2zM618 32h2v1h-2zM621 32h1v1h-1zM476 33h1v1h-1zM490 33h3v1h-3zM496 33h1v1h-1zM500 33h4v1h-4zM544 33h2v1h-2zM552 33h4v1h-4zM557 33h1v1h-1zM560 33h1v1h-1zM563 33h6v1h-6zM570 33h1v1h-1zM610 33h4v1h-4zM615 33h2v1h-2zM618 33h1v1h-1zM620 33h1v1h-1zM629 33h1v1h-1zM479 34h2v1h-2zM484 34h1v1h-1zM486 34h1v1h-1zM488 34h1v1h-1zM490 34h3v1h-3zM495 34h1v1h-1zM499 34h1v1h-1zM501 34h3v1h-3zM531 34h1v1h-1zM544 34h3v1h-3zM552 34h1v1h-1zM554 34h1v1h-1zM556 34h2v1h-2zM559 34h1v1h-1zM561 34h6v1h-6zM610 34h4v1h-4zM618 34h5v1h-5zM624 34h1v1h-1zM630 34h1v1h-1zM475 35h1v1h-1zM480 35h1v1h-1zM483 35h5v1h-5zM490 35h1v1h-1zM492 35h1v1h-1zM496 35h3v1h-3zM502 35h1v1h-1zM531 35h1v1h-1zM541 35h1v1h-1zM543 35h1v1h-1zM546 35h2v1h-2zM556 35h1v1h-1zM559 35h1v1h-1zM561 35h7v1h-7zM574 35h1v1h-1zM577 35h2v1h-2zM602 35h2v1h-2zM610 35h5v1h-5zM616 35h1v1h-1zM618 35h1v1h-1zM630 35h1v1h-1zM634 35h1v1h-1zM474 36h2v1h-2zM481 36h8v1h-8zM491 36h3v1h-3zM495 36h1v1h-1zM497 36h2v1h-2zM502 36h1v1h-1zM531 36h1v1h-1zM541 36h1v1h-1zM543 36h1v1h-1zM555 36h1v1h-1zM560 36h3v1h-3zM566 36h2v1h-2zM574 36h1v1h-1zM576 36h2v1h-2zM580 36h2v1h-2zM583 36h1v1h-1zM609 36h1v1h-1zM612 36h5v1h-5zM618 36h1v1h-1zM624 36h1v1h-1zM631 36h1v1h-1zM634 36h1v1h-1zM472 37h3v1h-3zM479 37h1v1h-1zM483 37h6v1h-6zM491 37h9v1h-9zM548 37h1v1h-1zM552 37h1v1h-1zM572 37h2v1h-2zM589 37h1v1h-1zM593 37h1v1h-1zM613 37h1v1h-1zM615 37h1v1h-1zM618 37h1v1h-1zM622 37h1v1h-1zM628 37h1v1h-1zM631 37h4v1h-4zM472 38h3v1h-3zM478 38h2v1h-2zM484 38h3v1h-3zM490 38h1v1h-1zM493 38h6v1h-6zM543 38h1v1h-1zM546 38h1v1h-1zM561 38h1v1h-1zM569 38h2v1h-2zM573 38h2v1h-2zM577 38h1v1h-1zM583 38h1v1h-1zM588 38h2v1h-2zM591 38h1v1h-1zM609 38h3v1h-3zM613 38h1v1h-1zM618 38h5v1h-5zM627 38h3v1h-3zM474 39h2v1h-2zM479 39h1v1h-1zM482 39h5v1h-5zM490 39h1v1h-1zM496 39h4v1h-4zM541 39h2v1h-2zM546 39h1v1h-1zM561 39h1v1h-1zM570 39h1v1h-1zM576 39h1v1h-1zM578 39h2v1h-2zM584 39h1v1h-1zM587 39h2v1h-2zM592 39h2v1h-2zM613 39h2v1h-2zM622 39h1v1h-1zM628 39h2v1h-2zM631 39h1v1h-1zM479 40h3v1h-3zM484 40h3v1h-3zM491 40h1v1h-1zM495 40h1v1h-1zM548 40h2v1h-2zM552 40h1v1h-1zM562 40h1v1h-1zM576 40h1v1h-1zM591 40h1v1h-1zM593 40h2v1h-2zM603 40h1v1h-1zM613 40h2v1h-2zM623 40h1v1h-1zM629 40h2v1h-2zM477 41h1v1h-1zM485 41h1v1h-1zM495 41h1v1h-1zM591 41h1v1h-1zM593 41h1v1h-1zM623 41h1v1h-1zM628 41h2v1h-2zM473 42h1v1h-1zM479 42h1v1h-1zM484 42h2v1h-2zM490 42h1v1h-1zM492 42h1v1h-1zM494 42h2v1h-2zM536 42h3v1h-3zM544 42h1v1h-1zM548 42h1v1h-1zM580 42h2v1h-2zM589 42h3v1h-3zM608 42h1v1h-1zM612 42h1v1h-1zM616 42h3v1h-3zM623 42h2v1h-2zM475 43h1v1h-1zM480 43h1v1h-1zM482 43h3v1h-3zM496 43h1v1h-1zM537 43h3v1h-3zM548 43h2v1h-2zM557 43h1v1h-1zM566 43h1v1h-1zM577 43h1v1h-1zM579 43h1v1h-1zM591 43h8v1h-8zM613 43h1v1h-1zM618 43h2v1h-2zM622 43h2v1h-2zM495 44h2v1h-2zM538 44h2v1h-2zM554 44h1v1h-1zM559 44h1v1h-1zM572 44h1v1h-1zM581 44h1v1h-1zM587 44h1v1h-1zM590 44h1v1h-1zM592 44h4v1h-4zM597 44h2v1h-2zM612 44h2v1h-2zM617 44h1v1h-1zM620 44h1v1h-1zM622 44h1v1h-1zM483 45h1v1h-1zM496 45h1v1h-1zM558 45h1v1h-1zM566 45h1v1h-1zM577 45h1v1h-1zM585 45h2v1h-2zM588 45h1v1h-1zM592 45h5v1h-5zM598 45h2v1h-2zM602 45h1v1h-1zM607 45h2v1h-2zM610 45h2v1h-2zM613 45h2v1h-2zM573 46h2v1h-2zM578 46h1v1h-1zM581 46h2v1h-2zM592 46h8v1h-8zM605 46h1v1h-1zM610 46h2v1h-2zM620 46h1v1h-1zM477 47h1v1h-1zM481 47h1v1h-1zM571 47h1v1h-1zM594 47h8v1h-8zM603 47h2v1h-2zM608 47h1v1h-1zM614 47h2v1h-2zM617 47h1v1h-1zM621 47h1v1h-1zM445 48h1v1h-1zM478 48h1v1h-1zM483 48h2v1h-2zM492 48h1v1h-1zM578 48h1v1h-1zM597 48h3v1h-3zM601 48h2v1h-2zM604 48h2v1h-2zM607 48h2v1h-2zM610 48h1v1h-1zM614 48h1v1h-1zM616 48h2v1h-2zM619 48h3v1h-3zM444 49h3v1h-3zM482 49h1v1h-1zM484 49h1v1h-1zM496 49h1v1h-1zM540 49h1v1h-1zM547 49h1v1h-1zM600 49h1v1h-1zM602 49h2v1h-2zM605 49h3v1h-3zM609 49h1v1h-1zM612 49h2v1h-2zM617 49h1v1h-1zM619 49h3v1h-3zM444 50h3v1h-3zM481 50h1v1h-1zM497 50h2v1h-2zM536 50h1v1h-1zM541 50h2v1h-2zM573 50h1v1h-1zM598 50h1v1h-1zM601 50h1v1h-1zM606 50h5v1h-5zM614 50h1v1h-1zM616 50h3v1h-3zM444 51h4v1h-4zM497 51h2v1h-2zM540 51h1v1h-1zM573 51h1v1h-1zM594 51h10v1h-10zM607 51h1v1h-1zM609 51h1v1h-1zM614 51h3v1h-3zM446 52h1v1h-1zM479 52h1v1h-1zM496 52h3v1h-3zM541 52h1v1h-1zM569 52h1v1h-1zM573 52h1v1h-1zM578 52h1v1h-1zM597 52h2v1h-2zM600 52h1v1h-1zM602 52h2v1h-2zM608 52h1v1h-1zM487 53h1v1h-1zM491 53h1v1h-1zM497 53h3v1h-3zM501 53h1v1h-1zM503 53h2v1h-2zM531 53h1v1h-1zM544 53h1v1h-1zM594 53h3v1h-3zM608 53h1v1h-1zM611 53h1v1h-1zM613 53h2v1h-2zM616 53h3v1h-3zM628 53h1v1h-1zM484 54h2v1h-2zM487 54h3v1h-3zM530 54h2v1h-2zM538 54h1v1h-1zM554 54h1v1h-1zM574 54h1v1h-1zM576 54h1v1h-1zM595 54h1v1h-1zM599 54h2v1h-2zM602 54h1v1h-1zM610 54h1v1h-1zM613 54h4v1h-4zM625 54h1v1h-1zM627 54h2v1h-2zM487 55h1v1h-1zM492 55h2v1h-2zM570 55h1v1h-1zM579 55h1v1h-1zM599 55h3v1h-3zM615 55h2v1h-2zM531 56h1v1h-1zM548 56h3v1h-3zM554 56h1v1h-1zM568 56h1v1h-1zM570 56h2v1h-2zM577 56h1v1h-1zM597 56h1v1h-1zM599 56h3v1h-3zM608 56h2v1h-2zM614 56h1v1h-1zM488 57h2v1h-2zM492 57h1v1h-1zM568 57h1v1h-1zM571 57h1v1h-1zM596 57h5v1h-5zM608 57h2v1h-2zM613 57h1v1h-1zM615 57h2v1h-2zM488 58h3v1h-3zM498 58h2v1h-2zM538 58h1v1h-1zM546 58h1v1h-1zM548 58h1v1h-1zM555 58h1v1h-1zM569 58h1v1h-1zM576 58h1v1h-1zM581 58h2v1h-2zM596 58h2v1h-2zM599 58h2v1h-2zM607 58h2v1h-2zM614 58h4v1h-4zM619 58h1v1h-1zM489 59h1v1h-1zM494 59h1v1h-1zM497 59h1v1h-1zM499 59h2v1h-2zM502 59h1v1h-1zM504 59h1v1h-1zM545 59h1v1h-1zM552 59h1v1h-1zM554 59h2v1h-2zM560 59h1v1h-1zM573 59h1v1h-1zM582 59h1v1h-1zM608 59h1v1h-1zM614 59h2v1h-2zM630 59h1v1h-1zM498 60h1v1h-1zM502 60h1v1h-1zM504 60h1v1h-1zM538 60h1v1h-1zM541 60h1v1h-1zM547 60h1v1h-1zM551 60h1v1h-1zM553 60h1v1h-1zM572 60h1v1h-1zM597 60h1v1h-1zM608 60h1v1h-1zM628 60h2v1h-2zM490 61h1v1h-1zM492 61h2v1h-2zM499 61h2v1h-2zM502 61h2v1h-2zM552 61h1v1h-1zM555 61h1v1h-1zM572 61h1v1h-1zM574 61h1v1h-1zM597 61h2v1h-2zM615 61h3v1h-3zM626 61h1v1h-1zM636 61h1v1h-1zM499 62h1v1h-1zM539 62h1v1h-1zM543 62h1v1h-1zM551 62h2v1h-2zM574 62h1v1h-1zM577 62h1v1h-1zM598 62h1v1h-1zM614 62h1v1h-1zM616 62h1v1h-1zM628 62h1v1h-1zM635 62h1v1h-1zM495 63h1v1h-1zM499 63h1v1h-1zM501 63h1v1h-1zM505 63h2v1h-2zM509 63h1v1h-1zM545 63h2v1h-2zM550 63h2v1h-2zM553 63h3v1h-3zM568 63h2v1h-2zM614 63h2v1h-2zM626 63h1v1h-1zM630 63h1v1h-1zM636 63h1v1h-1zM499 64h1v1h-1zM501 64h1v1h-1zM504 64h1v1h-1zM541 64h1v1h-1zM549 64h3v1h-3zM567 64h1v1h-1zM569 64h1v1h-1zM574 64h1v1h-1zM613 64h1v1h-1zM625 64h1v1h-1zM629 64h2v1h-2zM506 65h1v1h-1zM550 65h2v1h-2zM554 65h1v1h-1zM558 66h1v1h-1zM570 66h2v1h-2zM612 66h1v1h-1zM502 67h1v1h-1zM553 67h1v1h-1zM573 67h1v1h-1zM486 68h1v1h-1zM568 68h1v1h-1zM576 68h1v1h-1zM622 68h1v1h-1zM486 69h1v1h-1zM488 69h1v1h-1zM509 69h1v1h-1zM568 69h1v1h-1zM571 69h1v1h-1zM625 69h1v1h-1zM627 69h1v1h-1zM487 70h1v1h-1zM486 71h1v1h-1zM492 71h1v1h-1zM515 71h1v1h-1zM565 71h1v1h-1zM571 71h1v1h-1zM615 71h2v1h-2zM619 71h2v1h-2zM497 72h1v1h-1zM515 72h1v1h-1zM575 72h1v1h-1zM616 72h1v1h-1zM618 72h1v1h-1zM620 72h1v1h-1zM521 73h1v1h-1zM571 73h1v1h-1zM573 73h1v1h-1zM616 73h1v1h-1zM494 74h1v1h-1zM514 74h1v1h-1zM519 74h1v1h-1zM521 74h3v1h-3zM495 75h1v1h-1zM512 75h1v1h-1zM514 75h1v1h-1zM516 75h1v1h-1zM520 75h1v1h-1zM522 75h2v1h-2zM559 75h1v1h-1zM617 75h1v1h-1zM619 75h1v1h-1zM626 75h1v1h-1zM497 76h1v1h-1zM513 76h1v1h-1zM515 76h1v1h-1zM518 76h1v1h-1zM520 76h1v1h-1zM523 76h1v1h-1zM557 76h1v1h-1zM562 76h1v1h-1zM617 76h1v1h-1zM620 76h2v1h-2zM502 77h1v1h-1zM513 77h3v1h-3zM517 77h1v1h-1zM520 77h1v1h-1zM522 77h2v1h-2zM554 77h1v1h-1zM498 78h1v1h-1zM513 78h1v1h-1zM515 78h1v1h-1zM517 78h1v1h-1zM520 78h1v1h-1zM523 78h1v1h-1zM561 78h1v1h-1zM621 78h1v1h-1zM513 79h3v1h-3zM517 79h1v1h-1zM628 79h1v1h-1zM505 80h1v1h-1zM515 80h1v1h-1zM558 80h1v1h-1zM634 80h1v1h-1zM434 81h1v1h-1zM514 81h4v1h-4zM519 81h1v1h-1zM522 81h1v1h-1zM634 81h1v1h-1zM433 82h3v1h-3zM501 82h1v1h-1zM504 82h1v1h-1zM514 82h1v1h-1zM516 82h1v1h-1zM518 82h2v1h-2zM634 82h1v1h-1zM636 82h1v1h-1zM642 82h2v1h-2zM656 82h1v1h-1zM434 83h1v1h-1zM515 83h1v1h-1zM518 83h2v1h-2zM562 83h1v1h-1zM636 83h1v1h-1zM643 83h1v1h-1zM500 84h1v1h-1zM511 84h5v1h-5zM518 84h1v1h-1zM522 84h1v1h-1zM636 84h1v1h-1zM656 84h3v1h-3zM663 84h1v1h-1zM449 85h1v1h-1zM514 85h2v1h-2zM517 85h2v1h-2zM554 85h2v1h-2zM636 85h1v1h-1zM663 85h3v1h-3zM511 86h1v1h-1zM513 86h2v1h-2zM516 86h2v1h-2zM519 86h1v1h-1zM521 86h1v1h-1zM561 86h1v1h-1zM569 86h1v1h-1zM577 86h1v1h-1zM631 86h1v1h-1zM634 86h2v1h-2zM662 86h1v1h-1zM449 87h1v1h-1zM500 87h1v1h-1zM513 87h1v1h-1zM515 87h2v1h-2zM520 87h1v1h-1zM637 87h1v1h-1zM653 87h1v1h-1zM501 88h1v1h-1zM503 88h1v1h-1zM506 88h1v1h-1zM512 88h1v1h-1zM514 88h3v1h-3zM519 88h1v1h-1zM559 88h2v1h-2zM584 88h1v1h-1zM620 88h1v1h-1zM622 88h1v1h-1zM624 88h1v1h-1zM653 88h2v1h-2zM433 89h1v1h-1zM500 89h1v1h-1zM503 89h1v1h-1zM506 89h1v1h-1zM508 89h3v1h-3zM512 89h3v1h-3zM517 89h3v1h-3zM522 89h1v1h-1zM555 89h1v1h-1zM568 89h1v1h-1zM633 89h1v1h-1zM644 89h1v1h-1zM504 90h3v1h-3zM511 90h7v1h-7zM519 90h1v1h-1zM558 90h1v1h-1zM568 90h1v1h-1zM636 90h1v1h-1zM644 90h1v1h-1zM502 91h1v1h-1zM504 91h2v1h-2zM512 91h3v1h-3zM516 91h3v1h-3zM567 91h2v1h-2zM639 91h2v1h-2zM642 91h1v1h-1zM505 92h2v1h-2zM512 92h2v1h-2zM516 92h1v1h-1zM562 92h1v1h-1zM566 92h1v1h-1zM639 92h2v1h-2zM644 92h1v1h-1zM506 93h1v1h-1zM514 93h3v1h-3zM560 93h1v1h-1zM569 93h1v1h-1zM639 93h1v1h-1zM644 93h2v1h-2zM559 94h2v1h-2zM566 94h1v1h-1zM627 94h1v1h-1zM557 95h4v1h-4zM562 95h1v1h-1zM564 95h1v1h-1zM567 95h2v1h-2zM619 95h1v1h-1zM625 95h1v1h-1zM630 95h1v1h-1zM640 95h1v1h-1zM507 96h1v1h-1zM557 96h3v1h-3zM561 96h7v1h-7zM630 96h1v1h-1zM641 96h3v1h-3zM506 97h2v1h-2zM559 97h2v1h-2zM564 97h3v1h-3zM619 97h1v1h-1zM631 97h1v1h-1zM505 98h1v1h-1zM507 98h1v1h-1zM509 98h1v1h-1zM565 98h2v1h-2zM503 99h1v1h-1zM506 99h3v1h-3zM510 99h1v1h-1zM557 99h2v1h-2zM564 99h1v1h-1zM633 99h1v1h-1zM636 99h1v1h-1zM503 100h2v1h-2zM507 100h1v1h-1zM510 100h3v1h-3zM560 100h1v1h-1zM632 100h1v1h-1zM635 100h1v1h-1zM639 100h2v1h-2zM503 101h1v1h-1zM507 101h1v1h-1zM510 101h1v1h-1zM559 101h1v1h-1zM563 101h1v1h-1zM631 101h1v1h-1zM633 101h1v1h-1zM635 101h3v1h-3zM503 102h1v1h-1zM507 102h1v1h-1zM513 102h1v1h-1zM632 102h7v1h-7zM502 103h2v1h-2zM505 103h1v1h-1zM633 103h1v1h-1zM636 103h1v1h-1zM638 103h1v1h-1zM503 104h1v1h-1zM633 104h1v1h-1zM635 104h2v1h-2zM503 105h1v1h-1zM505 105h2v1h-2zM508 105h2v1h-2zM648 106h1v1h-1zM643 108h1v1h-1zM646 109h1v1h-1zM644 110h1v1h-1zM514 112h1v1h-1z"/>
<path fill="#9873c8" d="M517 9h1v1h-1zM522 9h1v1h-1zM556 11h1v1h-1zM584 12h1v1h-1zM559 14h3v1h-3zM553 15h1v1h-1zM559 15h1v1h-1zM604 15h1v1h-1zM616 15h1v1h-1zM579 16h1v1h-1zM553 17h1v1h-1zM589 17h1v1h-1zM627 17h1v1h-1zM549 18h3v1h-3zM553 18h1v1h-1zM561 18h1v1h-1zM628 18h1v1h-1zM635 18h1v1h-1zM548 19h5v1h-5zM554 19h1v1h-1zM556 19h2v1h-2zM559 19h1v1h-1zM568 19h1v1h-1zM584 19h1v1h-1zM545 20h2v1h-2zM549 20h2v1h-2zM553 20h1v1h-1zM555 20h1v1h-1zM557 20h2v1h-2zM560 20h1v1h-1zM568 20h1v1h-1zM573 20h2v1h-2zM588 20h2v1h-2zM615 20h1v1h-1zM545 21h3v1h-3zM554 21h1v1h-1zM556 21h6v1h-6zM567 21h1v1h-1zM573 21h1v1h-1zM576 21h1v1h-1zM600 21h1v1h-1zM634 21h1v1h-1zM487 22h1v1h-1zM545 22h3v1h-3zM555 22h4v1h-4zM561 22h2v1h-2zM576 22h1v1h-1zM583 22h1v1h-1zM586 22h1v1h-1zM592 22h1v1h-1zM595 22h1v1h-1zM613 22h1v1h-1zM545 23h3v1h-3zM562 23h1v1h-1zM564 23h1v1h-1zM566 23h2v1h-2zM575 23h1v1h-1zM583 23h1v1h-1zM585 23h1v1h-1zM491 24h1v1h-1zM496 24h1v1h-1zM499 24h1v1h-1zM506 24h1v1h-1zM545 24h4v1h-4zM558 24h1v1h-1zM561 24h1v1h-1zM567 24h1v1h-1zM571 24h1v1h-1zM573 24h2v1h-2zM578 24h1v1h-1zM580 24h1v1h-1zM591 24h1v1h-1zM487 25h1v1h-1zM492 25h1v1h-1zM499 25h1v1h-1zM503 25h1v1h-1zM507 25h1v1h-1zM544 25h4v1h-4zM549 25h1v1h-1zM554 25h10v1h-10zM566 25h1v1h-1zM572 25h2v1h-2zM576 25h1v1h-1zM579 25h1v1h-1zM588 25h1v1h-1zM596 25h1v1h-1zM598 25h1v1h-1zM603 25h1v1h-1zM499 26h1v1h-1zM504 26h1v1h-1zM510 26h1v1h-1zM544 26h1v1h-1zM546 26h3v1h-3zM555 26h9v1h-9zM565 26h2v1h-2zM569 26h1v1h-1zM573 26h1v1h-1zM584 26h1v1h-1zM593 26h1v1h-1zM596 26h1v1h-1zM599 26h1v1h-1zM491 27h4v1h-4zM509 27h1v1h-1zM545 27h2v1h-2zM556 27h8v1h-8zM567 27h1v1h-1zM571 27h1v1h-1zM581 27h1v1h-1zM587 27h1v1h-1zM591 27h2v1h-2zM609 27h1v1h-1zM486 28h1v1h-1zM490 28h6v1h-6zM503 28h1v1h-1zM513 28h1v1h-1zM546 28h1v1h-1zM551 28h2v1h-2zM555 28h1v1h-1zM557 28h7v1h-7zM566 28h1v1h-1zM568 28h1v1h-1zM591 28h1v1h-1zM596 28h1v1h-1zM619 28h1v1h-1zM476 29h1v1h-1zM478 29h1v1h-1zM480 29h1v1h-1zM485 29h1v1h-1zM490 29h1v1h-1zM493 29h2v1h-2zM498 29h1v1h-1zM500 29h1v1h-1zM503 29h1v1h-1zM508 29h1v1h-1zM510 29h1v1h-1zM544 29h1v1h-1zM552 29h1v1h-1zM556 29h6v1h-6zM581 29h1v1h-1zM584 29h1v1h-1zM590 29h1v1h-1zM476 30h2v1h-2zM479 30h3v1h-3zM489 30h5v1h-5zM498 30h2v1h-2zM505 30h2v1h-2zM511 30h1v1h-1zM546 30h1v1h-1zM568 30h1v1h-1zM570 30h1v1h-1zM577 30h1v1h-1zM583 30h1v1h-1zM586 30h1v1h-1zM589 30h2v1h-2zM597 30h1v1h-1zM476 31h2v1h-2zM485 31h1v1h-1zM489 31h6v1h-6zM498 31h3v1h-3zM504 31h3v1h-3zM580 31h1v1h-1zM604 31h1v1h-1zM617 31h1v1h-1zM624 31h1v1h-1zM477 32h2v1h-2zM485 32h2v1h-2zM489 32h3v1h-3zM493 32h1v1h-1zM495 32h1v1h-1zM504 32h2v1h-2zM553 32h1v1h-1zM580 32h1v1h-1zM589 32h1v1h-1zM595 32h1v1h-1zM617 32h1v1h-1zM624 32h1v1h-1zM477 33h2v1h-2zM484 33h6v1h-6zM497 33h3v1h-3zM505 33h1v1h-1zM558 33h1v1h-1zM569 33h1v1h-1zM598 33h1v1h-1zM614 33h1v1h-1zM476 34h3v1h-3zM485 34h1v1h-1zM487 34h1v1h-1zM489 34h1v1h-1zM497 34h2v1h-2zM504 34h1v1h-1zM553 34h1v1h-1zM558 34h1v1h-1zM560 34h1v1h-1zM567 34h2v1h-2zM584 34h1v1h-1zM614 34h2v1h-2zM476 35h4v1h-4zM489 35h1v1h-1zM491 35h1v1h-1zM532 35h1v1h-1zM544 35h2v1h-2zM557 35h2v1h-2zM560 35h1v1h-1zM568 35h1v1h-1zM579 35h3v1h-3zM609 35h1v1h-1zM615 35h1v1h-1zM619 35h5v1h-5zM477 36h4v1h-4zM490 36h1v1h-1zM544 36h1v1h-1zM552 36h1v1h-1zM556 36h2v1h-2zM568 36h1v1h-1zM573 36h1v1h-1zM610 36h2v1h-2zM619 36h3v1h-3zM623 36h1v1h-1zM628 36h3v1h-3zM475 37h4v1h-4zM480 37h3v1h-3zM489 37h1v1h-1zM546 37h1v1h-1zM554 37h3v1h-3zM568 37h1v1h-1zM570 37h2v1h-2zM576 37h1v1h-1zM583 37h2v1h-2zM590 37h1v1h-1zM609 37h4v1h-4zM619 37h3v1h-3zM624 37h1v1h-1zM629 37h2v1h-2zM480 38h3v1h-3zM542 38h1v1h-1zM553 38h1v1h-1zM571 38h1v1h-1zM596 38h1v1h-1zM602 38h1v1h-1zM625 38h1v1h-1zM630 38h2v1h-2zM633 38h2v1h-2zM473 39h1v1h-1zM481 39h1v1h-1zM489 39h1v1h-1zM491 39h1v1h-1zM544 39h1v1h-1zM552 39h1v1h-1zM554 39h2v1h-2zM585 39h1v1h-1zM601 39h1v1h-1zM603 39h1v1h-1zM625 39h1v1h-1zM630 39h1v1h-1zM490 40h1v1h-1zM496 40h3v1h-3zM542 40h1v1h-1zM546 40h2v1h-2zM553 40h1v1h-1zM577 40h1v1h-1zM587 40h1v1h-1zM595 40h1v1h-1zM598 40h2v1h-2zM604 40h1v1h-1zM627 40h2v1h-2zM478 41h1v1h-1zM491 41h1v1h-1zM496 41h2v1h-2zM576 41h1v1h-1zM578 41h1v1h-1zM580 41h1v1h-1zM592 41h1v1h-1zM594 41h2v1h-2zM613 41h2v1h-2zM476 42h1v1h-1zM478 42h1v1h-1zM496 42h1v1h-1zM553 42h1v1h-1zM569 42h1v1h-1zM578 42h2v1h-2zM592 42h5v1h-5zM613 42h3v1h-3zM629 42h1v1h-1zM476 43h3v1h-3zM491 43h1v1h-1zM493 43h1v1h-1zM547 43h1v1h-1zM569 43h1v1h-1zM580 43h1v1h-1zM590 43h1v1h-1zM599 43h1v1h-1zM614 43h4v1h-4zM484 44h1v1h-1zM494 44h1v1h-1zM553 44h1v1h-1zM557 44h2v1h-2zM566 44h1v1h-1zM599 44h2v1h-2zM614 44h2v1h-2zM623 44h1v1h-1zM480 45h1v1h-1zM538 45h2v1h-2zM574 45h2v1h-2zM582 45h1v1h-1zM600 45h2v1h-2zM615 45h1v1h-1zM621 45h3v1h-3zM544 46h1v1h-1zM585 46h1v1h-1zM600 46h4v1h-4zM614 46h1v1h-1zM621 46h3v1h-3zM480 47h1v1h-1zM544 47h1v1h-1zM574 47h1v1h-1zM578 47h1v1h-1zM602 47h1v1h-1zM610 47h4v1h-4zM616 47h1v1h-1zM622 47h2v1h-2zM600 48h1v1h-1zM603 48h1v1h-1zM611 48h3v1h-3zM615 48h1v1h-1zM622 48h2v1h-2zM626 48h1v1h-1zM480 49h1v1h-1zM497 49h2v1h-2zM571 49h3v1h-3zM575 49h1v1h-1zM585 49h1v1h-1zM604 49h1v1h-1zM611 49h1v1h-1zM614 49h3v1h-3zM618 49h1v1h-1zM622 49h1v1h-1zM482 50h1v1h-1zM490 50h1v1h-1zM572 50h1v1h-1zM579 50h1v1h-1zM615 50h1v1h-1zM482 51h2v1h-2zM500 51h2v1h-2zM542 51h1v1h-1zM604 51h1v1h-1zM482 52h1v1h-1zM489 52h1v1h-1zM500 52h3v1h-3zM556 52h1v1h-1zM572 52h1v1h-1zM579 52h1v1h-1zM585 52h1v1h-1zM594 52h3v1h-3zM599 52h1v1h-1zM601 52h1v1h-1zM486 53h1v1h-1zM500 53h1v1h-1zM532 53h1v1h-1zM539 53h1v1h-1zM565 53h1v1h-1zM567 53h1v1h-1zM582 53h1v1h-1zM599 53h4v1h-4zM615 53h1v1h-1zM486 54h1v1h-1zM500 54h1v1h-1zM532 54h2v1h-2zM561 54h1v1h-1zM579 54h1v1h-1zM601 54h1v1h-1zM617 54h2v1h-2zM484 55h2v1h-2zM530 55h3v1h-3zM541 55h1v1h-1zM545 55h1v1h-1zM547 55h4v1h-4zM564 55h1v1h-1zM572 55h2v1h-2zM575 55h1v1h-1zM617 55h2v1h-2zM625 55h2v1h-2zM628 55h1v1h-1zM488 56h1v1h-1zM537 56h1v1h-1zM539 56h1v1h-1zM547 56h1v1h-1zM559 56h1v1h-1zM616 56h3v1h-3zM625 56h1v1h-1zM627 56h1v1h-1zM629 56h1v1h-1zM642 56h1v1h-1zM493 57h1v1h-1zM542 57h1v1h-1zM545 57h1v1h-1zM551 57h1v1h-1zM554 57h1v1h-1zM556 57h1v1h-1zM559 57h2v1h-2zM572 57h1v1h-1zM576 57h1v1h-1zM581 57h1v1h-1zM601 57h1v1h-1zM617 57h3v1h-3zM626 57h1v1h-1zM630 57h1v1h-1zM641 57h3v1h-3zM491 58h3v1h-3zM503 58h1v1h-1zM507 58h1v1h-1zM537 58h1v1h-1zM539 58h1v1h-1zM545 58h1v1h-1zM549 58h1v1h-1zM553 58h1v1h-1zM556 58h1v1h-1zM572 58h1v1h-1zM601 58h1v1h-1zM609 58h1v1h-1zM626 58h2v1h-2zM630 58h1v1h-1zM490 59h4v1h-4zM496 59h1v1h-1zM503 59h1v1h-1zM548 59h1v1h-1zM551 59h1v1h-1zM581 59h1v1h-1zM609 59h1v1h-1zM612 59h2v1h-2zM626 59h4v1h-4zM490 60h4v1h-4zM540 60h1v1h-1zM542 60h1v1h-1zM548 60h1v1h-1zM554 60h2v1h-2zM571 60h1v1h-1zM574 60h1v1h-1zM612 60h3v1h-3zM626 60h2v1h-2zM491 61h1v1h-1zM498 61h1v1h-1zM505 61h2v1h-2zM508 61h1v1h-1zM547 61h1v1h-1zM550 61h2v1h-2zM553 61h1v1h-1zM556 61h1v1h-1zM614 61h1v1h-1zM497 62h1v1h-1zM502 62h1v1h-1zM505 62h2v1h-2zM542 62h1v1h-1zM550 62h1v1h-1zM556 62h1v1h-1zM569 62h1v1h-1zM571 62h1v1h-1zM575 62h1v1h-1zM580 62h1v1h-1zM617 62h1v1h-1zM496 63h2v1h-2zM502 63h1v1h-1zM504 63h1v1h-1zM508 63h1v1h-1zM543 63h1v1h-1zM549 63h1v1h-1zM556 63h1v1h-1zM570 63h1v1h-1zM574 63h1v1h-1zM610 63h1v1h-1zM613 63h1v1h-1zM624 63h1v1h-1zM502 64h1v1h-1zM506 64h1v1h-1zM508 64h1v1h-1zM543 64h1v1h-1zM545 64h2v1h-2zM552 64h1v1h-1zM556 64h2v1h-2zM575 64h1v1h-1zM609 64h1v1h-1zM498 65h1v1h-1zM500 65h2v1h-2zM503 65h3v1h-3zM510 65h1v1h-1zM541 65h1v1h-1zM553 65h1v1h-1zM555 65h1v1h-1zM568 65h1v1h-1zM576 65h1v1h-1zM611 65h1v1h-1zM495 66h1v1h-1zM500 66h1v1h-1zM502 66h3v1h-3zM506 66h1v1h-1zM494 67h1v1h-1zM498 67h2v1h-2zM504 67h1v1h-1zM619 67h1v1h-1zM502 68h1v1h-1zM509 68h1v1h-1zM569 68h1v1h-1zM628 68h1v1h-1zM487 69h1v1h-1zM494 69h1v1h-1zM566 69h2v1h-2zM612 69h1v1h-1zM486 70h1v1h-1zM493 70h1v1h-1zM573 70h1v1h-1zM511 71h1v1h-1zM572 71h3v1h-3zM496 72h1v1h-1zM619 72h1v1h-1zM495 73h3v1h-3zM568 73h1v1h-1zM520 74h1v1h-1zM524 74h1v1h-1zM569 74h2v1h-2zM572 74h1v1h-1zM498 75h1v1h-1zM568 75h1v1h-1zM517 76h1v1h-1zM519 76h1v1h-1zM630 76h1v1h-1zM495 77h1v1h-1zM499 77h1v1h-1zM501 77h1v1h-1zM505 77h2v1h-2zM516 77h1v1h-1zM518 77h2v1h-2zM627 77h1v1h-1zM497 78h1v1h-1zM500 78h1v1h-1zM518 78h2v1h-2zM494 79h1v1h-1zM496 79h1v1h-1zM499 79h1v1h-1zM508 79h1v1h-1zM518 79h3v1h-3zM498 80h1v1h-1zM517 80h4v1h-4zM635 80h1v1h-1zM504 81h1v1h-1zM506 81h1v1h-1zM518 81h1v1h-1zM520 81h1v1h-1zM573 81h2v1h-2zM633 81h1v1h-1zM498 82h1v1h-1zM503 82h1v1h-1zM510 83h1v1h-1zM574 83h1v1h-1zM655 83h1v1h-1zM503 84h1v1h-1zM564 84h1v1h-1zM633 84h1v1h-1zM655 84h1v1h-1zM499 85h1v1h-1zM511 85h3v1h-3zM656 85h2v1h-2zM450 86h1v1h-1zM503 86h1v1h-1zM512 86h1v1h-1zM554 86h1v1h-1zM563 86h1v1h-1zM656 86h2v1h-2zM511 87h1v1h-1zM555 87h1v1h-1zM579 87h1v1h-1zM583 87h1v1h-1zM626 87h1v1h-1zM636 87h1v1h-1zM507 88h5v1h-5zM522 88h1v1h-1zM582 88h2v1h-2zM511 89h1v1h-1zM515 89h2v1h-2zM567 89h1v1h-1zM579 89h1v1h-1zM582 89h2v1h-2zM631 89h1v1h-1zM518 90h1v1h-1zM556 90h1v1h-1zM562 90h1v1h-1zM631 90h1v1h-1zM633 90h2v1h-2zM655 90h2v1h-2zM506 91h1v1h-1zM515 91h1v1h-1zM634 91h1v1h-1zM637 91h1v1h-1zM514 92h2v1h-2zM561 92h1v1h-1zM632 92h1v1h-1zM637 92h1v1h-1zM502 93h1v1h-1zM561 93h1v1h-1zM621 93h1v1h-1zM631 93h1v1h-1zM640 93h1v1h-1zM556 94h1v1h-1zM561 94h1v1h-1zM561 95h1v1h-1zM563 95h1v1h-1zM560 96h1v1h-1zM568 96h1v1h-1zM631 96h1v1h-1zM557 97h2v1h-2zM567 97h1v1h-1zM641 97h3v1h-3zM506 98h1v1h-1zM557 98h1v1h-1zM636 98h1v1h-1zM641 98h2v1h-2zM632 99h1v1h-1zM634 99h2v1h-2zM654 99h1v1h-1zM506 100h1v1h-1zM564 100h1v1h-1zM634 100h1v1h-1zM636 100h1v1h-1zM654 100h1v1h-1zM506 101h1v1h-1zM511 101h1v1h-1zM634 101h1v1h-1zM638 101h2v1h-2zM653 101h1v1h-1zM640 102h1v1h-1zM504 103h1v1h-1zM506 103h1v1h-1zM637 103h1v1h-1zM502 104h1v1h-1zM505 104h1v1h-1zM651 104h1v1h-1zM654 104h1v1h-1zM653 105h1v1h-1zM507 106h2v1h-2zM653 106h1v1h-1zM509 107h1v1h-1zM647 107h1v1h-1zM645 108h1v1h-1zM645 110h1v1h-1zM644 111h1v1h-1zM515 112h1v1h-1zM507 113h1v1h-1zM513 114h1v1h-1z"/>
</g>
<path fill="#a184cf" d="M444.6 50.2h1.3v1.3h-1.3zM445.7 51.0h1.3v1.3h-1.3zM433.6 81.9h1.3v1.3h-1.3zM443.3 88.6h1.3v1.3h-1.3zM449.1 85.3h1.3v1.3h-1.3zM453.5 83.0h1.3v1.3h-1.3zM454.0 77.4h1.3v1.3h-1.3zM433.3 88.5h1.3v1.3h-1.3zM662.9 85.5h1.3v1.3h-1.3zM656.5 83.9h1.3v1.3h-1.3zM653.8 88.8h1.3v1.3h-1.3zM652.7 77.9h1.3v1.3h-1.3zM642.1 56.6h1.3v1.3h-1.3zM636.0 62.1h1.3v1.3h-1.3zM651.6 62.6h1.3v1.3h-1.3zM660.2 62.5h1.3v1.3h-1.3zM661.9 67.7h1.3v1.3h-1.3zM486.5 69.6h1.3v1.3h-1.3zM477.2 93.8h1.3v1.3h-1.3zM530.4 34.8h1.3v1.3h-1.3zM536.9 43.3h1.3v1.3h-1.3zM536.2 39.5h1.3v1.3h-1.3zM531.3 55.1h1.3v1.3h-1.3zM506.4 39.9h1.3v1.3h-1.3zM506.6 56.1h1.3v1.3h-1.3zM506.5 54.2h1.3v1.3h-1.3zM543.0 83.8h1.3v1.3h-1.3zM513.9 113.2h1.3v1.3h-1.3zM584.1 87.7h1.3v1.3h-1.3zM582.7 88.5h1.3v1.3h-1.3zM583.6 73.3h1.3v1.3h-1.3zM595.6 65.3h1.3v1.3h-1.3zM575.5 79.9h1.3v1.3h-1.3zM607.9 57.9h1.3v1.3h-1.3zM647.8 73.7h1.3v1.3h-1.3zM656.4 58.8h1.3v1.3h-1.3zM450.1 90.2h1.3v1.3h-1.3zM440.9 78.4h1.3v1.3h-1.3zM431.0 82.0h1.3v1.3h-1.3z"/>
<use href="#grat" transform="translate(547.40 69.70) scale(0.5990)" fill="none" stroke="#cfcfcf" stroke-width="0.835" opacity="0.45"/>
<use href="#land" transform="translate(547.40 69.70) scale(0.5990)" fill="none" stroke="#111" stroke-width="1.002"/>
<use href="#casp" transform="translate(547.40 69.70) scale(0.5990)" fill="#fff" stroke="#111" stroke-width="1.002"/>
<use href="#ant" transform="translate(547.40 69.70) scale(0.5990)" fill="#fff" stroke="#111" stroke-width="1.002"/>
</g>
<use href="#bnd" transform="translate(547.40 69.70) scale(0.5990)" fill="none" stroke="#333" stroke-width="1.503"/>
<text x="538.3" y="145.4" font-size="9.85" text-anchor="start" font-weight="normal" fill="#000" >PV power production (</text>
<text x="634.9" y="145.4" font-size="10.40" text-anchor="start" font-weight="normal" fill="#000" font-style="italic">W</text>
<text x="647.0" y="145.4" font-size="9.85" text-anchor="start" font-weight="normal" fill="#000" font-style="italic">m</text>
<text x="656.0" y="141.4" font-size="8.20" text-anchor="start" font-weight="normal" fill="#000" >&#8722;2</text>
<text x="667.3" y="145.4" font-size="9.85" text-anchor="start" font-weight="normal" fill="#000" >)</text>
<text x="549.2" y="155.6" font-size="9.80" text-anchor="end" font-weight="bold" fill="#4e0f8f" >Installed areas</text>
<text x="549.2" y="163.7" font-size="9.85" text-anchor="end" font-weight="bold" fill="#faae98" >Potentially exploitable areas</text>
<rect x="554.2" y="151.1" width="102.1" height="4.2" fill="url(#gp)" stroke="#777" stroke-width="0.5"/>
<rect x="554.2" y="158.7" width="102.1" height="4.2" fill="url(#gk)" stroke="#777" stroke-width="0.5"/>
<line x1="561.3" y1="162.9" x2="561.3" y2="165" stroke="#444" stroke-width="0.6"/>
<text x="561.3" y="174.0" font-size="10.00" text-anchor="middle" font-weight="normal" fill="#000" >20</text>
<line x1="605.5" y1="162.9" x2="605.5" y2="165" stroke="#444" stroke-width="0.6"/>
<text x="605.5" y="174.0" font-size="10.00" text-anchor="middle" font-weight="normal" fill="#000" >40</text>
<line x1="649.7" y1="162.9" x2="649.7" y2="165" stroke="#444" stroke-width="0.6"/>
<text x="649.7" y="174.0" font-size="10.00" text-anchor="middle" font-weight="normal" fill="#000" >60</text>
<text x="510.4" y="195.1" font-size="11.60" text-anchor="middle" font-weight="normal" fill="#000" >Mid-21st century</text>
<text x="620.6" y="195.1" font-size="11.60" text-anchor="middle" font-weight="normal" fill="#000" >Late-21st century</text>
<text x="0" y="0" font-size="11.4" text-anchor="middle" transform="translate(424.6,257.5) rotate(-90)">Density</text>
<clipPath id="p21"><path d="M470.50,238.6L470.50,238.0L471.55,238.0L471.55,236.7L472.60,236.7L472.60,234.9L473.65,234.9L473.65,232.5L474.70,232.5L474.70,224.8L475.75,224.8L475.75,211.6L476.80,211.6L476.80,206.4L477.85,206.4L477.85,206.0L478.90,206.0L478.90,213.8L479.95,213.8L479.95,217.6L481.00,217.6L481.00,205.9L482.05,205.9L482.05,204.5L483.10,204.5L483.10,208.3L484.15,208.3L484.15,216.7L485.20,216.7L485.20,220.8L486.25,220.8L486.25,221.7L487.30,221.7L487.30,221.9L488.35,221.9L488.35,222.8L489.40,222.8L489.40,224.4L490.45,224.4L490.45,225.6L491.50,225.6L491.50,226.9L492.55,226.9L492.55,228.1L493.60,228.1L493.60,229.3L494.65,229.3L494.65,230.4L495.70,230.4L495.70,231.6L496.75,231.6L496.75,232.8L497.80,232.8L497.80,234.0L498.85,234.0L498.85,235.3L499.90,235.3L499.90,236.6L500.95,236.6L500.95,237.9L502.00,237.9L502.00,238.6Z"/></clipPath>
<path d="M474.50,238.6L474.50,238.0L475.55,238.0L475.55,236.8L476.60,236.8L476.60,235.7L477.65,235.7L477.65,234.5L478.70,234.5L478.70,233.4L479.75,233.4L479.75,232.1L480.80,232.1L480.80,230.7L481.85,230.7L481.85,229.2L482.90,229.2L482.90,227.8L483.95,227.8L483.95,226.3L485.00,226.3L485.00,224.8L486.05,224.8L486.05,223.3L487.10,223.3L487.10,220.9L488.15,220.9L488.15,217.7L489.20,217.7L489.20,217.7L490.25,217.7L490.25,217.7L491.30,217.7L491.30,217.7L492.35,217.7L492.35,217.7L493.40,217.7L493.40,218.3L494.45,218.3L494.45,218.3L495.50,218.3L495.50,218.3L496.55,218.3L496.55,218.3L497.60,218.3L497.60,220.6L498.65,220.6L498.65,224.4L499.70,224.4L499.70,225.7L500.75,225.7L500.75,226.0L501.80,226.0L501.80,226.3L502.85,226.3L502.85,226.8L503.90,226.8L503.90,227.6L504.95,227.6L504.95,228.6L506.00,228.6L506.00,229.9L507.05,229.9L507.05,231.1L508.10,231.1L508.10,232.3L509.15,232.3L509.15,233.3L510.20,233.3L510.20,234.2L511.25,234.2L511.25,235.0L512.30,235.0L512.30,235.6L513.35,235.6L513.35,236.2L514.40,236.2L514.40,236.7L515.45,236.7L515.45,237.1L516.50,237.1L516.50,237.3L517.55,237.3L517.55,237.4L518.60,237.4L518.60,237.6L519.65,237.6L519.65,237.8L520.70,237.8L520.70,238.0L521.75,238.0L521.75,238.1L522.80,238.1L522.80,238.2L523.85,238.2L523.85,238.3L524.90,238.3L524.90,238.4L525.95,238.4L525.95,238.5L527.00,238.5L527.00,238.6L528.00,238.6L528.00,238.6Z" fill="#fcbfae"/>
<path d="M470.50,238.6L470.50,238.0L471.55,238.0L471.55,236.7L472.60,236.7L472.60,234.9L473.65,234.9L473.65,232.5L474.70,232.5L474.70,224.8L475.75,224.8L475.75,211.6L476.80,211.6L476.80,206.4L477.85,206.4L477.85,206.0L478.90,206.0L478.90,213.8L479.95,213.8L479.95,217.6L481.00,217.6L481.00,205.9L482.05,205.9L482.05,204.5L483.10,204.5L483.10,208.3L484.15,208.3L484.15,216.7L485.20,216.7L485.20,220.8L486.25,220.8L486.25,221.7L487.30,221.7L487.30,221.9L488.35,221.9L488.35,222.8L489.40,222.8L489.40,224.4L490.45,224.4L490.45,225.6L491.50,225.6L491.50,226.9L492.55,226.9L492.55,228.1L493.60,228.1L493.60,229.3L494.65,229.3L494.65,230.4L495.70,230.4L495.70,231.6L496.75,231.6L496.75,232.8L497.80,232.8L497.80,234.0L498.85,234.0L498.85,235.3L499.90,235.3L499.90,236.6L500.95,236.6L500.95,237.9L502.00,237.9L502.00,238.6Z" fill="#4f0f8c"/>
<path d="M474.50,238.6L474.50,238.0L475.55,238.0L475.55,236.8L476.60,236.8L476.60,235.7L477.65,235.7L477.65,234.5L478.70,234.5L478.70,233.4L479.75,233.4L479.75,232.1L480.80,232.1L480.80,230.7L481.85,230.7L481.85,229.2L482.90,229.2L482.90,227.8L483.95,227.8L483.95,226.3L485.00,226.3L485.00,224.8L486.05,224.8L486.05,223.3L487.10,223.3L487.10,220.9L488.15,220.9L488.15,217.7L489.20,217.7L489.20,217.7L490.25,217.7L490.25,217.7L491.30,217.7L491.30,217.7L492.35,217.7L492.35,217.7L493.40,217.7L493.40,218.3L494.45,218.3L494.45,218.3L495.50,218.3L495.50,218.3L496.55,218.3L496.55,218.3L497.60,218.3L497.60,220.6L498.65,220.6L498.65,224.4L499.70,224.4L499.70,225.7L500.75,225.7L500.75,226.0L501.80,226.0L501.80,226.3L502.85,226.3L502.85,226.8L503.90,226.8L503.90,227.6L504.95,227.6L504.95,228.6L506.00,228.6L506.00,229.9L507.05,229.9L507.05,231.1L508.10,231.1L508.10,232.3L509.15,232.3L509.15,233.3L510.20,233.3L510.20,234.2L511.25,234.2L511.25,235.0L512.30,235.0L512.30,235.6L513.35,235.6L513.35,236.2L514.40,236.2L514.40,236.7L515.45,236.7L515.45,237.1L516.50,237.1L516.50,237.3L517.55,237.3L517.55,237.4L518.60,237.4L518.60,237.6L519.65,237.6L519.65,237.8L520.70,237.8L520.70,238.0L521.75,238.0L521.75,238.1L522.80,238.1L522.80,238.2L523.85,238.2L523.85,238.3L524.90,238.3L524.90,238.4L525.95,238.4L525.95,238.5L527.00,238.5L527.00,238.6L528.00,238.6L528.00,238.6Z" fill="#c2708f" clip-path="url(#p21)"/>
<line x1="493.5" y1="204.8" x2="493.5" y2="238.6" stroke="#000" stroke-width="1.05" stroke-dasharray="3.5,1.4"/>
<line x1="458.5" y1="238.6" x2="563.2" y2="238.6" stroke="#8c8c8c" stroke-width="1.2"/>
<line x1="458.5" y1="204.5" x2="458.5" y2="238.6" stroke="#222" stroke-width="1.0"/>
<line x1="456.0" y1="204.5" x2="458.5" y2="204.5" stroke="#222" stroke-width="0.9"/>
<line x1="458.2" y1="238.6" x2="458.2" y2="240.8" stroke="#666" stroke-width="0.7"/>
<line x1="475.7" y1="238.6" x2="475.7" y2="240.8" stroke="#666" stroke-width="0.7"/>
<line x1="493.2" y1="238.6" x2="493.2" y2="240.8" stroke="#666" stroke-width="0.7"/>
<line x1="510.7" y1="238.6" x2="510.7" y2="240.8" stroke="#666" stroke-width="0.7"/>
<line x1="528.2" y1="238.6" x2="528.2" y2="240.8" stroke="#666" stroke-width="0.7"/>
<line x1="545.7" y1="238.6" x2="545.7" y2="240.8" stroke="#666" stroke-width="0.7"/>
<line x1="563.2" y1="238.6" x2="563.2" y2="240.8" stroke="#666" stroke-width="0.7"/>
<text x="454.8" y="207.8" font-size="10.00" text-anchor="end" font-weight="normal" fill="#000" >0.05</text>
<text x="563.2" y="218.0" font-size="10.00" text-anchor="end" font-weight="normal" fill="#000" >SSP1-2.6</text>
<clipPath id="p22"><path d="M476.70,275.0L476.70,266.5L477.75,266.5L477.75,254.0L478.80,254.0L478.80,254.0L479.85,254.0L479.85,247.0L480.90,247.0L480.90,250.3L481.95,250.3L481.95,251.1L483.00,251.1L483.00,247.5L484.05,247.5L484.05,246.4L485.10,246.4L485.10,245.7L486.15,245.7L486.15,246.8L487.20,246.8L487.20,251.3L488.25,251.3L488.25,255.6L489.30,255.6L489.30,259.1L490.35,259.1L490.35,261.3L491.40,261.3L491.40,262.6L492.45,262.6L492.45,263.5L493.50,263.5L493.50,264.4L494.55,264.4L494.55,265.2L495.60,265.2L495.60,266.1L496.65,266.1L496.65,266.7L497.70,266.7L497.70,267.4L498.75,267.4L498.75,268.0L499.80,268.0L499.80,268.6L500.85,268.6L500.85,269.1L501.90,269.1L501.90,269.5L502.95,269.5L502.95,269.9L504.00,269.9L504.00,270.3L505.05,270.3L505.05,270.7L506.10,270.7L506.10,271.0L507.15,271.0L507.15,271.3L508.20,271.3L508.20,271.6L509.25,271.6L509.25,271.9L510.30,271.9L510.30,272.3L511.35,272.3L511.35,272.7L512.40,272.7L512.40,273.1L513.45,273.1L513.45,273.5L514.50,273.5L514.50,274.0L515.55,274.0L515.55,274.5L516.60,274.5L516.60,274.9L517.00,274.9L517.00,275.0Z"/></clipPath>
<path d="M478.00,275.0L478.00,274.3L479.05,274.3L479.05,273.0L480.10,273.0L480.10,271.7L481.15,271.7L481.15,270.3L482.20,270.3L482.20,268.8L483.25,268.8L483.25,267.2L484.30,267.2L484.30,265.7L485.35,265.7L485.35,264.2L486.40,264.2L486.40,263.1L487.45,263.1L487.45,262.0L488.50,262.0L488.50,261.0L489.55,261.0L489.55,260.1L490.60,260.1L490.60,259.8L491.65,259.8L491.65,260.5L492.70,260.5L492.70,261.1L493.75,261.1L493.75,261.5L494.80,261.5L494.80,262.0L495.85,262.0L495.85,262.2L496.90,262.2L496.90,262.4L497.95,262.4L497.95,262.7L499.00,262.7L499.00,262.9L500.05,262.9L500.05,263.0L501.10,263.0L501.10,263.1L502.15,263.1L502.15,263.1L503.20,263.1L503.20,263.2L504.25,263.2L504.25,263.2L505.30,263.2L505.30,263.2L506.35,263.2L506.35,263.3L507.40,263.3L507.40,263.3L508.45,263.3L508.45,263.4L509.50,263.4L509.50,263.4L510.55,263.4L510.55,263.5L511.60,263.5L511.60,263.8L512.65,263.8L512.65,264.5L513.70,264.5L513.70,265.3L514.75,265.3L514.75,266.6L515.80,266.6L515.80,267.9L516.85,267.9L516.85,269.3L517.90,269.3L517.90,270.6L518.95,270.6L518.95,271.4L520.00,271.4L520.00,271.9L521.05,271.9L521.05,272.4L522.10,272.4L522.10,272.8L523.15,272.8L523.15,273.2L524.20,273.2L524.20,273.6L525.25,273.6L525.25,274.0L526.30,274.0L526.30,274.2L527.35,274.2L527.35,274.5L528.40,274.5L528.40,274.7L529.45,274.7L529.45,274.9L530.00,274.9L530.00,275.0Z" fill="#fcbfae"/>
<path d="M476.70,275.0L476.70,266.5L477.75,266.5L477.75,254.0L478.80,254.0L478.80,254.0L479.85,254.0L479.85,247.0L480.90,247.0L480.90,250.3L481.95,250.3L481.95,251.1L483.00,251.1L483.00,247.5L484.05,247.5L484.05,246.4L485.10,246.4L485.10,245.7L486.15,245.7L486.15,246.8L487.20,246.8L487.20,251.3L488.25,251.3L488.25,255.6L489.30,255.6L489.30,259.1L490.35,259.1L490.35,261.3L491.40,261.3L491.40,262.6L492.45,262.6L492.45,263.5L493.50,263.5L493.50,264.4L494.55,264.4L494.55,265.2L495.60,265.2L495.60,266.1L496.65,266.1L496.65,266.7L497.70,266.7L497.70,267.4L498.75,267.4L498.75,268.0L499.80,268.0L499.80,268.6L500.85,268.6L500.85,269.1L501.90,269.1L501.90,269.5L502.95,269.5L502.95,269.9L504.00,269.9L504.00,270.3L505.05,270.3L505.05,270.7L506.10,270.7L506.10,271.0L507.15,271.0L507.15,271.3L508.20,271.3L508.20,271.6L509.25,271.6L509.25,271.9L510.30,271.9L510.30,272.3L511.35,272.3L511.35,272.7L512.40,272.7L512.40,273.1L513.45,273.1L513.45,273.5L514.50,273.5L514.50,274.0L515.55,274.0L515.55,274.5L516.60,274.5L516.60,274.9L517.00,274.9L517.00,275.0Z" fill="#4f0f8c"/>
<path d="M478.00,275.0L478.00,274.3L479.05,274.3L479.05,273.0L480.10,273.0L480.10,271.7L481.15,271.7L481.15,270.3L482.20,270.3L482.20,268.8L483.25,268.8L483.25,267.2L484.30,267.2L484.30,265.7L485.35,265.7L485.35,264.2L486.40,264.2L486.40,263.1L487.45,263.1L487.45,262.0L488.50,262.0L488.50,261.0L489.55,261.0L489.55,260.1L490.60,260.1L490.60,259.8L491.65,259.8L491.65,260.5L492.70,260.5L492.70,261.1L493.75,261.1L493.75,261.5L494.80,261.5L494.80,262.0L495.85,262.0L495.85,262.2L496.90,262.2L496.90,262.4L497.95,262.4L497.95,262.7L499.00,262.7L499.00,262.9L500.05,262.9L500.05,263.0L501.10,263.0L501.10,263.1L502.15,263.1L502.15,263.1L503.20,263.1L503.20,263.2L504.25,263.2L504.25,263.2L505.30,263.2L505.30,263.2L506.35,263.2L506.35,263.3L507.40,263.3L507.40,263.3L508.45,263.3L508.45,263.4L509.50,263.4L509.50,263.4L510.55,263.4L510.55,263.5L511.60,263.5L511.60,263.8L512.65,263.8L512.65,264.5L513.70,264.5L513.70,265.3L514.75,265.3L514.75,266.6L515.80,266.6L515.80,267.9L516.85,267.9L516.85,269.3L517.90,269.3L517.90,270.6L518.95,270.6L518.95,271.4L520.00,271.4L520.00,271.9L521.05,271.9L521.05,272.4L522.10,272.4L522.10,272.8L523.15,272.8L523.15,273.2L524.20,273.2L524.20,273.6L525.25,273.6L525.25,274.0L526.30,274.0L526.30,274.2L527.35,274.2L527.35,274.5L528.40,274.5L528.40,274.7L529.45,274.7L529.45,274.9L530.00,274.9L530.00,275.0Z" fill="#c2708f" clip-path="url(#p22)"/>
<line x1="493.5" y1="241.3" x2="493.5" y2="275.0" stroke="#000" stroke-width="1.05" stroke-dasharray="3.5,1.4"/>
<line x1="458.5" y1="275.0" x2="563.2" y2="275.0" stroke="#8c8c8c" stroke-width="1.2"/>
<line x1="458.5" y1="241.0" x2="458.5" y2="275.0" stroke="#222" stroke-width="1.0"/>
<line x1="456.0" y1="241.0" x2="458.5" y2="241.0" stroke="#222" stroke-width="0.9"/>
<line x1="458.2" y1="275.0" x2="458.2" y2="277.2" stroke="#666" stroke-width="0.7"/>
<line x1="475.7" y1="275.0" x2="475.7" y2="277.2" stroke="#666" stroke-width="0.7"/>
<line x1="493.2" y1="275.0" x2="493.2" y2="277.2" stroke="#666" stroke-width="0.7"/>
<line x1="510.7" y1="275.0" x2="510.7" y2="277.2" stroke="#666" stroke-width="0.7"/>
<line x1="528.2" y1="275.0" x2="528.2" y2="277.2" stroke="#666" stroke-width="0.7"/>
<line x1="545.7" y1="275.0" x2="545.7" y2="277.2" stroke="#666" stroke-width="0.7"/>
<line x1="563.2" y1="275.0" x2="563.2" y2="277.2" stroke="#666" stroke-width="0.7"/>
<text x="454.8" y="244.3" font-size="10.00" text-anchor="end" font-weight="normal" fill="#000" >0.05</text>
<text x="563.2" y="256.0" font-size="10.00" text-anchor="end" font-weight="normal" fill="#000" >SSP2-4.5</text>
<clipPath id="p23"><path d="M479.60,311.3L479.60,308.2L480.65,308.2L480.65,302.1L481.70,302.1L481.70,296.6L482.75,296.6L482.75,293.0L483.80,293.0L483.80,290.3L484.85,290.3L484.85,288.2L485.90,288.2L485.90,287.1L486.95,287.1L486.95,287.1L488.00,287.1L488.00,295.6L489.05,295.6L489.05,300.4L490.10,300.4L490.10,301.9L491.15,301.9L491.15,301.0L492.20,301.0L492.20,300.7L493.25,300.7L493.25,300.7L494.30,300.7L494.30,300.7L495.35,300.7L495.35,300.7L496.40,300.7L496.40,300.9L497.45,300.9L497.45,301.5L498.50,301.5L498.50,301.5L499.55,301.5L499.55,301.5L500.60,301.5L500.60,301.4L501.65,301.4L501.65,301.4L502.70,301.4L502.70,301.3L503.75,301.3L503.75,301.2L504.80,301.2L504.80,300.9L505.85,300.9L505.85,300.4L506.90,300.4L506.90,300.0L507.95,300.0L507.95,299.7L509.00,299.7L509.00,299.7L510.05,299.7L510.05,300.7L511.10,300.7L511.10,301.7L512.15,301.7L512.15,303.2L512.50,303.2L512.50,311.3Z"/></clipPath>
<path d="M484.30,311.3L484.30,307.4L485.35,307.4L485.35,305.3L486.40,305.3L486.40,303.8L487.45,303.8L487.45,302.5L488.50,302.5L488.50,301.4L489.55,301.4L489.55,300.5L490.60,300.5L490.60,300.7L491.65,300.7L491.65,300.9L492.70,300.9L492.70,301.0L493.75,301.0L493.75,301.2L494.80,301.2L494.80,301.3L495.85,301.3L495.85,301.4L496.90,301.4L496.90,301.5L497.95,301.5L497.95,301.5L499.00,301.5L499.00,301.5L500.05,301.5L500.05,301.5L501.10,301.5L501.10,301.5L502.15,301.5L502.15,301.5L503.20,301.5L503.20,301.5L504.25,301.5L504.25,301.5L505.30,301.5L505.30,301.5L506.35,301.5L506.35,301.5L507.40,301.5L507.40,301.5L508.45,301.5L508.45,301.5L509.50,301.5L509.50,301.5L510.55,301.5L510.55,301.5L511.60,301.5L511.60,301.3L512.65,301.3L512.65,301.1L513.70,301.1L513.70,301.6L514.75,301.6L514.75,302.0L515.80,302.0L515.80,302.5L516.85,302.5L516.85,302.9L517.90,302.9L517.90,303.4L518.95,303.4L518.95,303.9L520.00,303.9L520.00,304.5L521.05,304.5L521.05,305.1L522.10,305.1L522.10,305.7L523.15,305.7L523.15,306.3L524.20,306.3L524.20,306.9L525.25,306.9L525.25,307.5L526.30,307.5L526.30,307.8L527.35,307.8L527.35,308.2L528.40,308.2L528.40,308.5L529.45,308.5L529.45,308.9L530.50,308.9L530.50,309.1L531.55,309.1L531.55,309.2L532.60,309.2L532.60,309.4L533.65,309.4L533.65,309.5L534.70,309.5L534.70,309.7L535.75,309.7L535.75,309.8L536.80,309.8L536.80,310.0L537.85,310.0L537.85,310.1L538.90,310.1L538.90,310.3L539.95,310.3L539.95,310.4L541.00,310.4L541.00,310.5L542.05,310.5L542.05,310.7L543.10,310.7L543.10,310.8L544.15,310.8L544.15,311.0L545.20,311.0L545.20,311.0L546.25,311.0L546.25,311.1L547.30,311.1L547.30,311.2L548.35,311.2L548.35,311.2L549.40,311.2L549.40,311.3L550.00,311.3L550.00,311.3Z" fill="#fcbfae"/>
<path d="M479.60,311.3L479.60,308.2L480.65,308.2L480.65,302.1L481.70,302.1L481.70,296.6L482.75,296.6L482.75,293.0L483.80,293.0L483.80,290.3L484.85,290.3L484.85,288.2L485.90,288.2L485.90,287.1L486.95,287.1L486.95,287.1L488.00,287.1L488.00,295.6L489.05,295.6L489.05,300.4L490.10,300.4L490.10,301.9L491.15,301.9L491.15,301.0L492.20,301.0L492.20,300.7L493.25,300.7L493.25,300.7L494.30,300.7L494.30,300.7L495.35,300.7L495.35,300.7L496.40,300.7L496.40,300.9L497.45,300.9L497.45,301.5L498.50,301.5L498.50,301.5L499.55,301.5L499.55,301.5L500.60,301.5L500.60,301.4L501.65,301.4L501.65,301.4L502.70,301.4L502.70,301.3L503.75,301.3L503.75,301.2L504.80,301.2L504.80,300.9L505.85,300.9L505.85,300.4L506.90,300.4L506.90,300.0L507.95,300.0L507.95,299.7L509.00,299.7L509.00,299.7L510.05,299.7L510.05,300.7L511.10,300.7L511.10,301.7L512.15,301.7L512.15,303.2L512.50,303.2L512.50,311.3Z" fill="#4f0f8c"/>
<path d="M484.30,311.3L484.30,307.4L485.35,307.4L485.35,305.3L486.40,305.3L486.40,303.8L487.45,303.8L487.45,302.5L488.50,302.5L488.50,301.4L489.55,301.4L489.55,300.5L490.60,300.5L490.60,300.7L491.65,300.7L491.65,300.9L492.70,300.9L492.70,301.0L493.75,301.0L493.75,301.2L494.80,301.2L494.80,301.3L495.85,301.3L495.85,301.4L496.90,301.4L496.90,301.5L497.95,301.5L497.95,301.5L499.00,301.5L499.00,301.5L500.05,301.5L500.05,301.5L501.10,301.5L501.10,301.5L502.15,301.5L502.15,301.5L503.20,301.5L503.20,301.5L504.25,301.5L504.25,301.5L505.30,301.5L505.30,301.5L506.35,301.5L506.35,301.5L507.40,301.5L507.40,301.5L508.45,301.5L508.45,301.5L509.50,301.5L509.50,301.5L510.55,301.5L510.55,301.5L511.60,301.5L511.60,301.3L512.65,301.3L512.65,301.1L513.70,301.1L513.70,301.6L514.75,301.6L514.75,302.0L515.80,302.0L515.80,302.5L516.85,302.5L516.85,302.9L517.90,302.9L517.90,303.4L518.95,303.4L518.95,303.9L520.00,303.9L520.00,304.5L521.05,304.5L521.05,305.1L522.10,305.1L522.10,305.7L523.15,305.7L523.15,306.3L524.20,306.3L524.20,306.9L525.25,306.9L525.25,307.5L526.30,307.5L526.30,307.8L527.35,307.8L527.35,308.2L528.40,308.2L528.40,308.5L529.45,308.5L529.45,308.9L530.50,308.9L530.50,309.1L531.55,309.1L531.55,309.2L532.60,309.2L532.60,309.4L533.65,309.4L533.65,309.5L534.70,309.5L534.70,309.7L535.75,309.7L535.75,309.8L536.80,309.8L536.80,310.0L537.85,310.0L537.85,310.1L538.90,310.1L538.90,310.3L539.95,310.3L539.95,310.4L541.00,310.4L541.00,310.5L542.05,310.5L542.05,310.7L543.10,310.7L543.10,310.8L544.15,310.8L544.15,311.0L545.20,311.0L545.20,311.0L546.25,311.0L546.25,311.1L547.30,311.1L547.30,311.2L548.35,311.2L548.35,311.2L549.40,311.2L549.40,311.3L550.00,311.3L550.00,311.3Z" fill="#c2708f" clip-path="url(#p23)"/>
<line x1="493.5" y1="277.6" x2="493.5" y2="311.3" stroke="#000" stroke-width="1.05" stroke-dasharray="3.5,1.4"/>
<line x1="458.5" y1="311.3" x2="563.2" y2="311.3" stroke="#8c8c8c" stroke-width="1.2"/>
<line x1="458.5" y1="277.3" x2="458.5" y2="311.3" stroke="#222" stroke-width="1.0"/>
<line x1="456.0" y1="277.3" x2="458.5" y2="277.3" stroke="#222" stroke-width="0.9"/>
<line x1="458.2" y1="311.3" x2="458.2" y2="313.5" stroke="#666" stroke-width="0.7"/>
<line x1="475.7" y1="311.3" x2="475.7" y2="313.5" stroke="#666" stroke-width="0.7"/>
<line x1="493.2" y1="311.3" x2="493.2" y2="313.5" stroke="#666" stroke-width="0.7"/>
<line x1="510.7" y1="311.3" x2="510.7" y2="313.5" stroke="#666" stroke-width="0.7"/>
<line x1="528.2" y1="311.3" x2="528.2" y2="313.5" stroke="#666" stroke-width="0.7"/>
<line x1="545.7" y1="311.3" x2="545.7" y2="313.5" stroke="#666" stroke-width="0.7"/>
<line x1="563.2" y1="311.3" x2="563.2" y2="313.5" stroke="#666" stroke-width="0.7"/>
<text x="454.8" y="280.6" font-size="10.00" text-anchor="end" font-weight="normal" fill="#000" >0.05</text>
<text x="563.2" y="295.4" font-size="10.00" text-anchor="end" font-weight="normal" fill="#000" >SSP3-7.0</text>
<text x="475.7" y="322.9" font-size="9.60" text-anchor="middle" font-weight="normal" fill="#000" >-25</text>
<text x="493.2" y="322.9" font-size="9.60" text-anchor="middle" font-weight="normal" fill="#000" >0</text>
<text x="510.7" y="322.9" font-size="9.60" text-anchor="middle" font-weight="normal" fill="#000" >25</text>
<text x="528.2" y="322.9" font-size="9.60" text-anchor="middle" font-weight="normal" fill="#000" >50</text>
<text x="545.7" y="322.9" font-size="9.60" text-anchor="middle" font-weight="normal" fill="#000" >75</text>
<text x="563.2" y="322.9" font-size="9.60" text-anchor="middle" font-weight="normal" fill="#000" >100</text>
<clipPath id="p24"><path d="M574.70,238.6L574.70,236.3L575.75,236.3L575.75,235.8L576.80,235.8L576.80,235.4L577.85,235.4L577.85,235.4L578.90,235.4L578.90,235.4L579.95,235.4L579.95,235.4L581.00,235.4L581.00,235.4L582.05,235.4L582.05,235.4L583.10,235.4L583.10,221.7L584.15,221.7L584.15,214.1L585.20,214.1L585.20,210.2L586.25,210.2L586.25,207.2L587.30,207.2L587.30,205.4L588.35,205.4L588.35,206.2L589.40,206.2L589.40,209.4L590.45,209.4L590.45,214.8L591.50,214.8L591.50,220.7L592.55,220.7L592.55,223.7L593.60,223.7L593.60,219.3L594.65,219.3L594.65,217.5L595.70,217.5L595.70,217.9L596.75,217.9L596.75,219.6L597.80,219.6L597.80,221.6L598.85,221.6L598.85,223.7L599.90,223.7L599.90,225.6L600.95,225.6L600.95,227.0L602.00,227.0L602.00,228.4L603.05,228.4L603.05,229.7L604.10,229.7L604.10,230.9L605.15,230.9L605.15,232.1L606.20,232.1L606.20,233.1L607.25,233.1L607.25,234.0L608.30,234.0L608.30,234.9L609.35,234.9L609.35,236.0L610.40,236.0L610.40,237.3L611.45,237.3L611.45,238.3L612.00,238.3L612.00,238.6Z"/></clipPath>
<path d="M583.90,238.6L583.90,236.3L584.95,236.3L584.95,234.8L586.00,234.8L586.00,233.4L587.05,233.4L587.05,231.9L588.10,231.9L588.10,230.4L589.15,230.4L589.15,228.9L590.20,228.9L590.20,227.4L591.25,227.4L591.25,225.9L592.30,225.9L592.30,224.2L593.35,224.2L593.35,222.3L594.40,222.3L594.40,220.4L595.45,220.4L595.45,218.5L596.50,218.5L596.50,218.6L597.55,218.6L597.55,218.7L598.60,218.7L598.60,218.7L599.65,218.7L599.65,218.7L600.70,218.7L600.70,218.7L601.75,218.7L601.75,218.9L602.80,218.9L602.80,219.9L603.85,219.9L603.85,220.8L604.90,220.8L604.90,222.4L605.95,222.4L605.95,224.1L607.00,224.1L607.00,225.6L608.05,225.6L608.05,226.9L609.10,226.9L609.10,228.1L610.15,228.1L610.15,229.2L611.20,229.2L611.20,230.2L612.25,230.2L612.25,231.0L613.30,231.0L613.30,231.8L614.35,231.8L614.35,232.5L615.40,232.5L615.40,233.2L616.45,233.2L616.45,233.7L617.50,233.7L617.50,234.3L618.55,234.3L618.55,234.9L619.60,234.9L619.60,235.3L620.65,235.3L620.65,235.7L621.70,235.7L621.70,236.0L622.75,236.0L622.75,236.4L623.80,236.4L623.80,236.7L624.85,236.7L624.85,237.0L625.90,237.0L625.90,237.4L626.95,237.4L626.95,237.7L628.00,237.7L628.00,238.0L629.05,238.0L629.05,238.2L630.10,238.2L630.10,238.4L631.15,238.4L631.15,238.6L631.50,238.6L631.50,238.6Z" fill="#fcbfae"/>
<path d="M574.70,238.6L574.70,236.3L575.75,236.3L575.75,235.8L576.80,235.8L576.80,235.4L577.85,235.4L577.85,235.4L578.90,235.4L578.90,235.4L579.95,235.4L579.95,235.4L581.00,235.4L581.00,235.4L582.05,235.4L582.05,235.4L583.10,235.4L583.10,221.7L584.15,221.7L584.15,214.1L585.20,214.1L585.20,210.2L586.25,210.2L586.25,207.2L587.30,207.2L587.30,205.4L588.35,205.4L588.35,206.2L589.40,206.2L589.40,209.4L590.45,209.4L590.45,214.8L591.50,214.8L591.50,220.7L592.55,220.7L592.55,223.7L593.60,223.7L593.60,219.3L594.65,219.3L594.65,217.5L595.70,217.5L595.70,217.9L596.75,217.9L596.75,219.6L597.80,219.6L597.80,221.6L598.85,221.6L598.85,223.7L599.90,223.7L599.90,225.6L600.95,225.6L600.95,227.0L602.00,227.0L602.00,228.4L603.05,228.4L603.05,229.7L604.10,229.7L604.10,230.9L605.15,230.9L605.15,232.1L606.20,232.1L606.20,233.1L607.25,233.1L607.25,234.0L608.30,234.0L608.30,234.9L609.35,234.9L609.35,236.0L610.40,236.0L610.40,237.3L611.45,237.3L611.45,238.3L612.00,238.3L612.00,238.6Z" fill="#4f0f8c"/>
<path d="M583.90,238.6L583.90,236.3L584.95,236.3L584.95,234.8L586.00,234.8L586.00,233.4L587.05,233.4L587.05,231.9L588.10,231.9L588.10,230.4L589.15,230.4L589.15,228.9L590.20,228.9L590.20,227.4L591.25,227.4L591.25,225.9L592.30,225.9L592.30,224.2L593.35,224.2L593.35,222.3L594.40,222.3L594.40,220.4L595.45,220.4L595.45,218.5L596.50,218.5L596.50,218.6L597.55,218.6L597.55,218.7L598.60,218.7L598.60,218.7L599.65,218.7L599.65,218.7L600.70,218.7L600.70,218.7L601.75,218.7L601.75,218.9L602.80,218.9L602.80,219.9L603.85,219.9L603.85,220.8L604.90,220.8L604.90,222.4L605.95,222.4L605.95,224.1L607.00,224.1L607.00,225.6L608.05,225.6L608.05,226.9L609.10,226.9L609.10,228.1L610.15,228.1L610.15,229.2L611.20,229.2L611.20,230.2L612.25,230.2L612.25,231.0L613.30,231.0L613.30,231.8L614.35,231.8L614.35,232.5L615.40,232.5L615.40,233.2L616.45,233.2L616.45,233.7L617.50,233.7L617.50,234.3L618.55,234.3L618.55,234.9L619.60,234.9L619.60,235.3L620.65,235.3L620.65,235.7L621.70,235.7L621.70,236.0L622.75,236.0L622.75,236.4L623.80,236.4L623.80,236.7L624.85,236.7L624.85,237.0L625.90,237.0L625.90,237.4L626.95,237.4L626.95,237.7L628.00,237.7L628.00,238.0L629.05,238.0L629.05,238.2L630.10,238.2L630.10,238.4L631.15,238.4L631.15,238.6L631.50,238.6L631.50,238.6Z" fill="#c2708f" clip-path="url(#p24)"/>
<line x1="604.5" y1="204.8" x2="604.5" y2="238.6" stroke="#000" stroke-width="1.05" stroke-dasharray="3.5,1.4"/>
<line x1="569.0" y1="238.6" x2="674.0" y2="238.6" stroke="#8c8c8c" stroke-width="1.2"/>
<line x1="569.0" y1="204.5" x2="569.0" y2="238.6" stroke="#222" stroke-width="1.0"/>
<line x1="566.5" y1="204.5" x2="569.0" y2="204.5" stroke="#222" stroke-width="0.9"/>
<line x1="569.0" y1="238.6" x2="569.0" y2="240.8" stroke="#666" stroke-width="0.7"/>
<line x1="586.5" y1="238.6" x2="586.5" y2="240.8" stroke="#666" stroke-width="0.7"/>
<line x1="604.0" y1="238.6" x2="604.0" y2="240.8" stroke="#666" stroke-width="0.7"/>
<line x1="621.5" y1="238.6" x2="621.5" y2="240.8" stroke="#666" stroke-width="0.7"/>
<line x1="639.0" y1="238.6" x2="639.0" y2="240.8" stroke="#666" stroke-width="0.7"/>
<line x1="656.5" y1="238.6" x2="656.5" y2="240.8" stroke="#666" stroke-width="0.7"/>
<line x1="674.0" y1="238.6" x2="674.0" y2="240.8" stroke="#666" stroke-width="0.7"/>
<text x="674.0" y="218.0" font-size="10.00" text-anchor="end" font-weight="normal" fill="#000" >SSP1-2.6</text>
<clipPath id="p25"><path d="M580.90,275.0L580.90,273.2L581.95,273.2L581.95,269.7L583.00,269.7L583.00,266.7L584.05,266.7L584.05,265.3L585.10,265.3L585.10,263.7L586.15,263.7L586.15,261.6L587.20,261.6L587.20,259.4L588.25,259.4L588.25,254.9L589.30,254.9L589.30,250.3L590.35,250.3L590.35,247.0L591.40,247.0L591.40,246.9L592.45,246.9L592.45,247.6L593.50,247.6L593.50,249.5L594.55,249.5L594.55,253.9L595.60,253.9L595.60,257.5L596.65,257.5L596.65,259.9L597.70,259.9L597.70,262.0L598.75,262.0L598.75,263.8L599.80,263.8L599.80,265.1L600.85,265.1L600.85,265.8L601.90,265.8L601.90,266.3L602.95,266.3L602.95,266.8L604.00,266.8L604.00,267.2L605.05,267.2L605.05,267.6L606.10,267.6L606.10,268.0L607.15,268.0L607.15,268.4L608.20,268.4L608.20,268.7L609.25,268.7L609.25,268.9L610.30,268.9L610.30,269.2L611.35,269.2L611.35,269.5L612.40,269.5L612.40,269.7L613.45,269.7L613.45,270.0L614.50,270.0L614.50,270.3L615.55,270.3L615.55,270.5L616.60,270.5L616.60,270.9L617.65,270.9L617.65,271.3L618.70,271.3L618.70,271.7L619.75,271.7L619.75,272.2L620.80,272.2L620.80,272.8L621.85,272.8L621.85,273.4L622.90,273.4L622.90,274.0L623.95,274.0L623.95,274.6L625.00,274.6L625.00,274.9L625.20,274.9L625.20,275.0Z"/></clipPath>
<path d="M585.50,275.0L585.50,272.5L586.55,272.5L586.55,271.4L587.60,271.4L587.60,270.3L588.65,270.3L588.65,269.4L589.70,269.4L589.70,268.5L590.75,268.5L590.75,267.6L591.80,267.6L591.80,267.0L592.85,267.0L592.85,266.4L593.90,266.4L593.90,265.9L594.95,265.9L594.95,265.3L596.00,265.3L596.00,264.9L597.05,264.9L597.05,264.8L598.10,264.8L598.10,264.7L599.15,264.7L599.15,264.6L600.20,264.6L600.20,264.5L601.25,264.5L601.25,264.2L602.30,264.2L602.30,263.9L603.35,263.9L603.35,263.6L604.40,263.6L604.40,263.8L605.45,263.8L605.45,264.3L606.50,264.3L606.50,264.7L607.55,264.7L607.55,264.8L608.60,264.8L608.60,264.4L609.65,264.4L609.65,263.9L610.70,263.9L610.70,263.4L611.75,263.4L611.75,262.9L612.80,262.9L612.80,262.8L613.85,262.8L613.85,262.8L614.90,262.8L614.90,262.8L615.95,262.8L615.95,262.8L617.00,262.8L617.00,262.8L618.05,262.8L618.05,263.4L619.10,263.4L619.10,265.2L620.15,265.2L620.15,266.6L621.20,266.6L621.20,268.0L622.25,268.0L622.25,268.3L623.30,268.3L623.30,268.7L624.35,268.7L624.35,269.0L625.40,269.0L625.40,269.3L626.45,269.3L626.45,269.6L627.50,269.6L627.50,269.7L628.55,269.7L628.55,269.8L629.60,269.8L629.60,269.9L630.65,269.9L630.65,270.1L631.70,270.1L631.70,270.5L632.75,270.5L632.75,270.9L633.80,270.9L633.80,271.3L634.85,271.3L634.85,271.6L635.90,271.6L635.90,272.0L636.95,272.0L636.95,272.3L638.00,272.3L638.00,272.7L639.05,272.7L639.05,273.0L640.10,273.0L640.10,273.3L641.15,273.3L641.15,273.6L642.20,273.6L642.20,274.0L643.25,274.0L643.25,274.2L644.30,274.2L644.30,274.4L645.35,274.4L645.35,274.5L646.40,274.5L646.40,274.7L647.45,274.7L647.45,274.8L648.50,274.8L648.50,274.9L649.55,274.9L649.55,275.0L650.00,275.0L650.00,275.0Z" fill="#fcbfae"/>
<path d="M580.90,275.0L580.90,273.2L581.95,273.2L581.95,269.7L583.00,269.7L583.00,266.7L584.05,266.7L584.05,265.3L585.10,265.3L585.10,263.7L586.15,263.7L586.15,261.6L587.20,261.6L587.20,259.4L588.25,259.4L588.25,254.9L589.30,254.9L589.30,250.3L590.35,250.3L590.35,247.0L591.40,247.0L591.40,246.9L592.45,246.9L592.45,247.6L593.50,247.6L593.50,249.5L594.55,249.5L594.55,253.9L595.60,253.9L595.60,257.5L596.65,257.5L596.65,259.9L597.70,259.9L597.70,262.0L598.75,262.0L598.75,263.8L599.80,263.8L599.80,265.1L600.85,265.1L600.85,265.8L601.90,265.8L601.90,266.3L602.95,266.3L602.95,266.8L604.00,266.8L604.00,267.2L605.05,267.2L605.05,267.6L606.10,267.6L606.10,268.0L607.15,268.0L607.15,268.4L608.20,268.4L608.20,268.7L609.25,268.7L609.25,268.9L610.30,268.9L610.30,269.2L611.35,269.2L611.35,269.5L612.40,269.5L612.40,269.7L613.45,269.7L613.45,270.0L614.50,270.0L614.50,270.3L615.55,270.3L615.55,270.5L616.60,270.5L616.60,270.9L617.65,270.9L617.65,271.3L618.70,271.3L618.70,271.7L619.75,271.7L619.75,272.2L620.80,272.2L620.80,272.8L621.85,272.8L621.85,273.4L622.90,273.4L622.90,274.0L623.95,274.0L623.95,274.6L625.00,274.6L625.00,274.9L625.20,274.9L625.20,275.0Z" fill="#4f0f8c"/>
<path d="M585.50,275.0L585.50,272.5L586.55,272.5L586.55,271.4L587.60,271.4L587.60,270.3L588.65,270.3L588.65,269.4L589.70,269.4L589.70,268.5L590.75,268.5L590.75,267.6L591.80,267.6L591.80,267.0L592.85,267.0L592.85,266.4L593.90,266.4L593.90,265.9L594.95,265.9L594.95,265.3L596.00,265.3L596.00,264.9L597.05,264.9L597.05,264.8L598.10,264.8L598.10,264.7L599.15,264.7L599.15,264.6L600.20,264.6L600.20,264.5L601.25,264.5L601.25,264.2L602.30,264.2L602.30,263.9L603.35,263.9L603.35,263.6L604.40,263.6L604.40,263.8L605.45,263.8L605.45,264.3L606.50,264.3L606.50,264.7L607.55,264.7L607.55,264.8L608.60,264.8L608.60,264.4L609.65,264.4L609.65,263.9L610.70,263.9L610.70,263.4L611.75,263.4L611.75,262.9L612.80,262.9L612.80,262.8L613.85,262.8L613.85,262.8L614.90,262.8L614.90,262.8L615.95,262.8L615.95,262.8L617.00,262.8L617.00,262.8L618.05,262.8L618.05,263.4L619.10,263.4L619.10,265.2L620.15,265.2L620.15,266.6L621.20,266.6L621.20,268.0L622.25,268.0L622.25,268.3L623.30,268.3L623.30,268.7L624.35,268.7L624.35,269.0L625.40,269.0L625.40,269.3L626.45,269.3L626.45,269.6L627.50,269.6L627.50,269.7L628.55,269.7L628.55,269.8L629.60,269.8L629.60,269.9L630.65,269.9L630.65,270.1L631.70,270.1L631.70,270.5L632.75,270.5L632.75,270.9L633.80,270.9L633.80,271.3L634.85,271.3L634.85,271.6L635.90,271.6L635.90,272.0L636.95,272.0L636.95,272.3L638.00,272.3L638.00,272.7L639.05,272.7L639.05,273.0L640.10,273.0L640.10,273.3L641.15,273.3L641.15,273.6L642.20,273.6L642.20,274.0L643.25,274.0L643.25,274.2L644.30,274.2L644.30,274.4L645.35,274.4L645.35,274.5L646.40,274.5L646.40,274.7L647.45,274.7L647.45,274.8L648.50,274.8L648.50,274.9L649.55,274.9L649.55,275.0L650.00,275.0L650.00,275.0Z" fill="#c2708f" clip-path="url(#p25)"/>
<line x1="604.5" y1="241.3" x2="604.5" y2="275.0" stroke="#000" stroke-width="1.05" stroke-dasharray="3.5,1.4"/>
<line x1="569.0" y1="275.0" x2="674.0" y2="275.0" stroke="#8c8c8c" stroke-width="1.2"/>
<line x1="569.0" y1="241.0" x2="569.0" y2="275.0" stroke="#222" stroke-width="1.0"/>
<line x1="566.5" y1="241.0" x2="569.0" y2="241.0" stroke="#222" stroke-width="0.9"/>
<line x1="569.0" y1="275.0" x2="569.0" y2="277.2" stroke="#666" stroke-width="0.7"/>
<line x1="586.5" y1="275.0" x2="586.5" y2="277.2" stroke="#666" stroke-width="0.7"/>
<line x1="604.0" y1="275.0" x2="604.0" y2="277.2" stroke="#666" stroke-width="0.7"/>
<line x1="621.5" y1="275.0" x2="621.5" y2="277.2" stroke="#666" stroke-width="0.7"/>
<line x1="639.0" y1="275.0" x2="639.0" y2="277.2" stroke="#666" stroke-width="0.7"/>
<line x1="656.5" y1="275.0" x2="656.5" y2="277.2" stroke="#666" stroke-width="0.7"/>
<line x1="674.0" y1="275.0" x2="674.0" y2="277.2" stroke="#666" stroke-width="0.7"/>
<text x="674.0" y="256.0" font-size="10.00" text-anchor="end" font-weight="normal" fill="#000" >SSP2-4.5</text>
<clipPath id="p26"><path d="M586.10,311.3L586.10,307.6L587.15,307.6L587.15,305.8L588.20,305.8L588.20,304.0L589.25,304.0L589.25,303.2L590.30,303.2L590.30,302.7L591.35,302.7L591.35,302.3L592.40,302.3L592.40,300.3L593.45,300.3L593.45,296.1L594.50,296.1L594.50,295.7L595.55,295.7L595.55,295.5L596.60,295.5L596.60,295.6L597.65,295.6L597.65,297.1L598.70,297.1L598.70,298.0L599.75,298.0L599.75,298.0L600.80,298.0L600.80,297.1L601.85,297.1L601.85,296.8L602.90,296.8L602.90,298.2L603.95,298.2L603.95,300.0L605.00,300.0L605.00,300.9L606.05,300.9L606.05,301.4L607.10,301.4L607.10,302.0L608.15,302.0L608.15,302.8L609.20,302.8L609.20,303.8L610.25,303.8L610.25,304.2L611.30,304.2L611.30,304.4L612.35,304.4L612.35,304.6L613.40,304.6L613.40,304.8L614.45,304.8L614.45,305.1L615.50,305.1L615.50,305.4L616.55,305.4L616.55,305.7L617.60,305.7L617.60,306.0L618.65,306.0L618.65,306.4L619.70,306.4L619.70,306.9L620.75,306.9L620.75,307.3L621.80,307.3L621.80,307.6L622.85,307.6L622.85,307.9L623.90,307.9L623.90,308.1L624.95,308.1L624.95,308.4L626.00,308.4L626.00,308.6L627.05,308.6L627.05,308.8L628.10,308.8L628.10,308.9L629.15,308.9L629.15,309.1L630.20,309.1L630.20,309.3L631.25,309.3L631.25,309.5L632.30,309.5L632.30,309.6L633.35,309.6L633.35,309.7L634.40,309.7L634.40,309.8L635.45,309.8L635.45,309.9L636.50,309.9L636.50,310.0L637.55,310.0L637.55,310.1L638.60,310.1L638.60,310.2L639.65,310.2L639.65,310.3L640.70,310.3L640.70,310.4L641.75,310.4L641.75,310.5L642.80,310.5L642.80,310.6L643.85,310.6L643.85,310.7L644.90,310.7L644.90,310.8L645.95,310.8L645.95,310.9L647.00,310.9L647.00,311.1L648.05,311.1L648.05,311.2L649.10,311.2L649.10,311.3L650.00,311.3L650.00,311.3Z"/></clipPath>
<path d="M591.40,311.3L591.40,309.7L592.45,309.7L592.45,309.2L593.50,309.2L593.50,308.6L594.55,308.6L594.55,308.1L595.60,308.1L595.60,307.6L596.65,307.6L596.65,307.0L597.70,307.0L597.70,306.7L598.75,306.7L598.75,306.5L599.80,306.5L599.80,306.2L600.85,306.2L600.85,305.9L601.90,305.9L601.90,305.6L602.95,305.6L602.95,305.5L604.00,305.5L604.00,305.6L605.05,305.6L605.05,305.6L606.10,305.6L606.10,305.7L607.15,305.7L607.15,305.7L608.20,305.7L608.20,305.8L609.25,305.8L609.25,305.9L610.30,305.9L610.30,306.0L611.35,306.0L611.35,306.1L612.40,306.1L612.40,306.1L613.45,306.1L613.45,306.2L614.50,306.2L614.50,306.3L615.55,306.3L615.55,306.4L616.60,306.4L616.60,306.5L617.65,306.5L617.65,306.5L618.70,306.5L618.70,306.6L619.75,306.6L619.75,306.6L620.80,306.6L620.80,306.6L621.85,306.6L621.85,306.7L622.90,306.7L622.90,306.7L623.95,306.7L623.95,306.6L625.00,306.6L625.00,306.4L626.05,306.4L626.05,306.2L627.10,306.2L627.10,306.0L628.15,306.0L628.15,305.8L629.20,305.8L629.20,306.0L630.25,306.0L630.25,306.1L631.30,306.1L631.30,306.3L632.35,306.3L632.35,306.4L633.40,306.4L633.40,306.5L634.45,306.5L634.45,306.6L635.50,306.6L635.50,306.7L636.55,306.7L636.55,306.8L637.60,306.8L637.60,306.8L638.65,306.8L638.65,306.9L639.70,306.9L639.70,307.0L640.75,307.0L640.75,307.0L641.80,307.0L641.80,307.0L642.85,307.0L642.85,307.0L643.90,307.0L643.90,307.0L644.95,307.0L644.95,307.0L646.00,307.0L646.00,307.0L647.05,307.0L647.05,307.0L648.10,307.0L648.10,306.9L649.15,306.9L649.15,306.8L650.20,306.8L650.20,306.7L651.25,306.7L651.25,306.6L652.30,306.6L652.30,306.6L653.35,306.6L653.35,306.5L654.40,306.5L654.40,306.6L655.45,306.6L655.45,306.7L656.50,306.7L656.50,306.7L657.55,306.7L657.55,306.8L658.60,306.8L658.60,306.9L659.65,306.9L659.65,307.0L660.70,307.0L660.70,307.1L661.75,307.1L661.75,307.3L662.80,307.3L662.80,307.5L663.85,307.5L663.85,307.7L664.90,307.7L664.90,308.0L665.95,308.0L665.95,308.2L667.00,308.2L667.00,308.4L668.05,308.4L668.05,308.7L669.10,308.7L669.10,309.0L670.15,309.0L670.15,309.4L671.20,309.4L671.20,309.7L672.25,309.7L672.25,310.4L673.30,310.4L673.30,311.2L673.50,311.2L673.50,311.3Z" fill="#fcbfae"/>
<path d="M586.10,311.3L586.10,307.6L587.15,307.6L587.15,305.8L588.20,305.8L588.20,304.0L589.25,304.0L589.25,303.2L590.30,303.2L590.30,302.7L591.35,302.7L591.35,302.3L592.40,302.3L592.40,300.3L593.45,300.3L593.45,296.1L594.50,296.1L594.50,295.7L595.55,295.7L595.55,295.5L596.60,295.5L596.60,295.6L597.65,295.6L597.65,297.1L598.70,297.1L598.70,298.0L599.75,298.0L599.75,298.0L600.80,298.0L600.80,297.1L601.85,297.1L601.85,296.8L602.90,296.8L602.90,298.2L603.95,298.2L603.95,300.0L605.00,300.0L605.00,300.9L606.05,300.9L606.05,301.4L607.10,301.4L607.10,302.0L608.15,302.0L608.15,302.8L609.20,302.8L609.20,303.8L610.25,303.8L610.25,304.2L611.30,304.2L611.30,304.4L612.35,304.4L612.35,304.6L613.40,304.6L613.40,304.8L614.45,304.8L614.45,305.1L615.50,305.1L615.50,305.4L616.55,305.4L616.55,305.7L617.60,305.7L617.60,306.0L618.65,306.0L618.65,306.4L619.70,306.4L619.70,306.9L620.75,306.9L620.75,307.3L621.80,307.3L621.80,307.6L622.85,307.6L622.85,307.9L623.90,307.9L623.90,308.1L624.95,308.1L624.95,308.4L626.00,308.4L626.00,308.6L627.05,308.6L627.05,308.8L628.10,308.8L628.10,308.9L629.15,308.9L629.15,309.1L630.20,309.1L630.20,309.3L631.25,309.3L631.25,309.5L632.30,309.5L632.30,309.6L633.35,309.6L633.35,309.7L634.40,309.7L634.40,309.8L635.45,309.8L635.45,309.9L636.50,309.9L636.50,310.0L637.55,310.0L637.55,310.1L638.60,310.1L638.60,310.2L639.65,310.2L639.65,310.3L640.70,310.3L640.70,310.4L641.75,310.4L641.75,310.5L642.80,310.5L642.80,310.6L643.85,310.6L643.85,310.7L644.90,310.7L644.90,310.8L645.95,310.8L645.95,310.9L647.00,310.9L647.00,311.1L648.05,311.1L648.05,311.2L649.10,311.2L649.10,311.3L650.00,311.3L650.00,311.3Z" fill="#4f0f8c"/>
<path d="M591.40,311.3L591.40,309.7L592.45,309.7L592.45,309.2L593.50,309.2L593.50,308.6L594.55,308.6L594.55,308.1L595.60,308.1L595.60,307.6L596.65,307.6L596.65,307.0L597.70,307.0L597.70,306.7L598.75,306.7L598.75,306.5L599.80,306.5L599.80,306.2L600.85,306.2L600.85,305.9L601.90,305.9L601.90,305.6L602.95,305.6L602.95,305.5L604.00,305.5L604.00,305.6L605.05,305.6L605.05,305.6L606.10,305.6L606.10,305.7L607.15,305.7L607.15,305.7L608.20,305.7L608.20,305.8L609.25,305.8L609.25,305.9L610.30,305.9L610.30,306.0L611.35,306.0L611.35,306.1L612.40,306.1L612.40,306.1L613.45,306.1L613.45,306.2L614.50,306.2L614.50,306.3L615.55,306.3L615.55,306.4L616.60,306.4L616.60,306.5L617.65,306.5L617.65,306.5L618.70,306.5L618.70,306.6L619.75,306.6L619.75,306.6L620.80,306.6L620.80,306.6L621.85,306.6L621.85,306.7L622.90,306.7L622.90,306.7L623.95,306.7L623.95,306.6L625.00,306.6L625.00,306.4L626.05,306.4L626.05,306.2L627.10,306.2L627.10,306.0L628.15,306.0L628.15,305.8L629.20,305.8L629.20,306.0L630.25,306.0L630.25,306.1L631.30,306.1L631.30,306.3L632.35,306.3L632.35,306.4L633.40,306.4L633.40,306.5L634.45,306.5L634.45,306.6L635.50,306.6L635.50,306.7L636.55,306.7L636.55,306.8L637.60,306.8L637.60,306.8L638.65,306.8L638.65,306.9L639.70,306.9L639.70,307.0L640.75,307.0L640.75,307.0L641.80,307.0L641.80,307.0L642.85,307.0L642.85,307.0L643.90,307.0L643.90,307.0L644.95,307.0L644.95,307.0L646.00,307.0L646.00,307.0L647.05,307.0L647.05,307.0L648.10,307.0L648.10,306.9L649.15,306.9L649.15,306.8L650.20,306.8L650.20,306.7L651.25,306.7L651.25,306.6L652.30,306.6L652.30,306.6L653.35,306.6L653.35,306.5L654.40,306.5L654.40,306.6L655.45,306.6L655.45,306.7L656.50,306.7L656.50,306.7L657.55,306.7L657.55,306.8L658.60,306.8L658.60,306.9L659.65,306.9L659.65,307.0L660.70,307.0L660.70,307.1L661.75,307.1L661.75,307.3L662.80,307.3L662.80,307.5L663.85,307.5L663.85,307.7L664.90,307.7L664.90,308.0L665.95,308.0L665.95,308.2L667.00,308.2L667.00,308.4L668.05,308.4L668.05,308.7L669.10,308.7L669.10,309.0L670.15,309.0L670.15,309.4L671.20,309.4L671.20,309.7L672.25,309.7L672.25,310.4L673.30,310.4L673.30,311.2L673.50,311.2L673.50,311.3Z" fill="#c2708f" clip-path="url(#p26)"/>
<line x1="604.5" y1="277.6" x2="604.5" y2="311.3" stroke="#000" stroke-width="1.05" stroke-dasharray="3.5,1.4"/>
<line x1="569.0" y1="311.3" x2="674.0" y2="311.3" stroke="#8c8c8c" stroke-width="1.2"/>
<line x1="569.0" y1="277.3" x2="569.0" y2="311.3" stroke="#222" stroke-width="1.0"/>
<line x1="566.5" y1="277.3" x2="569.0" y2="277.3" stroke="#222" stroke-width="0.9"/>
<line x1="569.0" y1="311.3" x2="569.0" y2="313.5" stroke="#666" stroke-width="0.7"/>
<line x1="586.5" y1="311.3" x2="586.5" y2="313.5" stroke="#666" stroke-width="0.7"/>
<line x1="604.0" y1="311.3" x2="604.0" y2="313.5" stroke="#666" stroke-width="0.7"/>
<line x1="621.5" y1="311.3" x2="621.5" y2="313.5" stroke="#666" stroke-width="0.7"/>
<line x1="639.0" y1="311.3" x2="639.0" y2="313.5" stroke="#666" stroke-width="0.7"/>
<line x1="656.5" y1="311.3" x2="656.5" y2="313.5" stroke="#666" stroke-width="0.7"/>
<line x1="674.0" y1="311.3" x2="674.0" y2="313.5" stroke="#666" stroke-width="0.7"/>
<text x="674.0" y="295.4" font-size="10.00" text-anchor="end" font-weight="normal" fill="#000" >SSP3-7.0</text>
<text x="586.5" y="322.9" font-size="9.60" text-anchor="middle" font-weight="normal" fill="#000" >-25</text>
<text x="604.0" y="322.9" font-size="9.60" text-anchor="middle" font-weight="normal" fill="#000" >0</text>
<text x="621.5" y="322.9" font-size="9.60" text-anchor="middle" font-weight="normal" fill="#000" >25</text>
<text x="639.0" y="322.9" font-size="9.60" text-anchor="middle" font-weight="normal" fill="#000" >50</text>
<text x="656.5" y="322.9" font-size="9.60" text-anchor="middle" font-weight="normal" fill="#000" >75</text>
<text x="674.0" y="322.9" font-size="9.60" text-anchor="middle" font-weight="normal" fill="#000" >100</text>
<text x="457.0" y="338.8" font-size="11.60" text-anchor="start" font-weight="normal" fill="#000" >Change in anomalies during ELP events (%)</text>
</svg></body></html>
